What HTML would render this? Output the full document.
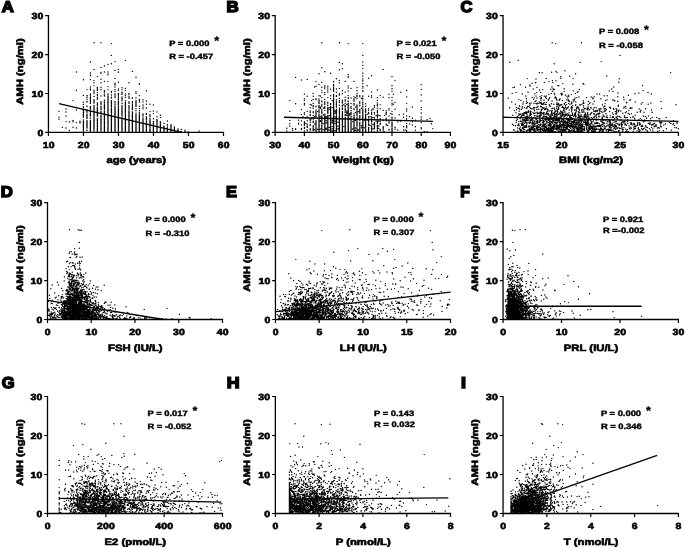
<!DOCTYPE html>
<html><head><meta charset="utf-8"><title>AMH correlations</title>
<style>
html,body{margin:0;padding:0;background:#fff;}
body{width:685px;height:547px;overflow:hidden;font-family:"Liberation Sans",sans-serif;}
svg{display:block;will-change:transform;}
text{font-family:"Liberation Sans",sans-serif;font-weight:bold;fill:#000;text-rendering:geometricPrecision;}
.ax{fill:none;stroke:#000;stroke-width:1.3;}
.tk{fill:none;stroke:#000;stroke-width:1.2;}
.pt{fill:none;stroke:#000;stroke-width:1.4;stroke-linecap:round;}
.rl{fill:none;stroke:#000;stroke-width:1.3;}
.tl{font-size:8.8px;stroke:#000;stroke-width:0.6px;letter-spacing:0.15px;}
.ti{font-size:9.2px;stroke:#000;stroke-width:0.6px;}
.an{font-size:7.8px;stroke:#000;stroke-width:0.4px;}
.st{font-size:12.5px;stroke:#000;stroke-width:0.3px;}
.lt{font-size:15.6px;stroke:#000;stroke-width:1.5px;stroke-linejoin:miter;}
</style></head>
<body>
<svg width="685" height="547" viewBox="0 0 685 547">
<rect width="685" height="547" fill="#fff"/>
<g><path class="pt" d="M94 42.8h.01m6.99 0h.01m10.39 .8h.01m-.01 11.8h.01m13.99 5.2h.01m-10.41 1h.01m-24.61 .4h.01m20.99 1.8h.01m-3.41 .6h.01m-3.61 1.6h.01m-3.41 1.4h.01m-7.01 2h.01m24.39 0h.01m-3.41 1h.01m17.39 1h.01m-56.01 .6h.01m27.99 0h.01m3.59 0h.01m10.39 0h.01m-.01 .2h.01m-17.41 .2h.01m-10.61 .6h.01m10.59 .2h.01m6.99 1h.01m-.01 .6h.01m-17.61 .4h.01m-.01 .4h.01m6.99 1h.01m38.59 .6h.01m-21.01 1.2h.01m-14.01 .8h.01m-10.61 .4h.01m-7.01 .2h.01m10.59 .8h.01m10.39 .8h.01m3.59 .2h.01m10.39 .6h.01m10.59 .4h.01m-35.01 .2h.01m6.99 0h.01m27.99 0h.01m-14.01 .4h.01m24.39 .4h.01m-24.41 .4h.01m24.39 .6h.01m-24.41 .4h.01m-21.01 .6h.01m13.99 1h.01m-17.61 .4h.01m24.59 0h.01m-14.01 .2h.01m-3.61 .2h.01m24.59 .4h.01m3.39 .6h.01m-28.01 .4h.01m-7.01 .2h.01m27.99 0h.01m-28.01 .4h.01m10.59 0h.01m-14.01 .2h.01m13.99 0h.01m6.99 0h.01m6.99 0h.01m6.99 0h.01m-24.61 .2h.01m-7.01 .2h.01m-14.01 .2h.01m17.59 0h.01m3.39 0h.01m-.01 .2h.01m20.99 0h.01m6.99 .2h.01m-21.01 .2h.01m41.99 0h.01m-31.41 .4h.01m-10.61 .2h.01m6.99 0h.01m-17.41 .4h.01m41.99 0h.01m-42.01 .2h.01m-.01 .2h.01m27.99 0h.01m-.01 .2h.01m-24.61 .2h.01m13.99 0h.01m10.59 0h.01m-17.61 .4h.01m17.59 0h.01m-3.61 .4h.01m10.59 0h.01m6.99 0h.01m-42.01 .2h.01m24.39 0h.01m-28.01 .4h.01m17.59 0h.01m6.99 0h.01m10.39 0h.01m-3.41 .2h.01m-31.61 .2h.01m6.99 0h.01m17.59 0h.01m3.39 0h.01m3.59 0h.01m-7.01 .2h.01m13.99 .2h.01m-24.61 .2h.01m3.59 0h.01m3.39 0h.01m-28.01 .4h.01m3.59 0h.01m17.39 0h.01m-14.01 .2h.01m13.99 0h.01m13.99 0h.01m20.99 0h.01m-49.01 .2h.01m6.99 0h.01m27.99 0h.01m-38.41 .2h.01m3.39 0h.01m10.59 0h.01m3.39 0h.01m10.59 0h.01m-21.01 .4h.01m13.99 0h.01m-.01 .2h.01m20.99 0h.01m-21.01 .2h.01m10.39 .2h.01m3.59 0h.01m-10.61 .2h.01m3.59 0h.01m13.99 0h.01m-38.61 .2h.01m6.99 0h.01m17.59 0h.01m-.01 .2h.01m10.39 0h.01m-38.41 .2h.01m20.99 0h.01m-17.61 .2h.01m20.99 0h.01m6.99 0h.01m13.99 0h.01m3.59 0h.01m-14.01 .2h.01m-14.01 .2h.01m24.39 0h.01m-42.01 .2h.01m6.99 0h.01m31.59 0h.01m-7.01 .2h.01m-24.61 .4h.01m10.59 0h.01m10.39 .2h.01m20.99 0h.01m-52.41 .2h.01m6.99 0h.01m24.39 0h.01m3.59 0h.01m-14.01 .2h.01m34.99 0h.01m-52.61 .2h.01m17.59 0h.01m-14.01 .2h.01m10.39 0h.01m-14.01 .2h.01m13.99 0h.01m3.59 0h.01m13.99 0h.01m-49.01 .2h.01m66.39 0h.01m-28.01 .2h.01m10.59 0h.01m3.39 0h.01m10.59 0h.01m-42.01 .2h.01m52.39 0h.01m-38.41 .2h.01m10.39 0h.01m-31.41 .2h.01m24.39 0h.01m3.59 0h.01m17.39 0h.01m3.59 0h.01m-45.61 .2h.01m10.59 0h.01m27.99 0h.01m-38.61 .2h.01m24.59 0h.01m3.39 0h.01m-31.41 .2h.01m6.99 0h.01m10.39 0h.01m3.59 0h.01m3.39 0h.01m24.59 0h.01m3.39 0h.01m3.59 0h.01m-59.61 .2h.01m20.99 0h.01m3.59 0h.01m3.39 0h.01m-10.41 .2h.01m3.39 0h.01m13.99 0h.01m6.99 0h.01m-31.41 .2h.01m13.99 0h.01m-17.61 .2h.01m3.59 0h.01m10.39 0h.01m3.59 0h.01m3.39 0h.01m17.59 0h.01m3.39 0h.01m3.59 0h.01m-42.01 .2h.01m3.39 0h.01m17.59 0h.01m3.39 0h.01m-28.01 .2h.01m6.99 0h.01m3.59 0h.01m6.99 0h.01m13.99 0h.01m3.39 0h.01m-14.01 .2h.01m10.59 0h.01m6.99 0h.01m-17.61 .2h.01m13.99 0h.01m-17.41 .2h.01m3.39 0h.01m6.99 0h.01m17.59 0h.01m-17.61 .2h.01m17.59 0h.01m-38.61 .2h.01m3.59 0h.01m3.39 0h.01m20.99 0h.01m6.99 0h.01m3.59 0h.01m10.39 0h.01m3.59 0h.01m-66.61 .2h.01m31.59 0h.01m3.39 0h.01m-10.41 .2h.01m3.39 0h.01m6.99 0h.01m-21.01 .2h.01m13.99 0h.01m13.99 0h.01m-17.41 .2h.01m6.99 0h.01m27.99 0h.01m10.39 0h.01m-42.01 .2h.01m24.59 0h.01m-42.01 .2h.01m10.39 0h.01m17.59 0h.01m-24.61 .2h.01m6.99 0h.01m3.59 0h.01m3.39 0h.01m13.99 0h.01m3.59 0h.01m3.39 0h.01m3.59 0h.01m-31.61 .2h.01m3.59 0h.01m13.99 0h.01m13.99 0h.01m-31.61 .2h.01m3.59 0h.01m10.39 0h.01m3.59 0h.01m3.39 0h.01m3.59 0h.01m-42.01 .2h.01m13.99 0h.01m10.39 0h.01m27.99 0h.01m-49.01 .2h.01m20.99 0h.01m-28.01 .2h.01m3.59 0h.01m13.99 0h.01m10.39 0h.01m24.59 0h.01m-42.01 .2h.01m10.39 0h.01m6.99 0h.01m3.59 0h.01m10.39 0h.01m6.99 0h.01m-31.41 .2h.01m17.39 0h.01m10.59 0h.01m13.99 0h.01m-59.61 .2h.01m6.99 0h.01m6.99 0h.01m6.99 0h.01m3.59 0h.01m6.99 0h.01m3.39 0h.01m3.59 0h.01m-45.61 .2h.01m6.99 0h.01m6.99 0h.01m6.99 0h.01m10.59 0h.01m6.99 0h.01m6.99 0h.01m-38.61 .2h.01m13.99 0h.01m3.59 0h.01m3.39 0h.01m3.59 0h.01m6.99 0h.01m6.99 0h.01m3.39 0h.01m3.59 0h.01m-38.61 .2h.01m3.59 0h.01m13.99 0h.01m13.99 0h.01m10.39 0h.01m-17.41 .2h.01m10.39 0h.01m20.99 0h.01m-49.01 .2h.01m3.59 0h.01m3.39 0h.01m3.59 0h.01m3.39 0h.01m3.59 0h.01m10.39 0h.01m-35.01 .2h.01m24.59 0h.01m17.39 0h.01m-38.41 .2h.01m6.99 0h.01m3.39 0h.01m6.99 0h.01m3.59 0h.01m6.99 0h.01m6.99 0h.01m10.39 0h.01m-45.41 .2h.01m13.99 0h.01m3.39 0h.01m6.99 0h.01m17.59 0h.01m6.99 0h.01m-77.01 .2h.01m24.39 0h.01m6.99 0h.01m3.59 0h.01m10.39 0h.01m3.59 0h.01m10.39 0h.01m-42.01 .2h.01m6.99 0h.01m13.99 0h.01m10.59 0h.01m10.39 0h.01m-31.41 .2h.01m3.39 0h.01m3.59 0h.01m6.99 0h.01m3.39 0h.01m6.99 0h.01m3.59 0h.01m10.39 0h.01m-38.41 .2h.01m3.39 0h.01m13.99 0h.01m17.59 0h.01m3.39 0h.01m-21.01 .2h.01m3.59 0h.01m6.99 0h.01m3.39 0h.01m-49.01 .2h.01m6.99 0h.01m3.59 0h.01m10.39 0h.01m27.99 0h.01m-28.01 .2h.01m10.59 0h.01m3.39 0h.01m6.99 0h.01m-7.01 .2h.01m3.59 0h.01m-31.61 .2h.01m3.59 0h.01m31.39 0h.01m3.59 0h.01m3.39 0h.01m-31.41 .2h.01m3.39 0h.01m10.59 0h.01m3.39 0h.01m6.99 0h.01m6.99 0h.01m10.59 0h.01m3.39 0h.01m-56.01 .2h.01m20.99 0h.01m6.99 0h.01m6.99 0h.01m3.59 0h.01m6.99 0h.01m24.39 0h.01m-94.41 .2h.01m24.39 0h.01m13.99 0h.01m3.59 0h.01m6.99 0h.01m3.39 0h.01m10.59 0h.01m3.39 0h.01m-38.41 .2h.01m3.39 0h.01m3.59 0h.01m13.99 0h.01m6.99 0h.01m3.39 0h.01m6.99 0h.01m-35.01 .2h.01m6.99 0h.01m6.99 0h.01m3.59 0h.01m13.99 0h.01m6.99 0h.01m20.99 0h.01m-56.01 .2h.01m6.99 0h.01m3.39 0h.01m6.99 0h.01m3.59 0h.01m10.39 0h.01m-59.41 .2h.01m34.99 0h.01m6.99 0h.01m3.39 0h.01m10.59 0h.01m6.99 0h.01m3.39 0h.01m24.59 0h.01m-52.61 .2h.01m6.99 0h.01m3.59 0h.01m13.99 0h.01m-45.61 .2h.01m27.99 0h.01m3.59 0h.01m3.39 0h.01m10.59 0h.01m-42.01 .2h.01m3.39 0h.01m6.99 0h.01m6.99 0h.01m3.59 0h.01m3.39 0h.01m6.99 0h.01m3.59 0h.01m6.99 0h.01m10.39 0h.01m-56.01 .2h.01m6.99 0h.01m3.59 0h.01m6.99 0h.01m3.39 0h.01m6.99 0h.01m6.99 0h.01m6.99 0h.01m3.59 0h.01m3.39 0h.01m-38.41 .2h.01m3.39 0h.01m13.99 0h.01m3.59 0h.01m13.99 0h.01m-24.61 .2h.01m3.59 0h.01m6.99 0h.01m3.39 0h.01m3.59 0h.01m10.39 0h.01m3.59 0h.01m-21.01 .2h.01m3.39 0h.01m3.59 0h.01m6.99 0h.01m17.39 0h.01m-45.41 .2h.01m17.39 0h.01m3.59 0h.01m17.39 0h.01m13.99 0h.01m-63.01 .2h.01m6.99 0h.01m17.59 0h.01m6.99 0h.01m3.39 0h.01m3.59 0h.01m17.39 0h.01m-52.41 .2h.01m20.99 0h.01m3.39 0h.01m6.99 0h.01m17.59 0h.01m-59.61 .2h.01m3.59 0h.01m10.39 0h.01m10.59 0h.01m6.99 0h.01m3.39 0h.01m24.59 0h.01m-59.61 .2h.01m6.99 0h.01m6.99 0h.01m10.59 0h.01m3.39 0h.01m3.59 0h.01m3.39 0h.01m3.59 0h.01m10.39 0h.01m6.99 0h.01m6.99 0h.01m-56.01 .2h.01m13.99 0h.01m3.59 0h.01m13.99 0h.01m3.39 0h.01m3.59 0h.01m6.99 0h.01m3.39 0h.01m3.59 0h.01m-56.01 .2h.01m3.39 0h.01m6.99 0h.01m6.99 0h.01m3.59 0h.01m10.39 0h.01m10.59 0h.01m20.99 0h.01m-66.61 .2h.01m6.99 0h.01m3.59 0h.01m3.39 0h.01m13.99 0h.01m3.59 0h.01m3.39 0h.01m3.59 0h.01m6.99 0h.01m6.99 0h.01m3.39 0h.01m-52.41 .2h.01m3.39 0h.01m10.59 0h.01m6.99 0h.01m6.99 0h.01m3.39 0h.01m3.59 0h.01m6.99 0h.01m3.39 0h.01m3.59 0h.01m3.39 0h.01m10.59 0h.01m10.39 0h.01m-73.41 .2h.01m3.39 0h.01m3.59 0h.01m10.39 0h.01m3.59 0h.01m3.39 0h.01m6.99 0h.01m6.99 0h.01m6.99 0h.01m-49.01 .2h.01m13.99 0h.01m24.59 0h.01m6.99 0h.01m13.99 0h.01m-59.61 .2h.01m13.99 0h.01m13.99 0h.01m17.59 0h.01m-63.01 .2h.01m20.99 0h.01m3.39 0h.01m27.99 0h.01m13.99 0h.01m3.59 0h.01m-49.01 .2h.01m10.39 0h.01m3.59 0h.01m10.39 0h.01m3.59 0h.01m3.39 0h.01m10.59 0h.01m6.99 0h.01m3.39 0h.01m10.59 0h.01m-56.01 .2h.01m10.39 0h.01m3.59 0h.01m3.39 0h.01m3.59 0h.01m3.39 0h.01m6.99 0h.01m3.59 0h.01m3.39 0h.01m-49.01 .2h.01m31.59 0h.01m3.39 0h.01m17.59 0h.01m3.39 0h.01m6.99 0h.01m-45.41 .2h.01m3.39 0h.01m3.59 0h.01m6.99 0h.01m3.39 0h.01m6.99 0h.01m3.59 0h.01m3.39 0h.01m24.59 0h.01m-70.01 .2h.01m17.39 0h.01m6.99 0h.01m6.99 0h.01m20.99 0h.01m3.59 0h.01m-84.01 .2h.01m24.39 0h.01m17.59 0h.01m3.39 0h.01m3.59 0h.01m3.39 0h.01m10.59 0h.01m6.99 0h.01m6.99 0h.01m3.39 0h.01m6.99 0h.01m-59.41 .2h.01m6.99 0h.01m6.99 0h.01m6.99 0h.01m6.99 0h.01m6.99 0h.01m3.39 0h.01m3.59 0h.01m3.39 0h.01m3.59 0h.01m3.39 0h.01m-45.41 .2h.01m13.99 0h.01m6.99 0h.01m6.99 0h.01m3.39 0h.01m3.59 0h.01m3.39 0h.01m27.99 0h.01m-66.41 .2h.01m6.99 0h.01m3.39 0h.01m3.59 0h.01m3.39 0h.01m3.59 0h.01m3.39 0h.01m3.59 0h.01m3.39 0h.01m6.99 0h.01m13.99 0h.01m-59.41 .2h.01m17.39 0h.01m6.99 0h.01m3.59 0h.01m3.39 0h.01m3.59 0h.01m3.39 0h.01m3.59 0h.01m6.99 0h.01m-45.61 .2h.01m20.99 0h.01m3.59 0h.01m3.39 0h.01m10.59 0h.01m10.39 0h.01m6.99 0h.01m3.59 0h.01m-52.61 .2h.01m13.99 0h.01m6.99 0h.01m3.59 0h.01m6.99 0h.01m6.99 0h.01m-49.01 .2h.01m3.39 0h.01m3.59 0h.01m13.99 0h.01m13.99 0h.01m3.39 0h.01m10.59 0h.01m-42.01 .2h.01m10.39 0h.01m3.59 0h.01m3.39 0h.01m3.59 0h.01m3.39 0h.01m3.59 0h.01m3.39 0h.01m6.99 0h.01m10.59 0h.01m10.39 0h.01m-59.41 .2h.01m6.99 0h.01m3.39 0h.01m3.59 0h.01m3.39 0h.01m3.59 0h.01m3.39 0h.01m6.99 0h.01m10.59 0h.01m3.39 0h.01m-80.41 .2h.01m34.99 0h.01m3.39 0h.01m3.59 0h.01m3.39 0h.01m3.59 0h.01m3.39 0h.01m3.59 0h.01m3.39 0h.01m6.99 0h.01m3.59 0h.01m3.39 0h.01m13.99 0h.01m-49.01 .2h.01m3.59 0h.01m3.39 0h.01m6.99 0h.01m3.59 0h.01m3.39 0h.01m3.59 0h.01m3.39 0h.01m13.99 0h.01m3.59 0h.01m13.99 0h.01m-63.01 .2h.01m3.39 0h.01m6.99 0h.01m6.99 0h.01m6.99 0h.01m3.59 0h.01m3.39 0h.01m3.59 0h.01m3.39 0h.01m13.99 0h.01m-35.01 .2h.01m3.59 0h.01m3.39 0h.01m3.59 0h.01m3.39 0h.01m3.59 0h.01m6.99 0h.01m6.99 0h.01m6.99 0h.01m-66.61 .2h.01m17.59 0h.01m10.39 0h.01m3.59 0h.01m3.39 0h.01m6.99 0h.01m10.59 0h.01m3.39 0h.01m-45.41 .2h.01m3.39 0h.01m3.59 0h.01m6.99 0h.01m6.99 0h.01m3.39 0h.01m3.59 0h.01m3.39 0h.01m13.99 0h.01m3.59 0h.01m-70.01 .2h.01m24.39 0h.01m17.59 0h.01m3.39 0h.01m3.59 0h.01m13.99 0h.01m13.99 0h.01m6.99 0h.01m-70.01 .2h.01m6.99 0h.01m3.39 0h.01m3.59 0h.01m3.39 0h.01m6.99 0h.01m3.59 0h.01m3.39 0h.01m3.59 0h.01m3.39 0h.01m3.59 0h.01m3.39 0h.01m3.59 0h.01m3.39 0h.01m-52.41 .2h.01m3.39 0h.01m3.59 0h.01m3.39 0h.01m3.59 0h.01m3.39 0h.01m6.99 0h.01m3.59 0h.01m3.39 0h.01m3.59 0h.01m3.39 0h.01m13.99 0h.01m10.59 0h.01m6.99 0h.01m-70.01 .2h.01m3.39 0h.01m3.59 0h.01m10.39 0h.01m3.59 0h.01m6.99 0h.01m6.99 0h.01m3.39 0h.01m3.59 0h.01m3.39 0h.01m6.99 0h.01m6.99 0h.01m10.59 0h.01m10.39 0h.01m-87.41 .2h.01m13.99 0h.01m13.99 0h.01m6.99 0h.01m3.39 0h.01m3.59 0h.01m3.39 0h.01m3.59 0h.01m3.39 0h.01m10.59 0h.01m6.99 0h.01m-66.61 .2h.01m3.59 0h.01m13.99 0h.01m17.39 0h.01m3.59 0h.01m3.39 0h.01m6.99 0h.01m20.99 0h.01m-87.41 .2h.01m24.39 0h.01m3.59 0h.01m13.99 0h.01m3.39 0h.01m3.59 0h.01m6.99 0h.01m6.99 0h.01m3.39 0h.01m3.59 0h.01m6.99 0h.01m6.99 0h.01m10.39 0h.01m-87.41 .2h.01m13.99 0h.01m6.99 0h.01m10.39 0h.01m3.59 0h.01m3.39 0h.01m3.59 0h.01m3.39 0h.01m6.99 0h.01m3.59 0h.01m3.39 0h.01m3.59 0h.01m10.39 0h.01m10.59 0h.01m-87.61 .2h.01m10.59 0h.01m6.99 0h.01m10.39 0h.01m6.99 0h.01m6.99 0h.01m3.59 0h.01m6.99 0h.01m3.39 0h.01m3.59 0h.01m3.39 0h.01m3.59 0h.01m3.39 0h.01m6.99 0h.01m13.99 0h.01m-77.01 .2h.01m6.99 0h.01m3.59 0h.01m3.39 0h.01m3.59 0h.01m3.39 0h.01m3.59 0h.01m3.39 0h.01m3.59 0h.01m6.99 0h.01m3.39 0h.01m3.59 0h.01m3.39 0h.01m3.59 0h.01m6.99 0h.01m3.39 0h.01m3.59 0h.01m-66.61 .2h.01m3.59 0h.01m10.39 0h.01m6.99 0h.01m3.59 0h.01m6.99 0h.01m10.39 0h.01m3.59 0h.01m3.39 0h.01m3.59 0h.01m3.39 0h.01m3.59 0h.01m3.39 0h.01m3.59 0h.01m-73.61 .2h.01m6.99 0h.01m3.59 0h.01m3.39 0h.01m6.99 0h.01m10.59 0h.01m6.99 0h.01m6.99 0h.01m3.39 0h.01m3.59 0h.01m6.99 0h.01m3.39 0h.01m3.59 0h.01m6.99 0h.01m-66.61 .2h.01m10.59 0h.01m6.99 0h.01m3.39 0h.01m13.99 0h.01m6.99 0h.01m3.59 0h.01m10.39 0h.01m10.59 0h.01m10.39 0h.01m-80.41 .2h.01m6.99 0h.01m13.99 0h.01m3.39 0h.01m3.59 0h.01m3.39 0h.01m3.59 0h.01m3.39 0h.01m6.99 0h.01m6.99 0h.01m10.59 0h.01m6.99 0h.01m3.39 0h.01m3.59 0h.01m-66.61 .2h.01m3.59 0h.01m3.39 0h.01m17.59 0h.01m10.39 0h.01m3.59 0h.01m3.39 0h.01m10.59 0h.01m10.39 0h.01m-70.01 .2h.01m31.59 0h.01m3.39 0h.01m3.59 0h.01m3.39 0h.01m3.59 0h.01m6.99 0h.01m3.39 0h.01m3.59 0h.01m3.39 0h.01m3.59 0h.01m3.39 0h.01m3.59 0h.01m6.99 0h.01m-80.61 .2h.01m6.99 0h.01m10.59 0h.01m3.39 0h.01m3.59 0h.01m3.39 0h.01m3.59 0h.01m6.99 0h.01m17.39 0h.01m6.99 0h.01m10.59 0h.01m3.39 0h.01m-73.41 .2h.01m6.99 0h.01m6.99 0h.01m3.39 0h.01m3.59 0h.01m3.39 0h.01m3.59 0h.01m3.39 0h.01m3.59 0h.01m3.39 0h.01m3.59 0h.01m3.39 0h.01m3.59 0h.01m3.39 0h.01m3.59 0h.01m6.99 0h.01m-63.01 .2h.01m3.39 0h.01m3.59 0h.01m3.39 0h.01m6.99 0h.01m6.99 0h.01m3.59 0h.01m13.99 0h.01m3.39 0h.01m3.59 0h.01m3.39 0h.01m3.59 0h.01m10.39 0h.01m-66.41 .2h.01m3.39 0h.01m3.59 0h.01m10.39 0h.01m6.99 0h.01m3.59 0h.01m3.39 0h.01m3.59 0h.01m13.99 0h.01m3.39 0h.01m-56.01 .2h.01m10.59 0h.01m6.99 0h.01m3.39 0h.01m6.99 0h.01m3.59 0h.01m17.39 0h.01m10.59 0h.01m3.39 0h.01m6.99 0h.01m-63.01 .2h.01m3.59 0h.01m10.39 0h.01m3.59 0h.01m6.99 0h.01m3.39 0h.01m6.99 0h.01m3.59 0h.01m3.39 0h.01m3.59 0h.01m3.39 0h.01m3.59 0h.01m3.39 0h.01m3.59 0h.01m6.99 0h.01m10.39 0h.01m-80.41 .2h.01m6.99 0h.01m6.99 0h.01m6.99 0h.01m13.99 0h.01m3.39 0h.01m3.59 0h.01m3.39 0h.01m13.99 0h.01m10.59 0h.01m3.39 0h.01m10.59 0h.01m-80.61 .2h.01m3.59 0h.01m6.99 0h.01m3.39 0h.01m6.99 0h.01m3.59 0h.01m3.39 0h.01m6.99 0h.01m3.59 0h.01m6.99 0h.01m6.99 0h.01m3.39 0h.01m10.59 0h.01m-73.61 .2h.01m3.59 0h.01m6.99 0h.01m3.39 0h.01m3.59 0h.01m10.39 0h.01m3.59 0h.01m3.39 0h.01m3.59 0h.01m3.39 0h.01m3.59 0h.01m3.39 0h.01m3.59 0h.01m3.39 0h.01m-52.41 .2h.01m3.39 0h.01m20.99 0h.01m3.59 0h.01m3.39 0h.01m6.99 0h.01m3.59 0h.01m6.99 0h.01m3.39 0h.01m6.99 0h.01m6.99 0h.01m3.59 0h.01m3.39 0h.01m10.59 0h.01m-77.01 .2h.01m6.99 0h.01m10.39 0h.01m3.59 0h.01m3.39 0h.01m3.59 0h.01m3.39 0h.01m3.59 0h.01m3.39 0h.01m10.59 0h.01m6.99 0h.01m-66.61 .2h.01m13.99 0h.01m6.99 0h.01m3.59 0h.01m10.39 0h.01m3.59 0h.01m3.39 0h.01m3.59 0h.01m3.39 0h.01m3.59 0h.01m3.39 0h.01m10.59 0h.01m10.39 0h.01m-70.01 .2h.01m6.99 0h.01m6.99 0h.01m3.59 0h.01m3.39 0h.01m10.59 0h.01m3.39 0h.01m6.99 0h.01m3.59 0h.01m6.99 0h.01m10.39 0h.01m6.99 0h.01m6.99 0h.01m-84.01 .2h.01m3.59 0h.01m3.39 0h.01m3.59 0h.01m20.99 0h.01m3.39 0h.01m3.59 0h.01m3.39 0h.01m3.59 0h.01m3.39 0h.01m3.59 0h.01m10.39 0h.01m3.59 0h.01m3.39 0h.01m3.59 0h.01m6.99 0h.01m-73.61 .2h.01m3.59 0h.01m17.39 0h.01m3.59 0h.01m3.39 0h.01m3.59 0h.01m6.99 0h.01m3.39 0h.01m3.59 0h.01m3.39 0h.01m6.99 0h.01m3.59 0h.01m3.39 0h.01m10.59 0h.01m6.99 0h.01m-66.61 .2h.01m13.99 0h.01m6.99 0h.01m3.59 0h.01m3.39 0h.01m3.59 0h.01m3.39 0h.01m3.59 0h.01m6.99 0h.01m10.39 0h.01m-77.01 .2h.01m3.59 0h.01m6.99 0h.01m3.39 0h.01m3.59 0h.01m3.39 0h.01m6.99 0h.01m3.59 0h.01m6.99 0h.01m3.39 0h.01m3.59 0h.01m3.39 0h.01m3.59 0h.01m3.39 0h.01m3.59 0h.01m3.39 0h.01m-45.41 .2h.01m3.39 0h.01m6.99 0h.01m3.59 0h.01m6.99 0h.01m3.39 0h.01m3.59 0h.01m6.99 0h.01m10.39 0h.01m3.59 0h.01m3.39 0h.01m10.59 0h.01m6.99 0h.01m3.39 0h.01m-101.41 .2h.01m10.39 0h.01m10.59 0h.01m6.99 0h.01m3.39 0h.01m3.59 0h.01m6.99 0h.01m3.39 0h.01m10.59 0h.01m3.39 0h.01m3.59 0h.01m3.39 0h.01m3.59 0h.01m3.39 0h.01m10.59 0h.01m6.99 0h.01m-101.61 .2h.01m24.59 0h.01m3.39 0h.01m3.59 0h.01m10.39 0h.01m3.59 0h.01m3.39 0h.01m3.59 0h.01m3.39 0h.01m3.59 0h.01m3.39 0h.01m3.59 0h.01m6.99 0h.01m6.99 0h.01m6.99 0h.01m-63.01 .2h.01m3.39 0h.01m3.59 0h.01m6.99 0h.01m3.39 0h.01m10.59 0h.01m6.99 0h.01m3.39 0h.01m3.59 0h.01m3.39 0h.01m13.99 0h.01m13.99 0h.01m3.59 0h.01m6.99 0h.01m-87.61 .2h.01m10.59 0h.01m17.39 0h.01m3.59 0h.01m3.39 0h.01m3.59 0h.01m3.39 0h.01m6.99 0h.01m6.99 0h.01m24.59 0h.01m3.39 0h.01m-101.41 .2h.01m10.39 0h.01m10.59 0h.01m10.39 0h.01m6.99 0h.01m6.99 0h.01m17.59 0h.01m3.39 0h.01m6.99 0h.01m13.99 0h.01m3.59 0h.01m3.39 0h.01m13.99 0h.01m-84.01 .2h.01m3.59 0h.01m6.99 0h.01m3.39 0h.01m6.99 0h.01m17.59 0h.01m3.39 0h.01m3.59 0h.01m6.99 0h.01m10.39 0h.01m3.59 0h.01m6.99 0h.01m6.99 0h.01m-80.61 .2h.01m3.59 0h.01m13.99 0h.01m3.39 0h.01m3.59 0h.01m3.39 0h.01m3.59 0h.01m3.39 0h.01m3.59 0h.01m3.39 0h.01m3.59 0h.01m3.39 0h.01m31.59 0h.01m3.39 0h.01m-84.01 .2h.01m6.99 0h.01m3.59 0h.01m3.39 0h.01m3.59 0h.01m6.99 0h.01m3.39 0h.01m10.59 0h.01m3.39 0h.01m10.59 0h.01m3.39 0h.01m3.59 0h.01m3.39 0h.01m3.59 0h.01m3.39 0h.01m-77.01 .2h.01m6.99 0h.01m3.59 0h.01m3.39 0h.01m6.99 0h.01m3.59 0h.01m6.99 0h.01m6.99 0h.01m3.39 0h.01m3.59 0h.01m6.99 0h.01m3.39 0h.01m3.59 0h.01m3.39 0h.01m3.59 0h.01m3.39 0h.01m17.59 0h.01m-70.01 .2h.01m17.39 0h.01m3.59 0h.01m6.99 0h.01m13.99 0h.01m3.39 0h.01m3.59 0h.01m3.39 0h.01m13.99 0h.01m10.59 0h.01m-87.61 .2h.01m6.99 0h.01m3.59 0h.01m6.99 0h.01m3.39 0h.01m3.59 0h.01m6.99 0h.01m6.99 0h.01m3.39 0h.01m6.99 0h.01m6.99 0h.01m6.99 0h.01m6.99 0h.01m3.59 0h.01m10.39 0h.01m-91.01 .2h.01m13.99 0h.01m3.59 0h.01m3.39 0h.01m3.59 0h.01m3.39 0h.01m3.59 0h.01m3.39 0h.01m3.59 0h.01m3.39 0h.01m3.59 0h.01m3.39 0h.01m3.59 0h.01m6.99 0h.01m6.99 0h.01m27.99 0h.01m3.39 0h.01m-73.41 .2h.01m10.39 0h.01m3.59 0h.01m13.99 0h.01m3.39 0h.01m17.59 0h.01m3.39 0h.01m6.99 0h.01m6.99 0h.01m-66.41 .2h.01m3.39 0h.01m3.59 0h.01m6.99 0h.01m3.39 0h.01m3.59 0h.01m6.99 0h.01m3.39 0h.01m3.59 0h.01m3.39 0h.01m3.59 0h.01m3.39 0h.01m3.59 0h.01m6.99 0h.01m-73.61 .2h.01m3.59 0h.01m6.99 0h.01m3.39 0h.01m6.99 0h.01m3.59 0h.01m6.99 0h.01m6.99 0h.01m3.39 0h.01m3.59 0h.01m3.39 0h.01m3.59 0h.01m3.39 0h.01m3.59 0h.01m3.39 0h.01m13.99 0h.01m6.99 0h.01m-87.41 .2h.01m6.99 0h.01m20.99 0h.01m3.39 0h.01m10.59 0h.01m6.99 0h.01m3.39 0h.01m3.59 0h.01m10.39 0h.01m17.59 0h.01m3.39 0h.01m3.59 0h.01m6.99 0h.01m-115.61 .2h.01m17.59 0h.01m6.99 0h.01m3.39 0h.01m6.99 0h.01m10.59 0h.01m3.39 0h.01m3.59 0h.01m3.39 0h.01m3.59 0h.01m3.39 0h.01m3.59 0h.01m3.39 0h.01m3.59 0h.01m3.39 0h.01m3.59 0h.01m10.39 0h.01m-77.01 .2h.01m6.99 0h.01m13.99 0h.01m13.99 0h.01m6.99 0h.01m6.99 0h.01m3.59 0h.01m3.39 0h.01m3.59 0h.01m6.99 0h.01m13.99 0h.01m3.39 0h.01m3.59 0h.01m3.39 0h.01m3.59 0h.01m-87.61 .2h.01m6.99 0h.01m6.99 0h.01m3.59 0h.01m3.39 0h.01m13.99 0h.01m6.99 0h.01m3.59 0h.01m3.39 0h.01m3.59 0h.01m6.99 0h.01m3.39 0h.01m6.99 0h.01m6.99 0h.01m3.59 0h.01m-80.61 .2h.01m10.59 0h.01m17.39 0h.01m3.59 0h.01m3.39 0h.01m3.59 0h.01m3.39 0h.01m3.59 0h.01m3.39 0h.01m3.59 0h.01m6.99 0h.01m6.99 0h.01m3.39 0h.01m13.99 0h.01m24.59 0h.01m-94.61 .2h.01m3.59 0h.01m3.39 0h.01m20.99 0h.01m3.59 0h.01m3.39 0h.01m3.59 0h.01m3.39 0h.01m3.59 0h.01m3.39 0h.01m10.59 0h.01m3.39 0h.01m10.59 0h.01m-63.01 .2h.01m6.99 0h.01m3.39 0h.01m3.59 0h.01m6.99 0h.01m6.99 0h.01m6.99 0h.01m3.39 0h.01m3.59 0h.01m3.39 0h.01m3.59 0h.01m3.39 0h.01m17.59 0h.01m-94.61 .2h.01m27.99 0h.01m6.99 0h.01m3.59 0h.01m3.39 0h.01m3.59 0h.01m3.39 0h.01m3.59 0h.01m6.99 0h.01m3.39 0h.01m3.59 0h.01m3.39 0h.01m6.99 0h.01m3.59 0h.01m3.39 0h.01m10.59 0h.01m-101.61 .2h.01m13.99 0h.01m24.59 0h.01m3.39 0h.01m3.59 0h.01m3.39 0h.01m17.59 0h.01m13.99 0h.01m10.39 0h.01m6.99 0h.01m-87.41 .2h.01m10.39 0h.01m45.59 0h.01m6.99 0h.01m13.99 0h.01m10.39 0h.01m6.99 0h.01m-66.41 .2h.01m17.39 0h.01m10.59 0h.01m20.99 0h.01m-66.61 .2h.01m41.99 0h.01m24.59 0h.01"/><path class="rl" d="M58.95 103.63L181.49 132.45"/><path class="ax" d="M48.45 15V133.05M47.85 132.45H224.1"/><path class="tk" d="M45.15 132.45H48.45M45.15 93.5H48.45M45.15 54.55H48.45M45.15 15.6H48.45M48.45 132.45V135.95M83.46 132.45V135.95M118.47 132.45V135.95M153.48 132.45V135.95M188.49 132.45V135.95M223.5 132.45V135.95"/><text class="tl" text-anchor="end" transform="translate(43.45 135.6) scale(1.19 1)">0</text><text class="tl" text-anchor="end" transform="translate(43.45 96.65) scale(1.19 1)">10</text><text class="tl" text-anchor="end" transform="translate(43.45 57.7) scale(1.19 1)">20</text><text class="tl" text-anchor="end" transform="translate(43.45 18.75) scale(1.19 1)">30</text><text class="tl" text-anchor="middle" transform="translate(48.65 147.9) scale(1.19 1)">10</text><text class="tl" text-anchor="middle" transform="translate(83.66 147.9) scale(1.19 1)">20</text><text class="tl" text-anchor="middle" transform="translate(118.67 147.9) scale(1.19 1)">30</text><text class="tl" text-anchor="middle" transform="translate(153.68 147.9) scale(1.19 1)">40</text><text class="tl" text-anchor="middle" transform="translate(188.69 147.9) scale(1.19 1)">50</text><text class="tl" text-anchor="middle" transform="translate(223.7 147.9) scale(1.19 1)">60</text><text class="ti" text-anchor="middle" transform="translate(136.28 163.45) scale(1.23 1)">age (years)</text><text class="ti" text-anchor="middle" transform="translate(23.45 71.52) rotate(-90) scale(1.23 1)">AMH (ng/ml)</text><text class="an" transform="translate(169.2 46) scale(1.2 1)">P = 0.000</text><text class="an" transform="translate(169.2 58.8) scale(1.2 1)">R = -0.457</text><text class="st" transform="translate(214.3 45.3)">*</text></g>
<g><path class="pt" d="M321.8 42.8h.01m17.59 0h.01m8.79 .8h.01m14.59 0h.01m-.01 11.8h.01m-.01 6.6h.01m-23.41 .4h.01m2.99 1.4h.01m20.39 1.6h.01m-41.01 2.4h.01m20.59 .8h.01m20.39 0h.01m20.39 .8h.01m-43.81 .4h.01m-14.61 2h.01m5.79 1.4h.01m32.19 0h.01m-43.81 .6h.01m29.19 .6h.01m23.39 1.4h.01m-8.81 .2h.01m-14.61 .8h.01m43.79 0h.01m-96.41 .6h.01m52.59 .2h.01m20.39 .6h.01m-32.21 .6h.01m26.39 .2h.01m-55.61 .4h.01m-5.81 .6h.01m37.99 .4h.01m23.39 .2h.01m32.19 0h.01m-32.21 .4h.01m-29.21 .4h.01m11.59 0h.01m8.79 0h.01m-38.01 .2h.01m17.59 .2h.01m-11.81 .6h.01m17.59 .4h.01m23.39 1h.01m-43.81 .6h.01m14.59 0h.01m87.59 .2h.01m-87.61 .6h.01m-8.81 .6h.01m42.39 0h.01m24.79 0h.01m-58.41 .2h.01m14.59 0h.01m-32.21 .2h.01m11.79 0h.01m34.99 .2h.01m-48.21 .6h.01m7.19 .2h.01m2.99 0h.01m8.79 .4h.01m23.39 0h.01m-29.21 .4h.01m20.39 0h.01m14.59 0h.01m-29.21 .4h.01m5.79 0h.01m11.59 0h.01m-26.21 .2h.01m67.19 .2h.01m-58.41 .2h.01m2.79 0h.01m-5.81 .2h.01m2.99 .2h.01m87.59 .2h.01m-93.41 .4h.01m49.59 0h.01m29.19 .4h.01m-84.81 .2h.01m11.79 .2h.01m8.79 0h.01m14.59 0h.01m5.79 0h.01m-14.61 .2h.01m43.79 .2h.01m-58.41 .2h.01m29.19 .2h.01m-35.01 .4h.01m43.79 0h.01m-35.21 .2h.01m8.79 0h.01m55.59 0h.01m-76.01 .2h.01m-3.01 .2h.01m-8.61 .8h.01m29.19 .4h.01m14.59 0h.01m-52.61 .2h.01m34.99 0h.01m49.59 .2h.01m4.39 0h.01m-68.61 .2h.01m8.79 0h.01m5.79 0h.01m-5.81 .2h.01m5.79 .2h.01m-.01 .2h.01m81.79 0h.01m-64.21 .4h.01m-20.61 .2h.01m11.79 0h.01m11.59 0h.01m20.39 0h.01m-61.21 .2h.01m11.59 0h.01m2.99 0h.01m37.99 0h.01m-51.21 .2h.01m13.19 0h.01m2.79 0h.01m26.39 0h.01m-55.61 .2h.01m5.99 0h.01m49.59 0h.01m5.79 0h.01m-32.21 .2h.01m20.59 0h.01m-23.41 .2h.01m20.39 .2h.01m5.79 0h.01m46.79 .2h.01m-61.41 .2h.01m37.99 0h.01m-11.61 .2h.01m20.39 0h.01m-70.21 .2h.01m5.99 0h.01m20.39 0h.01m7.19 0h.01m36.59 0h.01m-14.61 .2h.01m11.59 0h.01m-55.41 .2h.01m14.59 0h.01m2.79 0h.01m5.99 .2h.01m4.39 0h.01m1.39 0h.01m-29.21 .2h.01m5.79 0h.01m8.79 0h.01m-32.21 .2h.01m14.59 0h.01m23.39 0h.01m2.99 0h.01m5.79 0h.01m-58.41 .2h.01m11.59 .2h.01m2.99 0h.01m14.59 .2h.01m-20.41 .2h.01m11.59 0h.01m-11.61 .2h.01m2.79 0h.01m20.39 0h.01m8.79 .2h.01m8.79 0h.01m8.79 .2h.01m-29.21 .2h.01m8.79 0h.01m11.59 0h.01m-49.61 .2h.01m14.59 0h.01m34.99 0h.01m23.39 0h.01m-87.61 .2h.01m21.79 0h.01m21.99 0h.01m58.39 0h.01m-59.81 .2h.01m7.19 0h.01m-20.41 .2h.01m2.79 0h.01m23.39 0h.01m2.99 0h.01m5.79 0h.01m67.19 0h.01m-102.21 .2h.01m17.39 0h.01m2.99 0h.01m-5.81 .2h.01m14.59 0h.01m-23.41 .2h.01m34.99 0h.01m-38.01 .2h.01m20.59 0h.01m-8.81 .2h.01m-5.81 .2h.01m34.99 0h.01m-43.81 .2h.01m14.59 0h.01m26.19 0h.01m35.19 0h.01m-55.61 .2h.01m-14.61 .2h.01m8.79 0h.01m2.79 0h.01m5.99 0h.01m-.01 .2h.01m20.39 0h.01m14.59 0h.01m-58.41 .2h.01m14.59 0h.01m11.59 0h.01m2.99 0h.01m11.59 0h.01m32.19 0h.01m-87.61 .2h.01m8.79 0h.01m20.39 0h.01m17.39 0h.01m2.99 0h.01m-35.01 .2h.01m8.79 0h.01m23.19 0h.01m55.59 0h.01m-111.01 .2h.01m8.79 0h.01m20.39 0h.01m5.79 0h.01m23.39 0h.01m11.59 0h.01m-29.21 .2h.01m17.59 0h.01m-32.21 .2h.01m14.59 0h.01m11.79 0h.01m45.19 0h.01m-83.21 .2h.01m23.39 0h.01m13.19 0h.01m15.99 0h.01m-52.61 .2h.01m14.59 0h.01m5.79 0h.01m2.99 0h.01m2.79 0h.01m43.79 0h.01m-49.61 .2h.01m13.19 0h.01m18.99 0h.01m14.59 0h.01m-73.01 .2h.01m7.19 0h.01m42.39 0h.01m2.99 0h.01m20.39 0h.01m14.59 0h.01m-64.21 .2h.01m11.59 0h.01m2.99 0h.01m14.59 0h.01m2.79 0h.01m-40.81 .2h.01m2.79 0h.01m5.99 0h.01m11.59 0h.01m2.99 0h.01m2.79 0h.01m2.99 0h.01m-20.41 .2h.01m5.79 0h.01m14.59 0h.01m-35.01 .2h.01m5.79 0h.01m17.39 0h.01m23.39 0h.01m14.59 0h.01m2.99 0h.01m-41.01 .2h.01m8.79 0h.01m11.79 0h.01m-41.01 .2h.01m2.99 0h.01m14.59 0h.01m11.59 0h.01m20.39 0h.01m-49.61 .2h.01m34.99 0h.01m5.99 0h.01m5.79 0h.01m-49.61 .2h.01m8.59 0h.01m23.39 0h.01m2.99 0h.01m2.79 0h.01m5.99 0h.01m-41.01 .2h.01m8.79 0h.01m5.79 0h.01m2.99 0h.01m8.79 0h.01m5.79 0h.01m-29.21 .2h.01m11.59 0h.01m2.99 0h.01m2.79 0h.01m8.79 0h.01m2.99 0h.01m7.19 0h.01m56.99 0h.01m-92.01 .2h.01m10.19 0h.01m2.99 0h.01m40.79 0h.01m-55.41 .2h.01m5.79 0h.01m2.99 0h.01m5.79 0h.01m14.59 0h.01m-16.01 .2h.01m18.79 0h.01m70.19 0h.01m-111.01 .2h.01m18.99 0h.01m27.79 0h.01m-38.01 .2h.01m4.39 0h.01m1.39 0h.01m5.79 0h.01m8.79 0h.01m8.79 0h.01m14.59 0h.01m-49.61 .2h.01m7.19 0h.01m40.99 0h.01m15.99 0h.01m-52.61 .2h.01m2.99 0h.01m5.79 0h.01m8.79 0h.01m8.59 0h.01m2.99 .2h.01m2.99 0h.01m11.59 0h.01m4.39 0h.01m15.99 0h.01m-61.21 .2h.01m2.79 0h.01m2.99 0h.01m11.59 0h.01m2.99 0h.01m5.79 0h.01m26.19 0h.01m-46.61 .2h.01m8.79 0h.01m23.19 0h.01m40.99 0h.01m-84.81 .2h.01m5.99 0h.01m2.79 0h.01m2.99 0h.01m2.79 0h.01m58.59 0h.01m-61.41 .2h.01m5.79 0h.01m2.99 0h.01m2.79 0h.01m14.59 0h.01m-58.41 .2h.01m27.79 0h.01m4.39 0h.01m11.59 0h.01m8.79 0h.01m18.99 0h.01m48.19 0h.01m-93.41 .2h.01m5.79 0h.01m2.79 0h.01m11.79 0h.01m8.79 0h.01m5.79 0h.01m2.79 0h.01m-49.61 .2h.01m2.99 0h.01m8.79 0h.01m2.79 0h.01m40.99 0h.01m17.39 0h.01m-70.01 .2h.01m43.79 0h.01m5.79 0h.01m-49.61 .2h.01m5.79 0h.01m11.59 0h.01m11.79 0h.01m2.79 0h.01m11.79 0h.01m14.59 0h.01m5.79 0h.01m-64.21 .2h.01m2.79 0h.01m11.79 0h.01m1.39 0h.01m1.39 0h.01m8.79 0h.01m14.59 0h.01m26.39 0h.01m-64.41 .2h.01m8.79 0h.01m2.99 0h.01m5.79 0h.01m20.39 0h.01m-49.61 .2h.01m17.59 0h.01m18.99 0h.01m1.39 0h.01m8.79 0h.01m2.79 0h.01m2.99 0h.01m2.79 0h.01m40.99 0h.01m-76.01 .2h.01m5.79 0h.01m11.79 0h.01m-58.41 .2h.01m17.39 0h.01m8.79 0h.01m1.59 0h.01m10.19 0h.01m5.79 0h.01m2.79 0h.01m2.99 0h.01m2.99 0h.01m5.79 0h.01m8.79 0h.01m2.79 0h.01m5.79 0h.01m-46.61 .2h.01m14.59 0h.01m2.79 0h.01m5.99 0h.01m2.79 0h.01m2.99 0h.01m10.19 0h.01m4.39 0h.01m14.59 0h.01m14.59 0h.01m-78.81 .2h.01m14.59 0h.01m5.79 0h.01m1.39 0h.01m1.39 0h.01m2.99 0h.01m23.39 0h.01m-43.81 .2h.01m2.79 0h.01m5.99 0h.01m20.39 0h.01m11.59 0h.01m2.99 0h.01m14.59 0h.01m-67.21 .2h.01m5.79 0h.01m2.99 0h.01m8.79 0h.01m2.79 0h.01m5.79 0h.01m14.59 0h.01m5.99 0h.01m8.59 0h.01m5.99 0h.01m14.59 0h.01m-76.01 .2h.01m11.59 0h.01m8.79 0h.01m8.79 0h.01m2.99 0h.01m2.79 0h.01m1.59 0h.01m8.59 0h.01m7.39 0h.01m5.79 0h.01m5.79 0h.01m2.99 0h.01m-46.81 .2h.01m2.99 0h.01m11.59 0h.01m5.79 0h.01m8.79 0h.01m17.59 0h.01m-73.01 .2h.01m8.79 0h.01m2.79 0h.01m5.79 0h.01m8.79 0h.01m2.99 0h.01m2.79 0h.01m11.79 0h.01m8.79 0h.01m5.79 0h.01m-58.41 .2h.01m14.59 0h.01m8.79 0h.01m2.79 0h.01m2.99 0h.01m5.79 0h.01m8.79 0h.01m2.79 0h.01m35.19 0h.01m34.99 0h.01m-90.61 .2h.01m4.39 0h.01m1.39 0h.01m2.99 0h.01m7.39 0h.01m1.39 0h.01m11.59 0h.01m2.99 0h.01m-46.81 .2h.01m11.79 0h.01m2.79 0h.01m2.99 0h.01m8.79 0h.01m20.39 0h.01m27.79 0h.01m-74.61 .2h.01m5.79 0h.01m27.79 0h.01m1.39 0h.01m5.99 0h.01m11.59 0h.01m17.59 0h.01m-55.61 .2h.01m2.99 0h.01m2.79 0h.01m17.59 0h.01m2.99 0h.01m5.79 0h.01m5.79 0h.01m2.99 0h.01m-38.01 .2h.01m14.59 0h.01m2.79 0h.01m23.39 0h.01m29.19 0h.01m-78.81 .2h.01m5.79 0h.01m11.79 0h.01m5.79 0h.01m2.79 0h.01m16.19 0h.01m10.19 0h.01m8.79 0h.01m5.79 0h.01m-81.81 .2h.01m5.79 0h.01m17.59 0h.01m11.59 0h.01m5.79 0h.01m5.99 0h.01m8.59 0h.01m5.99 0h.01m20.39 0h.01m-90.61 .2h.01m2.99 0h.01m14.59 0h.01m20.39 0h.01m23.39 0h.01m-39.41 .2h.01m1.39 0h.01m8.79 0h.01m11.59 0h.01m17.59 0h.01m36.39 0h.01m-80.21 .2h.01m11.59 0h.01m11.79 0h.01m4.39 0h.01m2.79 0h.01m-33.61 .2h.01m2.99 0h.01m14.59 0h.01m2.79 0h.01m8.79 0h.01m1.59 0h.01m2.79 0h.01m-39.41 .2h.01m2.99 0h.01m5.79 0h.01m5.79 0h.01m2.99 0h.01m20.39 0h.01m5.79 0h.01m24.79 0h.01m5.79 0h.01m-65.61 .2h.01m2.79 0h.01m5.99 0h.01m2.79 0h.01m8.79 0h.01m5.79 0h.01m11.79 0h.01m18.99 0h.01m-57.01 .2h.01m10.19 0h.01m1.39 0h.01m2.99 0h.01m8.79 0h.01m5.79 0h.01m8.79 0h.01m2.79 0h.01m2.99 0h.01m2.79 0h.01m10.39 0h.01m1.39 0h.01m2.79 0h.01m-61.21 .2h.01m2.79 0h.01m2.99 0h.01m2.99 0h.01m5.79 0h.01m8.79 0h.01m11.59 0h.01m11.59 0h.01m23.39 0h.01m17.59 0h.01m-78.81 .2h.01m5.79 0h.01m2.79 0h.01m2.99 0h.01m2.99 0h.01m5.79 0h.01m2.79 0h.01m2.99 0h.01m-38.01 .2h.01m8.79 0h.01m2.99 0h.01m23.19 0h.01m-43.81 .2h.01m7.39 0h.01m1.39 0h.01m4.39 0h.01m7.39 0h.01m11.59 0h.01m8.79 0h.01m11.59 0h.01m5.79 0h.01m2.99 0h.01m40.99 0h.01m-106.81 .2h.01m13.19 0h.01m5.79 0h.01m4.39 0h.01m4.39 0h.01m2.99 0h.01m2.79 0h.01m11.79 0h.01m11.59 0h.01m2.99 0h.01m7.19 0h.01m7.39 0h.01m-61.41 .2h.01m2.99 0h.01m8.79 0h.01m5.79 0h.01m1.39 0h.01m4.39 0h.01m2.99 0h.01m5.79 0h.01m23.39 0h.01m49.59 0h.01m-96.41 .2h.01m2.99 0h.01m5.79 0h.01m5.79 0h.01m2.99 0h.01m14.59 0h.01m34.99 0h.01m11.59 0h.01m-113.81 .2h.01m23.39 0h.01m5.79 0h.01m5.79 0h.01m5.79 0h.01m2.99 0h.01m11.59 0h.01m2.99 0h.01m5.79 0h.01m5.79 0h.01m5.79 0h.01m7.39 0h.01m-54.01 .2h.01m7.19 0h.01m4.39 0h.01m5.79 0h.01m2.99 0h.01m8.79 0h.01m14.59 0h.01m11.59 0h.01m2.99 0h.01m-71.61 .2h.01m7.39 0h.01m5.79 0h.01m2.79 0h.01m2.99 0h.01m8.79 0h.01m11.59 0h.01m2.99 0h.01m14.59 0h.01m29.19 0h.01m-64.21 .2h.01m2.79 0h.01m2.99 0h.01m14.59 0h.01m2.79 0h.01m14.59 0h.01m2.99 0h.01m26.39 0h.01m-76.01 .2h.01m2.79 0h.01m5.99 0h.01m2.79 0h.01m5.79 0h.01m5.99 0h.01m2.79 0h.01m2.99 0h.01m14.59 0h.01m2.79 0h.01m20.59 0h.01m26.19 0h.01m-99.21 .2h.01m5.79 0h.01m13.19 0h.01m1.39 0h.01m11.59 0h.01m2.99 0h.01m1.39 0h.01m4.39 0h.01m2.99 0h.01m8.59 0h.01m5.99 0h.01m58.39 0h.01m-111.01 .2h.01m2.79 0h.01m2.99 0h.01m11.59 0h.01m2.99 0h.01m5.79 0h.01m17.59 0h.01m17.39 0h.01m-68.61 .2h.01m1.59 0h.01m5.79 0h.01m2.79 0h.01m2.99 0h.01m2.99 0h.01m2.79 0h.01m2.99 0h.01m2.79 0h.01m11.79 0h.01m2.79 0h.01m11.79 0h.01m8.79 0h.01m34.99 0h.01m-96.41 .2h.01m2.99 0h.01m5.79 0h.01m2.79 0h.01m2.99 0h.01m5.79 0h.01m2.99 0h.01m5.79 0h.01m2.99 0h.01m17.39 0h.01m2.99 0h.01m11.59 0h.01m17.59 0h.01m-81.81 .2h.01m14.59 0h.01m5.79 0h.01m2.99 0h.01m2.79 0h.01m8.79 0h.01m2.99 0h.01m14.59 0h.01m8.79 0h.01m5.79 0h.01m2.79 0h.01m5.99 0h.01m34.99 0h.01m-96.41 .2h.01m8.79 0h.01m2.79 0h.01m8.79 0h.01m2.99 0h.01m5.79 0h.01m7.39 0h.01m-42.41 .2h.01m8.79 0h.01m8.59 0h.01m2.99 0h.01m8.79 0h.01m8.79 0h.01m5.79 0h.01m2.79 0h.01m-46.61 .2h.01m2.79 0h.01m11.79 0h.01m2.79 0h.01m2.99 0h.01m5.79 0h.01m2.99 0h.01m2.79 0h.01m29.19 0h.01m46.79 0h.01m-116.81 .2h.01m8.79 0h.01m2.79 0h.01m8.79 0h.01m2.99 0h.01m2.79 0h.01m5.99 0h.01m2.79 0h.01m2.99 0h.01m5.79 0h.01m13.19 0h.01m1.39 0h.01m2.99 0h.01m-73.01 .2h.01m11.59 0h.01m8.79 0h.01m2.79 0h.01m10.39 0h.01m10.19 0h.01m5.79 0h.01m5.79 0h.01m10.19 0h.01m4.39 0h.01m14.59 0h.01m2.99 0h.01m20.39 0h.01m8.79 0h.01m-125.61 .2h.01m20.39 0h.01m8.79 0h.01m5.79 0h.01m2.99 0h.01m8.59 0h.01m5.99 0h.01m5.79 0h.01m7.19 0h.01m1.59 0h.01m2.79 0h.01m2.99 0h.01m20.39 0h.01m-67.21 .2h.01m4.39 0h.01m4.39 0h.01m5.79 0h.01m1.59 0h.01m1.39 0h.01m11.59 0h.01m5.79 0h.01m11.79 0h.01m2.79 0h.01m2.99 0h.01m26.39 0h.01m-87.81 .2h.01m8.79 0h.01m2.99 0h.01m5.79 0h.01m1.39 0h.01m1.59 0h.01m4.39 0h.01m1.39 0h.01m5.79 0h.01m8.79 0h.01m8.79 0h.01m8.59 0h.01m20.59 0h.01m-84.81 .2h.01m20.39 0h.01m5.99 0h.01m5.79 0h.01m8.79 0h.01m2.79 0h.01m8.79 0h.01m8.79 0h.01m2.79 0h.01m2.99 0h.01m2.99 0h.01m4.39 0h.01m-62.81 .2h.01m11.59 0h.01m8.79 0h.01m1.39 0h.01m4.39 0h.01m5.79 0h.01m11.79 0h.01m5.79 0h.01m2.79 0h.01m2.99 0h.01m8.79 0h.01m1.39 0h.01m10.19 0h.01m11.79 0h.01m-81.81 .2h.01m1.39 0h.01m13.19 0h.01m2.79 0h.01m8.79 0h.01m2.99 0h.01m8.79 0h.01m5.79 0h.01m-43.81 .2h.01m2.79 0h.01m5.99 0h.01m5.79 0h.01m2.79 0h.01m2.99 0h.01m2.99 0h.01m5.79 0h.01m2.79 0h.01m1.59 0h.01m1.39 0h.01m8.79 0h.01m8.79 0h.01m5.79 0h.01m2.79 0h.01m-75.81 .2h.01m8.79 0h.01m11.59 0h.01m2.99 0h.01m2.79 0h.01m14.59 0h.01m2.99 0h.01m2.79 0h.01m5.99 0h.01m5.79 0h.01m34.99 0h.01m14.59 0h.01m-99.21 .2h.01m2.79 0h.01m8.79 0h.01m2.99 0h.01m5.79 0h.01m5.79 0h.01m5.79 0h.01m2.99 0h.01m43.79 0h.01m-81.81 .2h.01m5.79 0h.01m2.99 0h.01m5.79 0h.01m2.99 0h.01m2.79 0h.01m1.59 0h.01m1.39 0h.01m2.79 0h.01m1.59 0h.01m7.19 0h.01m2.99 0h.01m14.59 0h.01m14.59 0h.01m-73.01 .2h.01m11.59 0h.01m5.79 0h.01m5.99 0h.01m2.79 0h.01m2.99 0h.01m2.79 0h.01m5.99 0h.01m2.79 0h.01m2.99 0h.01m11.59 0h.01m5.79 0h.01m26.39 0h.01m29.19 0h.01m-116.81 .2h.01m8.79 0h.01m5.79 0h.01m2.79 0h.01m4.39 0h.01m4.39 0h.01m2.99 0h.01m11.59 0h.01m2.99 0h.01m2.79 0h.01m5.99 0h.01m5.79 0h.01m2.79 0h.01m11.79 0h.01m14.59 0h.01m-73.01 .2h.01m8.79 0h.01m2.79 0h.01m2.99 0h.01m5.79 0h.01m14.59 0h.01m2.99 0h.01m5.79 0h.01m2.79 0h.01m8.79 0h.01m14.59 0h.01m-73.01 .2h.01m2.99 0h.01m7.19 0h.01m5.99 0h.01m4.19 0h.01m2.99 0h.01m2.99 0h.01m5.79 0h.01m2.79 0h.01m8.79 0h.01m8.79 0h.01m2.99 0h.01m5.79 0h.01m11.59 0h.01m2.99 0h.01m-93.41 .2h.01m20.39 0h.01m5.79 0h.01m2.99 0h.01m5.79 0h.01m8.79 0h.01m2.79 0h.01m11.79 0h.01m5.79 0h.01m2.79 0h.01m11.79 0h.01m-71.61 .2h.01m15.99 0h.01m2.99 0h.01m5.79 0h.01m2.99 0h.01m2.79 0h.01m11.79 0h.01m2.79 0h.01m2.99 0h.01m2.99 0h.01m2.79 0h.01m2.99 0h.01m17.39 0h.01m11.79 0h.01m14.59 0h.01m-83.21 .2h.01m1.39 0h.01m2.99 0h.01m2.79 0h.01m2.99 0h.01m1.39 0h.01m4.39 0h.01m2.99 0h.01m2.79 0h.01m2.99 0h.01m11.59 0h.01m2.99 0h.01m2.79 0h.01m11.79 0h.01m-87.61 .2h.01m14.59 0h.01m11.59 0h.01m5.79 0h.01m5.99 0h.01m8.59 0h.01m2.99 0h.01m5.79 0h.01m2.99 0h.01m5.79 0h.01m2.99 0h.01m5.79 0h.01m11.59 0h.01m5.79 0h.01m51.19 0h.01m-132.81 .2h.01m5.79 0h.01m10.19 0h.01m7.19 0h.01m11.79 0h.01m2.79 0h.01m2.99 0h.01m2.99 0h.01m2.79 0h.01m2.99 0h.01m2.79 0h.01m5.99 0h.01m5.79 0h.01m2.79 0h.01m14.59 0h.01m29.39 0h.01m-102.41 .2h.01m11.79 0h.01m5.79 0h.01m5.79 0h.01m2.99 0h.01m2.79 0h.01m2.99 0h.01m2.99 0h.01m5.79 0h.01m5.79 0h.01m2.99 0h.01m11.59 0h.01m17.59 0h.01m5.79 0h.01m-81.81 .2h.01m8.79 0h.01m5.79 0h.01m2.99 0h.01m2.79 0h.01m2.99 0h.01m8.79 0h.01m5.79 0h.01m2.79 0h.01m5.99 0h.01m5.79 0h.01m2.79 0h.01m7.39 0h.01m1.39 0h.01m5.79 0h.01m11.79 0h.01m-76.01 .2h.01m8.79 0h.01m5.79 0h.01m2.99 0h.01m2.79 0h.01m8.79 0h.01m2.99 0h.01m2.79 0h.01m5.99 0h.01m5.79 0h.01m5.79 0h.01m-64.21 .2h.01m14.59 0h.01m5.79 0h.01m2.99 0h.01m5.79 0h.01m14.59 0h.01m2.79 0h.01m8.79 0h.01m2.99 0h.01m2.79 0h.01m2.99 0h.01m-67.21 .2h.01m17.59 0h.01m14.59 0h.01m8.79 0h.01m2.79 0h.01m8.79 0h.01m2.99 0h.01m2.79 0h.01m2.99 0h.01m5.79 0h.01m17.59 0h.01m26.19 0h.01m-108.01 .2h.01m14.59 0h.01m2.79 0h.01m11.79 0h.01m2.79 0h.01m5.99 0h.01m2.79 0h.01m2.99 0h.01m5.79 0h.01m8.79 0h.01m2.79 0h.01m2.99 0h.01m1.39 0h.01m1.59 0h.01m2.79 0h.01m-58.41 .2h.01m2.99 0h.01m14.59 0h.01m2.79 0h.01m2.99 0h.01m2.99 0h.01m2.79 0h.01m5.79 0h.01m2.99 0h.01m2.99 0h.01m2.79 0h.01m2.99 0h.01m14.59 0h.01m10.19 0h.01m4.39 0h.01m-81.81 .2h.01m8.79 0h.01m8.79 0h.01m2.79 0h.01m2.99 0h.01m5.79 0h.01m5.79 0h.01m2.99 0h.01m2.79 0h.01m2.99 0h.01m5.79 0h.01m2.99 0h.01m14.59 0h.01m-64.21 .2h.01m2.79 0h.01m2.99 0h.01m2.79 0h.01m2.99 0h.01m11.59 0h.01m2.99 0h.01m17.59 0h.01m4.39 0h.01m1.39 0h.01m2.79 0h.01m40.99 0h.01m-116.81 .2h.01m17.39 0h.01m14.59 0h.01m8.79 0h.01m2.99 0h.01m2.79 0h.01m8.79 0h.01m2.99 0h.01m2.79 0h.01m2.99 0h.01m2.99 0h.01m5.79 0h.01m2.79 0h.01m11.79 0h.01m1.39 0h.01m-59.81 .2h.01m2.79 0h.01m5.99 0h.01m2.79 0h.01m2.99 0h.01m2.79 0h.01m1.59 0h.01m10.19 0h.01m5.79 0h.01m5.79 0h.01m2.99 0h.01m2.79 0h.01m11.79 0h.01m14.59 0h.01m-84.81 .2h.01m5.99 0h.01m5.79 0h.01m5.79 0h.01m2.99 0h.01m2.79 0h.01m2.99 0h.01m2.79 0h.01m2.99 0h.01m2.99 0h.01m5.79 0h.01m2.79 0h.01m2.99 0h.01m8.79 0h.01m11.59 0h.01m2.99 0h.01m29.19 0h.01m-84.81 .2h.01m2.99 0h.01m5.79 0h.01m1.59 0h.01m1.39 0h.01m2.79 0h.01m2.99 0h.01m4.39 0h.01m4.39 0h.01m5.79 0h.01m8.79 0h.01m2.79 0h.01m5.99 0h.01m2.79 0h.01m17.59 0h.01m-84.81 .2h.01m11.79 0h.01m8.79 0h.01m2.79 0h.01m2.99 0h.01m2.79 0h.01m2.99 0h.01m2.99 0h.01m2.79 0h.01m2.99 0h.01m2.79 0h.01m2.99 0h.01m8.79 0h.01m20.39 0h.01m20.39 0h.01m11.79 0h.01m-99.41 .2h.01m11.79 0h.01m2.79 0h.01m2.99 0h.01m5.79 0h.01m8.79 0h.01m14.59 0h.01m20.39 0h.01m-64.21 .2h.01m5.79 0h.01m5.79 0h.01m2.99 0h.01m8.79 0h.01m8.59 0h.01m11.79 0h.01m2.79 0h.01m29.39 0h.01m-90.61 .2h.01m2.79 0h.01m11.79 0h.01m5.79 0h.01m2.99 0h.01m1.39 0h.01m4.39 0h.01m5.79 0h.01m2.99 0h.01m2.79 0h.01m5.79 0h.01m11.79 0h.01m5.79 0h.01m5.79 0h.01m-61.21 .2h.01m5.79 0h.01m2.79 0h.01m2.99 0h.01m2.99 0h.01m2.79 0h.01m2.99 0h.01m5.79 0h.01m5.79 0h.01m2.99 0h.01m2.79 0h.01m2.99 0h.01m2.99 0h.01m2.79 0h.01m11.79 0h.01m23.39 0h.01m-90.61 .2h.01m14.59 0h.01m2.79 0h.01m2.99 0h.01m5.79 0h.01m2.99 0h.01m2.79 0h.01m2.99 0h.01m5.79 0h.01m2.99 0h.01m5.79 0h.01m7.39 0h.01m1.39 0h.01m1.39 0h.01m4.39 0h.01m8.79 0h.01m5.79 0h.01m23.39 0h.01m14.59 0h.01m-116.81 .2h.01m8.79 0h.01m2.79 0h.01m5.79 0h.01m2.99 0h.01m2.99 0h.01m5.79 0h.01m2.79 0h.01m2.99 0h.01m2.99 0h.01m2.79 0h.01m2.99 0h.01m5.79 0h.01m1.39 0h.01m7.39 0h.01m29.19 0h.01m-105.21 .2h.01m34.99 0h.01m4.39 0h.01m4.39 0h.01m2.99 0h.01m2.79 0h.01m8.79 0h.01m2.99 0h.01m2.79 0h.01m2.99 0h.01m2.99 0h.01m11.59 0h.01m2.99 0h.01m-79.01 .2h.01m8.79 0h.01m2.99 0h.01m20.39 0h.01m2.99 0h.01m2.79 0h.01m2.99 0h.01m2.79 0h.01m1.59 0h.01m4.39 0h.01m2.79 0h.01m2.99 0h.01m8.79 0h.01m2.79 0h.01m2.99 0h.01m11.59 0h.01m2.99 0h.01m1.39 0h.01m-65.61 .2h.01m2.79 0h.01m2.99 0h.01m2.79 0h.01m2.99 0h.01m2.99 0h.01m2.79 0h.01m2.99 0h.01m2.79 0h.01m2.99 0h.01m5.79 0h.01m2.99 0h.01m2.79 0h.01m5.99 0h.01m5.79 0h.01m2.79 0h.01m2.99 0h.01m5.79 0h.01m2.99 0h.01m55.39 0h.01m-137.21 .2h.01m14.59 0h.01m2.99 0h.01m2.79 0h.01m5.79 0h.01m4.39 0h.01m1.59 0h.01m4.39 0h.01m1.39 0h.01m2.79 0h.01m2.99 0h.01m8.79 0h.01m8.79 0h.01m14.59 0h.01m2.79 0h.01m8.79 0h.01m8.79 0h.01m29.19 0h.01m-108.01 .2h.01m5.79 0h.01m1.39 0h.01m1.39 0h.01m5.99 0h.01m5.79 0h.01m4.39 0h.01m4.39 0h.01m2.79 0h.01m2.99 0h.01m4.39 0h.01m1.39 0h.01m11.59 0h.01m5.99 0h.01m1.39 0h.01m-59.81 .2h.01m4.39 0h.01m1.39 0h.01m5.79 0h.01m8.79 0h.01m2.79 0h.01m2.99 0h.01m2.99 0h.01m2.79 0h.01m14.59 0h.01m2.99 0h.01m8.79 0h.01m23.39 0h.01m-93.61 .2h.01m8.79 0h.01m2.99 0h.01m5.79 0h.01m5.79 0h.01m1.39 0h.01m1.59 0h.01m2.79 0h.01m5.79 0h.01m2.99 0h.01m2.99 0h.01m5.79 0h.01m2.79 0h.01m17.59 0h.01m11.59 0h.01m8.79 0h.01m2.99 0h.01m-96.41 .2h.01m20.39 0h.01m1.59 0h.01m1.39 0h.01m4.39 0h.01m4.39 0h.01m5.79 0h.01m8.79 0h.01m5.79 0h.01m11.59 0h.01m2.99 0h.01m5.79 0h.01m23.39 0h.01m-77.41 .2h.01m4.39 0h.01m5.79 0h.01m2.99 0h.01m2.79 0h.01m2.99 0h.01m8.79 0h.01m2.79 0h.01m2.99 0h.01m2.79 0h.01m2.99 0h.01m2.99 0h.01m5.79 0h.01m5.79 0h.01m-61.41 .2h.01m8.79 0h.01m2.99 0h.01m2.79 0h.01m2.99 0h.01m2.99 0h.01m1.39 0h.01m1.39 0h.01m5.79 0h.01m2.99 0h.01m2.99 0h.01m2.79 0h.01m2.99 0h.01m5.79 0h.01m2.99 0h.01m1.39 0h.01m7.19 0h.01m11.79 0h.01m5.79 0h.01m5.79 0h.01m8.79 0h.01m5.79 0h.01m1.59 0h.01m-112.61 .2h.01m20.59 0h.01m11.59 0h.01m2.99 0h.01m2.79 0h.01m2.99 0h.01m2.79 0h.01m8.79 0h.01m2.99 0h.01m5.79 0h.01m1.39 0h.01m1.59 0h.01m2.79 0h.01m5.79 0h.01m14.59 0h.01m11.79 0h.01m23.39 0h.01m-96.41 .2h.01m2.79 0h.01m2.99 0h.01m2.99 0h.01m5.79 0h.01m2.79 0h.01m5.99 0h.01m2.79 0h.01m2.99 0h.01m2.79 0h.01m2.99 0h.01m1.39 0h.01m1.59 0h.01m5.79 0h.01m14.59 0h.01m-64.21 .2h.01m5.79 0h.01m2.79 0h.01m2.99 0h.01m7.39 0h.01m1.39 0h.01m5.79 0h.01m5.79 0h.01m5.79 0h.01m2.99 0h.01m2.99 0h.01m5.79 0h.01m2.79 0h.01m5.99 0h.01m5.79 0h.01m-70.21 .2h.01m5.99 0h.01m2.79 0h.01m2.99 0h.01m2.79 0h.01m5.99 0h.01m2.79 0h.01m2.99 0h.01m1.39 0h.01m1.39 0h.01m2.99 0h.01m2.99 0h.01m5.79 0h.01m8.79 0h.01m5.79 0h.01m14.59 0h.01m2.79 0h.01m26.39 0h.01m-119.81 .2h.01m17.59 0h.01m5.79 0h.01m11.59 0h.01m2.99 0h.01m2.99 0h.01m2.79 0h.01m2.99 0h.01m14.59 0h.01m5.79 0h.01m5.79 0h.01m2.99 0h.01m2.79 0h.01m2.99 0h.01m8.79 0h.01m14.59 0h.01m-70.21 .2h.01m2.99 0h.01m7.39 0h.01m1.39 0h.01m2.79 0h.01m2.99 0h.01m5.79 0h.01m2.99 0h.01m2.79 0h.01m2.99 0h.01m2.99 0h.01m5.79 0h.01m2.79 0h.01m5.99 0h.01m5.79 0h.01m29.19 0h.01m-87.61 .2h.01m2.79 0h.01m2.99 0h.01m2.99 0h.01m2.79 0h.01m2.99 0h.01m8.79 0h.01m2.79 0h.01m2.99 0h.01m2.79 0h.01m11.79 0h.01m2.79 0h.01m2.99 0h.01m2.99 0h.01m52.59 0h.01m-105.21 .2h.01m2.79 0h.01m2.99 0h.01m5.79 0h.01m2.99 0h.01m5.79 0h.01m2.99 0h.01m5.79 0h.01m14.59 0h.01m2.79 0h.01m17.59 0h.01m-67.21 .2h.01m2.99 0h.01m2.79 0h.01m2.99 0h.01m5.79 0h.01m2.99 0h.01m8.79 0h.01m2.79 0h.01m2.99 0h.01m5.79 0h.01m5.79 0h.01m2.99 0h.01m2.79 0h.01m8.79 0h.01m17.59 0h.01m34.99 0h.01m-96.41 .2h.01m2.99 0h.01m5.79 0h.01m2.99 0h.01m2.79 0h.01m11.79 0h.01m2.79 0h.01m2.99 0h.01m5.79 0h.01m2.99 0h.01m12.99 0h.01m21.99 0h.01m-81.81 .2h.01m2.99 0h.01m5.79 0h.01m2.79 0h.01m5.99 0h.01m5.79 0h.01m5.79 0h.01m-38.01 .2h.01"/><path class="rl" d="M283.91 117.26L432.88 121.35"/><path class="ax" d="M275.15 15V133.05M274.55 132.45H451"/><path class="tk" d="M271.85 132.45H275.15M271.85 93.5H275.15M271.85 54.55H275.15M271.85 15.6H275.15M275.15 132.45V135.95M304.36 132.45V135.95M333.57 132.45V135.95M362.77 132.45V135.95M391.98 132.45V135.95M421.19 132.45V135.95M450.4 132.45V135.95"/><text class="tl" text-anchor="end" transform="translate(270.15 135.6) scale(1.19 1)">0</text><text class="tl" text-anchor="end" transform="translate(270.15 96.65) scale(1.19 1)">10</text><text class="tl" text-anchor="end" transform="translate(270.15 57.7) scale(1.19 1)">20</text><text class="tl" text-anchor="end" transform="translate(270.15 18.75) scale(1.19 1)">30</text><text class="tl" text-anchor="middle" transform="translate(275.35 147.9) scale(1.19 1)">30</text><text class="tl" text-anchor="middle" transform="translate(304.56 147.9) scale(1.19 1)">40</text><text class="tl" text-anchor="middle" transform="translate(333.77 147.9) scale(1.19 1)">50</text><text class="tl" text-anchor="middle" transform="translate(362.97 147.9) scale(1.19 1)">60</text><text class="tl" text-anchor="middle" transform="translate(392.18 147.9) scale(1.19 1)">70</text><text class="tl" text-anchor="middle" transform="translate(421.39 147.9) scale(1.19 1)">80</text><text class="tl" text-anchor="middle" transform="translate(450.6 147.9) scale(1.19 1)">90</text><text class="ti" text-anchor="middle" transform="translate(363.07 163.45) scale(1.23 1)">Weight (kg)</text><text class="ti" text-anchor="middle" transform="translate(250.15 71.52) rotate(-90) scale(1.23 1)">AMH (ng/ml)</text><text class="an" transform="translate(396.5 46) scale(1.2 1)">P = 0.021</text><text class="an" transform="translate(396.5 58.8) scale(1.2 1)">R = -0.050</text><text class="st" transform="translate(441.6 45.3)">*</text></g>
<g><path class="pt" d="M552.2 42.8h.01m29.19 0h.01m-25.81 .8h.01m64.39 11.8h.01m-101.81 5h.01m82.99 1.2h.01m-91.41 .6h.01m70.39 .2h.01m-26.01 1.4h.01m10.79 7h.01m-9.01 .6h.01m-4.41 .8h.01m5.39 .4h.01m113.59 0h.01m-131.21 .2h.01m2.79 0h.01m33.39 1h.01m31.19 2.2h.01m-37.01 .2h.01m-9.01 .4h.01m-.01 1.6h.01m-14.61 .2h.01m-19.01 .2h.01m45.79 0h.01m46.19 .2h.01m-83.21 .2h.01m16.39 1.6h.01m3.59 .2h.01m-7.01 .8h.01m69.79 .6h.01m-83.01 .2h.01m8.59 0h.01m8.39 0h.01m-17.41 .2h.01m-3.41 .6h.01m50.99 .2h.01m-20.21 .2h.01m9.99 .6h.01m10.99 .2h.01m-63.41 .2h.01m9.39 .4h.01m27.99 .6h.01m84.79 0h.01m-83.81 .2h.01m-28.81 .2h.01m21.99 1h.01m61.79 0h.01m-99.41 .2h.01m11.19 0h.01m11.39 .2h.01m-24.01 .2h.01m39.99 1h.01m11.19 .2h.01m-31.01 .2h.01m78.59 0h.01m-61.01 .2h.01m3.59 .2h.01m24.99 0h.01m-36.61 .2h.01m10.79 .2h.01m-14.01 .2h.01m103.39 .6h.01m-69.81 .2h.01m35.99 .2h.01m-56.81 .2h.01m11.79 .2h.01m48.79 0h.01m-35.01 .4h.01m-50.01 .4h.01m49.39 0h.01m-61.41 .2h.01m24.59 0h.01m107.39 0h.01m-111.21 .2h.01m81.19 .4h.01m20.79 0h.01m-84.61 .2h.01m7.39 0h.01m-49.41 .2h.01m38.99 0h.01m10.79 0h.01m13.39 0h.01m-40.61 .4h.01m26.19 0h.01m73.99 0h.01m-112.81 .2h.01m74.79 0h.01m54.39 0h.01m-102.61 .2h.01m50.79 0h.01m-45.01 .4h.01m7.59 0h.01m9.19 0h.01m-9.81 .4h.01m3.79 0h.01m3.19 .2h.01m59.79 0h.01m-86.61 .4h.01m62.39 .2h.01m2.99 0h.01m-81.41 .2h.01m10.19 0h.01m10.19 0h.01m-1.81 .2h.01m22.59 0h.01m-27.01 .2h.01m28.79 0h.01m25.39 .4h.01m23.59 0h.01m-62.41 .2h.01m23.59 0h.01m12.19 0h.01m-45.61 .2h.01m77.99 0h.01m-91.41 .2h.01m9.19 0h.01m14.59 0h.01m20.79 .2h.01m9.79 0h.01m-37.01 .2h.01m5.19 0h.01m-20.61 .2h.01m2.79 0h.01m18.79 0h.01m11.99 0h.01m7.19 0h.01m17.59 0h.01m-84.41 .2h.01m38.19 .2h.01m-5.01 .2h.01m7.79 0h.01m-22.81 .2h.01m13.99 0h.01m52.79 0h.01m7.59 0h.01m-44.41 .2h.01m3.59 0h.01m-26.41 .4h.01m-14.81 .2h.01m29.59 0h.01m64.59 0h.01m17.39 0h.01m-63.61 .2h.01m6.39 0h.01m1.39 0h.01m32.39 0h.01m16.99 0h.01m-64.81 .2h.01m9.19 0h.01m-24.41 .2h.01m12.99 0h.01m2.39 0h.01m70.39 0h.01m-109.01 .2h.01m27.39 0h.01m-7.21 .2h.01m21.39 0h.01m20.79 0h.01m22.19 0h.01m7.59 0h.01m-77.01 .2h.01m78.59 0h.01m.19 0h.01m-62.81 .2h.01m16.39 0h.01m-42.01 .2h.01m43.19 0h.01m4.19 0h.01m43.99 0h.01m-29.41 .2h.01m5.79 0h.01m66.79 0h.01m-125.81 .2h.01m-23.41 .4h.01m11.39 0h.01m15.99 0h.01m32.59 0h.01m3.99 0h.01m59.39 0h.01m-51.81 .2h.01m43.39 0h.01m-80.41 .2h.01m19.19 0h.01m-38.21 .2h.01m114.99 0h.01m-102.01 .2h.01m1.19 0h.01m2.59 0h.01m12.79 0h.01m32.99 0h.01m36.39 0h.01m-95.41 .2h.01m40.59 0h.01m11.79 0h.01m67.39 0h.01m-116.81 .2h.01m3.39 0h.01m6.19 0h.01m40.19 0h.01m-57.41 .2h.01m3.19 0h.01m6.39 0h.01m2.99 0h.01m29.59 0h.01m14.59 0h.01m-42.01 .2h.01m1.79 0h.01m13.99 0h.01m1.59 0h.01m5.79 0h.01m25.19 0h.01m15.39 0h.01m-53.61 .2h.01m12.79 0h.01m7.59 0h.01m-48.81 .2h.01m13.79 0h.01m56.19 0h.01m48.19 0h.01m-125.81 .2h.01m26.19 0h.01m12.19 0h.01m10.79 0h.01m5.39 0h.01m78.19 0h.01m-106.01 .2h.01m1.79 0h.01m1.59 0h.01m.39 0h.01m10.59 0h.01m23.19 0h.01m1.99 0h.01m-32.41 .2h.01m17.19 0h.01m-9.01 .2h.01m.59 0h.01m3.59 0h.01m13.99 0h.01m12.39 0h.01m14.19 0h.01m73.59 0h.01m-146.01 .2h.01m29.19 0h.01m1.19 0h.01m.39 0h.01m-31.01 .2h.01m45.79 0h.01m4.59 0h.01m38.19 0h.01m-99.01 .4h.01m45.99 0h.01m18.19 0h.01m-34.21 .2h.01m9.99 0h.01m13.39 0h.01m31.99 .2h.01m-66.81 .2h.01m2.59 0h.01m9.79 0h.01m67.79 0h.01m-90.61 .2h.01m.99 0h.01m33.99 0h.01m41.99 0h.01m20.99 0h.01m-105.81 .2h.01m2.59 0h.01m19.19 0h.01m29.79 0h.01m-30.81 .2h.01m15.99 0h.01m1.39 0h.01m19.59 0h.01m-40.21 .2h.01m8.99 0h.01m21.99 0h.01m19.59 0h.01m15.39 0h.01m20.79 0h.01m-65.61 .2h.01m3.79 0h.01m2.79 0h.01m.19 0h.01m6.19 0h.01m5.19 0h.01m6.79 0h.01m25.99 0h.01m-93.21 .2h.01m13.39 0h.01m3.99 0h.01m2.39 0h.01m6.19 0h.01m19.59 0h.01m.59 0h.01m47.79 0h.01m-86.01 .2h.01m19.59 0h.01m46.79 0h.01m-81.21 .2h.01m17.59 0h.01m7.39 0h.01m28.99 0h.01m3.99 0h.01m4.79 0h.01m5.99 0h.01m15.79 0h.01m1.99 0h.01m34.39 0h.01m-108.41 .2h.01m32.19 0h.01m16.59 0h.01m.59 0h.01m52.19 0h.01m8.19 0h.01m-114.01 .2h.01m8.39 0h.01m6.79 0h.01m19.59 0h.01m13.79 0h.01m20.79 0h.01m.99 0h.01m2.79 0h.01m19.19 0h.01m15.59 0h.01m3.99 0h.01m-111.41 .2h.01m11.99 0h.01m12.99 0h.01m1.59 0h.01m13.59 0h.01m17.79 0h.01m10.99 0h.01m25.79 0h.01m17.19 0h.01m-78.81 .2h.01m4.79 0h.01m7.39 0h.01m.59 0h.01m13.59 0h.01m7.39 0h.01m19.79 0h.01m10.59 0h.01m45.39 0h.01m-118.61 .2h.01m2.59 0h.01m39.19 0h.01m15.59 0h.01m3.99 0h.01m41.39 0h.01m-126.01 .2h.01m12.39 0h.01m13.99 0h.01m1.19 0h.01m51.79 0h.01m1.99 0h.01m3.19 0h.01m34.99 0h.01m-100.41 .2h.01m2.59 0h.01m16.39 0h.01m8.39 0h.01m12.99 0h.01m13.99 0h.01m-71.81 .2h.01m15.39 0h.01m7.79 0h.01m9.99 0h.01m3.79 0h.01m13.39 0h.01m15.19 0h.01m19.39 0h.01m7.39 0h.01m2.99 0h.01m-82.81 .2h.01m2.99 0h.01m4.39 0h.01m5.99 0h.01m10.39 0h.01m5.99 0h.01m12.39 0h.01m5.59 0h.01m1.39 0h.01m15.79 0h.01m-82.41 .2h.01m28.39 0h.01m2.99 0h.01m41.59 0h.01m-48.21 .2h.01m27.79 0h.01m5.39 0h.01m13.39 0h.01m63.39 0h.01m-75.41 .2h.01m29.79 0h.01m13.19 0h.01m21.99 0h.01m-99.61 .2h.01m55.99 0h.01m2.19 0h.01m17.19 0h.01m-102.21 .2h.01m36.39 0h.01m1.39 0h.01m4.79 0h.01m6.19 0h.01m.39 0h.01m7.99 0h.01m9.99 0h.01m46.79 0h.01m-100.21 .2h.01m6.19 0h.01m28.59 0h.01m13.19 0h.01m2.99 0h.01m15.99 0h.01m.79 0h.01m-48.61 .2h.01m1.59 0h.01m5.99 0h.01m.99 0h.01m4.19 0h.01m23.39 0h.01m9.79 0h.01m10.99 0h.01m13.99 0h.01m2.19 0h.01m-101.61 .2h.01m10.99 0h.01m21.19 0h.01m13.39 0h.01m17.19 0h.01m12.79 0h.01m-64.01 .2h.01m26.79 0h.01m43.39 0h.01m3.79 0h.01m35.39 0h.01m-110.01 .2h.01m21.39 0h.01m3.39 0h.01m16.39 0h.01m6.79 0h.01m16.99 0h.01m1.99 0h.01m12.39 0h.01m5.59 0h.01m3.19 0h.01m7.99 0h.01m-85.61 .2h.01m10.59 0h.01m9.79 0h.01m42.79 0h.01m12.39 0h.01m-90.61 .2h.01m.99 0h.01m1.19 0h.01m18.79 0h.01m15.19 0h.01m13.99 0h.01m23.59 0h.01m40.79 0h.01m-111.61 .2h.01m8.39 0h.01m3.59 0h.01m43.19 0h.01m18.19 0h.01m34.99 0h.01m6.79 0h.01m8.19 0h.01m-119.21 .2h.01m8.19 0h.01m2.59 0h.01m18.79 0h.01m19.59 0h.01m5.39 0h.01m4.19 0h.01m-54.61 .2h.01m2.59 0h.01m17.79 0h.01m5.39 0h.01m15.79 0h.01m46.59 0h.01m.39 0h.01m-109.81 .2h.01m7.99 0h.01m.39 0h.01m.79 0h.01m5.39 0h.01m13.59 0h.01m2.59 0h.01m5.19 0h.01m2.19 0h.01m.39 0h.01m7.59 0h.01m2.79 0h.01m3.99 0h.01m10.79 0h.01m36.99 0h.01m-91.01 .2h.01m.99 0h.01m8.39 0h.01m1.79 0h.01m14.79 0h.01m3.19 0h.01m4.59 0h.01m2.19 0h.01m10.39 0h.01m2.99 0h.01m37.19 0h.01m-74.01 .2h.01m3.59 0h.01m.19 0h.01m9.19 0h.01m2.39 0h.01m.39 0h.01m6.19 0h.01m25.19 0h.01m37.19 0h.01m-97.81 .2h.01m1.59 0h.01m21.59 0h.01m8.59 0h.01m5.39 0h.01m.39 0h.01m12.19 0h.01m16.19 0h.01m.19 0h.01m7.59 0h.01m29.39 0h.01m-97.21 .2h.01m2.59 0h.01m.59 0h.01m6.39 0h.01m12.59 0h.01m3.39 0h.01m2.59 0h.01m3.79 0h.01m24.59 0h.01m10.79 0h.01m1.39 0h.01m31.59 0h.01m-109.21 .2h.01m1.19 0h.01m13.99 0h.01m2.39 0h.01m3.59 0h.01m3.19 0h.01m5.19 0h.01m15.39 0h.01m5.39 0h.01m2.99 0h.01m9.79 0h.01m8.19 0h.01m12.39 0h.01m9.59 0h.01m-96.81 .2h.01m1.39 0h.01m9.79 0h.01m15.59 0h.01m14.59 0h.01m34.39 0h.01m2.59 0h.01m19.19 0h.01m-94.41 .2h.01m4.99 0h.01m20.39 0h.01m1.19 0h.01m17.59 0h.01m11.99 0h.01m11.99 0h.01m39.19 0h.01m-98.21 .2h.01m12.79 0h.01m10.59 0h.01m.79 0h.01m3.19 0h.01m3.99 0h.01m2.79 0h.01m19.39 0h.01m11.59 0h.01m.19 0h.01m16.79 0h.01m-93.81 .2h.01m.59 0h.01m30.59 0h.01m1.59 0h.01m4.99 0h.01m4.59 0h.01m12.39 0h.01m11.39 0h.01m4.19 0h.01m-34.01 .2h.01m7.79 0h.01m2.59 0h.01m1.99 0h.01m3.99 0h.01m2.99 0h.01m3.39 0h.01m2.19 0h.01m6.39 0h.01m2.79 0h.01m8.59 0h.01m-74.81 .2h.01m5.99 0h.01m10.59 0h.01m.99 0h.01m7.19 0h.01m6.99 0h.01m6.19 0h.01m3.79 0h.01m18.39 0h.01m.99 0h.01m2.99 0h.01m14.79 0h.01m-90.21 .2h.01m17.19 0h.01m.39 0h.01m34.39 0h.01m.19 0h.01m4.19 0h.01m1.59 0h.01m7.99 0h.01m56.39 0h.01m-112.41 .2h.01m17.59 0h.01m11.99 0h.01m1.79 0h.01m6.59 0h.01m4.19 0h.01m3.39 0h.01m3.39 0h.01m.59 0h.01m6.59 0h.01m-60.21 .2h.01m16.39 0h.01m3.99 0h.01m.39 0h.01m9.59 0h.01m24.99 0h.01m.59 0h.01m21.19 0h.01m14.19 0h.01m-88.21 .2h.01m2.19 0h.01m10.19 0h.01m9.59 0h.01m6.79 0h.01m6.19 0h.01m5.79 0h.01m4.59 0h.01m13.79 0h.01m25.79 0h.01m17.39 0h.01m-97.21 .2h.01m9.59 0h.01m13.59 0h.01m.79 0h.01m13.59 0h.01m5.79 0h.01m7.79 0h.01m5.79 0h.01m2.19 0h.01m9.59 0h.01m.39 0h.01m51.99 0h.01m-127.01 .2h.01m7.79 0h.01m8.19 0h.01m8.99 0h.01m4.19 0h.01m6.19 0h.01m18.99 0h.01m.39 0h.01m2.79 0h.01m2.39 0h.01m6.59 0h.01m6.79 0h.01m8.99 0h.01m13.99 0h.01m25.59 0h.01m-126.01 .2h.01m19.59 0h.01m.59 0h.01m.39 0h.01m5.59 0h.01m6.39 0h.01m14.79 0h.01m4.79 0h.01m10.59 0h.01m3.99 0h.01m1.19 0h.01m18.79 0h.01m8.79 0h.01m6.19 0h.01m13.79 0h.01m12.39 0h.01m-105.61 .2h.01m20.39 0h.01m13.39 0h.01m14.19 0h.01m11.99 0h.01m4.59 0h.01m15.19 0h.01m-98.61 .2h.01m5.39 0h.01m13.79 0h.01m2.99 0h.01m1.99 0h.01m4.79 0h.01m3.99 0h.01m.79 0h.01m.59 0h.01m6.19 0h.01m25.99 0h.01m10.99 0h.01m-67.21 .2h.01m7.99 0h.01m5.59 0h.01m1.99 0h.01m6.99 0h.01m21.59 0h.01m7.19 0h.01m33.19 0h.01m-90.41 .2h.01m2.39 0h.01m28.39 0h.01m.39 0h.01m6.99 0h.01m15.59 0h.01m4.79 0h.01m9.39 0h.01m8.59 0h.01m.39 0h.01m3.79 0h.01m5.79 0h.01m4.39 0h.01m7.79 0h.01m-97.01 .2h.01m19.39 0h.01m4.19 0h.01m2.59 0h.01m3.19 0h.01m21.39 0h.01m8.39 0h.01m2.19 0h.01m2.59 0h.01m14.79 0h.01m7.19 0h.01m2.99 0h.01m4.39 0h.01m6.59 0h.01m24.79 0h.01m4.59 0h.01m9.39 0h.01m-134.61 .2h.01m2.19 0h.01m23.19 0h.01m2.19 0h.01m1.59 0h.01m5.79 0h.01m11.19 0h.01m.99 0h.01m6.59 0h.01m24.79 0h.01m16.59 0h.01m3.79 0h.01m2.39 0h.01m-116.81 .2h.01m15.59 0h.01m10.99 0h.01m11.39 0h.01m4.59 0h.01m10.79 0h.01m1.59 0h.01m.19 0h.01m17.39 0h.01m5.39 0h.01m2.39 0h.01m10.99 0h.01m17.99 0h.01m-90.21 .2h.01m12.79 0h.01m.39 0h.01m3.39 0h.01m7.59 0h.01m10.59 0h.01m.19 0h.01m10.59 0h.01m65.39 0h.01m-104.21 .2h.01m6.79 0h.01m.99 0h.01m22.19 0h.01m7.59 0h.01m37.19 0h.01m17.59 0h.01m-109.41 .2h.01m2.19 0h.01m1.99 0h.01m59.19 0h.01m3.79 0h.01m9.99 0h.01m12.19 0h.01m31.99 0h.01m-117.41 .2h.01m7.79 0h.01m4.99 0h.01m.39 0h.01m10.99 0h.01m2.79 0h.01m7.39 0h.01m1.99 0h.01m.19 0h.01m5.79 0h.01m.19 0h.01m68.59 0h.01m18.39 0h.01m-138.61 .2h.01m6.59 0h.01m8.99 0h.01m25.99 0h.01m8.99 0h.01m.59 0h.01m1.19 0h.01m8.59 0h.01m1.79 0h.01m67.59 0h.01m9.19 0h.01m-133.61 .2h.01m5.59 0h.01m.99 0h.01m7.19 0h.01m8.99 0h.01m.79 0h.01m1.19 0h.01m1.59 0h.01m9.59 0h.01m1.19 0h.01m4.99 0h.01m2.39 0h.01m18.39 0h.01m28.39 0h.01m-100.21 .2h.01m5.19 0h.01m17.59 0h.01m9.79 0h.01m2.19 0h.01m.79 0h.01m3.39 0h.01m1.59 0h.01m12.99 0h.01m15.59 0h.01m.39 0h.01m2.79 0h.01m5.99 0h.01m5.59 0h.01m-65.01 .2h.01m8.39 0h.01m1.39 0h.01m2.59 0h.01m2.99 0h.01m5.99 0h.01m12.59 0h.01m2.19 0h.01m8.19 0h.01m20.59 0h.01m-70.81 .2h.01m5.59 0h.01m.19 0h.01m.19 0h.01m8.39 0h.01m1.99 0h.01m.99 0h.01m6.39 0h.01m4.59 0h.01m.39 0h.01m3.59 0h.01m.59 0h.01m3.19 0h.01m1.99 0h.01m2.19 0h.01m16.19 0h.01m6.59 0h.01m1.59 0h.01m1.39 0h.01m11.99 0h.01m30.19 0h.01m-115.21 .2h.01m2.39 0h.01m1.99 0h.01m16.79 0h.01m3.19 0h.01m6.99 0h.01m7.79 0h.01m4.39 0h.01m1.19 0h.01m5.99 0h.01m.39 0h.01m3.39 0h.01m1.99 0h.01m3.99 0h.01m6.79 0h.01m6.99 0h.01m9.79 0h.01m19.59 0h.01m-103.21 .2h.01m.39 0h.01m14.59 0h.01m3.39 0h.01m11.99 0h.01m.39 0h.01m.99 0h.01m.99 0h.01m1.59 0h.01m2.59 0h.01m8.59 0h.01m4.39 0h.01m4.79 0h.01m5.19 0h.01m2.19 0h.01m16.99 0h.01m16.59 0h.01m14.79 0h.01m6.79 0h.01m2.79 0h.01m-121.81 .2h.01m1.59 0h.01m2.59 0h.01m4.59 0h.01m11.79 0h.01m2.59 0h.01m2.19 0h.01m4.39 0h.01m4.19 0h.01m12.59 0h.01m6.59 0h.01m3.59 0h.01m16.59 0h.01m7.59 0h.01m8.79 0h.01m8.59 0h.01m17.59 0h.01m-122.41 .2h.01m9.59 0h.01m1.99 0h.01m2.19 0h.01m18.39 0h.01m1.39 0h.01m6.39 0h.01m1.39 0h.01m1.39 0h.01m9.39 0h.01m6.79 0h.01m1.39 0h.01m5.59 0h.01m23.39 0h.01m3.79 0h.01m3.59 0h.01m21.99 0h.01m-102.01 .2h.01m4.39 0h.01m3.79 0h.01m1.79 0h.01m10.99 0h.01m5.39 0h.01m28.79 0h.01m1.99 0h.01m22.39 0h.01m60.59 0h.01m-150.41 .2h.01m6.99 0h.01m7.79 0h.01m2.79 0h.01m2.79 0h.01m10.19 0h.01m26.59 0h.01m1.39 0h.01m3.79 0h.01m1.99 0h.01m1.19 0h.01m13.59 0h.01m-77.41 .2h.01m7.99 0h.01m1.99 0h.01m2.79 0h.01m5.99 0h.01m12.39 0h.01m1.59 0h.01m5.39 0h.01m.59 0h.01m.79 0h.01m.79 0h.01m4.79 0h.01m3.59 0h.01m.99 0h.01m2.79 0h.01m3.99 0h.01m11.99 0h.01m7.19 0h.01m1.19 0h.01m8.59 0h.01m-90.01 .2h.01m.99 0h.01m8.79 0h.01m6.99 0h.01m2.79 0h.01m2.99 0h.01m.79 0h.01m9.79 0h.01m7.99 0h.01m2.59 0h.01m.59 0h.01m2.59 0h.01m1.99 0h.01m2.39 0h.01m6.79 0h.01m4.59 0h.01m25.79 0h.01m15.79 0h.01m19.99 0h.01m-104.41 .2h.01m3.79 0h.01m5.39 0h.01m12.19 0h.01m29.99 0h.01m15.59 0h.01m7.79 0h.01m1.19 0h.01m55.19 0h.01m-152.81 .2h.01m6.99 0h.01m14.19 0h.01m11.59 0h.01m.39 0h.01m8.59 0h.01m10.99 0h.01m8.39 0h.01m3.39 0h.01m3.59 0h.01m4.99 0h.01m30.79 0h.01m-97.41 .2h.01m.39 0h.01m6.79 0h.01m13.59 0h.01m.19 0h.01m.59 0h.01m3.79 0h.01m.59 0h.01m7.39 0h.01m2.39 0h.01m2.99 0h.01m1.59 0h.01m3.19 0h.01m3.59 0h.01m.79 0h.01m50.59 0h.01m3.39 0h.01m15.99 0h.01m-118.21 .2h.01m9.39 0h.01m1.59 0h.01m.19 0h.01m.79 0h.01m.19 0h.01m6.19 0h.01m2.99 0h.01m5.79 0h.01m7.99 0h.01m5.59 0h.01m2.79 0h.01m1.19 0h.01m14.59 0h.01m.99 0h.01m2.59 0h.01m3.79 0h.01m9.79 0h.01m7.39 0h.01m15.79 0h.01m35.19 0h.01m-144.01 .2h.01m6.79 0h.01m5.99 0h.01m8.19 0h.01m1.59 0h.01m.59 0h.01m13.19 0h.01m6.59 0h.01m.59 0h.01m12.99 0h.01m1.39 0h.01m.59 0h.01m1.19 0h.01m.59 0h.01m4.79 0h.01m9.79 0h.01m68.39 0h.01m1.79 0h.01m-131.01 .2h.01m2.39 0h.01m15.79 0h.01m2.79 0h.01m3.19 0h.01m1.19 0h.01m.39 0h.01m11.39 0h.01m4.99 0h.01m5.39 0h.01m8.39 0h.01m10.39 0h.01m6.19 0h.01m.79 0h.01m6.59 0h.01m3.59 0h.01m7.39 0h.01m16.39 0h.01m39.19 0h.01m-153.81 .2h.01m2.79 0h.01m22.19 0h.01m9.19 0h.01m2.39 0h.01m3.59 0h.01m3.19 0h.01m17.19 0h.01m1.39 0h.01m1.59 0h.01m52.79 0h.01m22.19 0h.01m7.79 0h.01m-142.41 .2h.01m1.79 0h.01m.59 0h.01m3.19 0h.01m9.59 0h.01m.19 0h.01m.79 0h.01m7.39 0h.01m1.99 0h.01m3.39 0h.01m6.19 0h.01m2.59 0h.01m.19 0h.01m.99 0h.01m8.39 0h.01m3.99 0h.01m.59 0h.01m18.39 0h.01m25.59 0h.01m7.39 0h.01m19.39 0h.01m-127.61 .2h.01m9.39 0h.01m17.59 0h.01m.99 0h.01m4.99 0h.01m.39 0h.01m.39 0h.01m.59 0h.01m14.79 0h.01m16.99 0h.01m5.79 0h.01m1.79 0h.01m.59 0h.01m6.79 0h.01m18.19 0h.01m9.79 0h.01m29.59 0h.01m-134.21 .2h.01m5.19 0h.01m1.59 0h.01m3.59 0h.01m9.39 0h.01m9.59 0h.01m14.99 0h.01m.39 0h.01m1.59 0h.01m4.99 0h.01m9.19 0h.01m.79 0h.01m6.79 0h.01m11.79 0h.01m3.39 0h.01m1.79 0h.01m3.79 0h.01m32.19 0h.01m6.39 0h.01m22.39 0h.01m-155.81 .2h.01m3.39 0h.01m38.79 0h.01m5.99 0h.01m11.19 0h.01m10.39 0h.01m.59 0h.01m6.19 0h.01m29.99 0h.01m9.99 0h.01m32.99 0h.01m2.79 0h.01m-154.81 .2h.01m11.19 0h.01m2.79 0h.01m.99 0h.01m.19 0h.01m2.79 0h.01m15.79 0h.01m12.79 0h.01m1.59 0h.01m.59 0h.01m2.79 0h.01m.79 0h.01m4.59 0h.01m.99 0h.01m1.39 0h.01m20.99 0h.01m5.39 0h.01m5.39 0h.01m11.19 0h.01m3.79 0h.01m12.59 0h.01m-102.41 .2h.01m15.59 0h.01m8.99 0h.01m.59 0h.01m7.39 0h.01m17.99 0h.01m.39 0h.01m9.79 0h.01m21.39 0h.01m16.19 0h.01m.79 0h.01m14.59 0h.01m.99 0h.01m3.79 0h.01m-135.01 .2h.01m14.79 0h.01m.79 0h.01m6.39 0h.01m4.59 0h.01m18.19 0h.01m.39 0h.01m4.99 0h.01m8.39 0h.01m3.19 0h.01m2.19 0h.01m2.59 0h.01m1.59 0h.01m31.79 0h.01m6.39 0h.01m6.39 0h.01m8.19 0h.01m.59 0h.01m20.19 0h.01m4.79 0h.01m-153.01 .2h.01m10.19 0h.01m17.59 0h.01m3.59 0h.01m.79 0h.01m.19 0h.01m4.79 0h.01m.59 0h.01m3.99 0h.01m2.79 0h.01m6.79 0h.01m2.99 0h.01m6.99 0h.01m2.19 0h.01m3.79 0h.01m10.19 0h.01m12.39 0h.01m.19 0h.01m7.19 0h.01m20.99 0h.01m18.99 0h.01m23.19 0h.01m-151.21 .2h.01m.19 0h.01m1.39 0h.01m15.19 0h.01m6.39 0h.01m17.79 0h.01m13.19 0h.01m1.19 0h.01m4.59 0h.01m.19 0h.01m2.99 0h.01m2.79 0h.01m21.19 0h.01m1.79 0h.01m8.99 0h.01m1.79 0h.01m12.99 0h.01m17.79 0h.01m-133.81 .2h.01m15.99 0h.01m3.59 0h.01m2.39 0h.01m.19 0h.01m2.99 0h.01m6.39 0h.01m.39 0h.01m.59 0h.01m3.59 0h.01m2.19 0h.01m4.59 0h.01m1.79 0h.01m.99 0h.01m6.59 0h.01m.79 0h.01m.59 0h.01m2.19 0h.01m5.99 0h.01m1.59 0h.01m2.99 0h.01m3.99 0h.01m2.99 0h.01m8.99 0h.01m.19 0h.01m1.59 0h.01m9.19 0h.01m.79 0h.01m1.99 0h.01m7.39 0h.01m3.59 0h.01m7.99 0h.01m3.39 0h.01m18.59 0h.01m-129.41 .2h.01m5.39 0h.01m16.19 0h.01m1.39 0h.01m1.39 0h.01m3.39 0h.01m.59 0h.01m1.99 0h.01m2.59 0h.01m.19 0h.01m.39 0h.01m14.79 0h.01m3.99 0h.01m22.39 0h.01m11.59 0h.01m1.79 0h.01m7.19 0h.01m2.79 0h.01m14.59 0h.01m-117.21 .2h.01m.59 0h.01m19.59 0h.01m11.19 0h.01m5.79 0h.01m1.19 0h.01m3.99 0h.01m3.19 0h.01m12.19 0h.01m1.79 0h.01m.99 0h.01m3.39 0h.01m3.59 0h.01m4.19 0h.01m24.99 0h.01m13.19 0h.01m7.39 0h.01m11.99 0h.01m1.39 0h.01m10.79 0h.01m-150.01 .2h.01m3.99 0h.01m3.79 0h.01m.99 0h.01m3.99 0h.01m12.99 0h.01m3.79 0h.01m5.19 0h.01m12.19 0h.01m1.79 0h.01m.59 0h.01m1.19 0h.01m.99 0h.01m2.99 0h.01m39.39 0h.01m11.59 0h.01m6.99 0h.01m10.99 0h.01m4.59 0h.01m-123.01 .2h.01m18.39 0h.01m3.19 0h.01m2.39 0h.01m.99 0h.01m.19 0h.01m1.99 0h.01m10.79 0h.01m1.19 0h.01m1.39 0h.01m3.99 0h.01m5.59 0h.01m.99 0h.01m1.39 0h.01m1.39 0h.01m5.59 0h.01m1.99 0h.01m5.59 0h.01m1.39 0h.01m2.99 0h.01m8.59 0h.01m.59 0h.01m8.19 0h.01m3.19 0h.01m10.19 0h.01m52.79 0h.01m-147.81 .2h.01m23.19 0h.01m.59 0h.01m11.19 0h.01m2.99 0h.01m2.59 0h.01m3.39 0h.01m1.19 0h.01m3.79 0h.01m2.59 0h.01m.99 0h.01m18.99 0h.01m.59 0h.01m.99 0h.01m4.59 0h.01m5.99 0h.01m1.19 0h.01m25.59 0h.01m.39 0h.01m-121.81 .2h.01m9.39 0h.01m4.99 0h.01m3.99 0h.01m3.39 0h.01m13.59 0h.01m4.99 0h.01m8.59 0h.01m6.19 0h.01m1.39 0h.01m9.19 0h.01m.99 0h.01m5.59 0h.01m9.59 0h.01m1.59 0h.01m1.79 0h.01m6.99 0h.01m4.59 0h.01m2.99 0h.01m13.39 0h.01m16.59 0h.01m9.59 0h.01m-131.61 .2h.01m2.79 0h.01m6.59 0h.01m.19 0h.01m.99 0h.01m1.39 0h.01m.59 0h.01m9.99 0h.01m1.79 0h.01m2.59 0h.01m2.59 0h.01m.79 0h.01m.59 0h.01m5.59 0h.01m.19 0h.01m1.39 0h.01m.19 0h.01m4.39 0h.01m1.99 0h.01m6.39 0h.01m1.59 0h.01m5.79 0h.01m14.59 0h.01m.99 0h.01m.59 0h.01m1.59 0h.01m6.39 0h.01m28.99 0h.01m20.99 0h.01m4.39 0h.01m-135.81 .2h.01m3.59 0h.01m7.59 0h.01m8.59 0h.01m.79 0h.01m7.19 0h.01m13.39 0h.01m.79 0h.01m1.99 0h.01m.39 0h.01m2.59 0h.01m1.39 0h.01m5.39 0h.01m2.19 0h.01m5.59 0h.01m2.39 0h.01m4.39 0h.01m2.19 0h.01m4.19 0h.01m9.59 0h.01m4.79 0h.01m1.39 0h.01m.79 0h.01m17.79 0h.01m6.79 0h.01m1.79 0h.01m12.99 0h.01m-121.41 .2h.01m11.59 0h.01m6.79 0h.01m3.79 0h.01m14.59 0h.01m11.79 0h.01m7.39 0h.01m.99 0h.01m.99 0h.01m6.39 0h.01m1.79 0h.01m1.99 0h.01m18.99 0h.01m14.19 0h.01m6.39 0h.01m.39 0h.01m-110.81 .2h.01m1.39 0h.01m9.79 0h.01m9.19 0h.01m.79 0h.01m3.79 0h.01m6.79 0h.01m4.19 0h.01m4.99 0h.01m1.39 0h.01m1.39 0h.01m1.19 0h.01m1.99 0h.01m1.99 0h.01m2.59 0h.01m8.59 0h.01m3.59 0h.01m2.59 0h.01m14.79 0h.01m47.79 0h.01m-135.21 .2h.01m2.99 0h.01m.39 0h.01m9.19 0h.01m3.59 0h.01m.39 0h.01m.19 0h.01m1.99 0h.01m1.59 0h.01m3.99 0h.01m3.59 0h.01m4.59 0h.01m1.19 0h.01m1.19 0h.01m3.39 0h.01m2.39 0h.01m2.59 0h.01m.79 0h.01m4.19 0h.01m.19 0h.01m.59 0h.01m4.19 0h.01m1.39 0h.01m3.79 0h.01m10.19 0h.01m15.99 0h.01m3.99 0h.01m2.19 0h.01m18.59 0h.01m10.99 0h.01m7.99 0h.01m6.99 0h.01m.19 0h.01m-141.21 .2h.01m5.39 0h.01m1.19 0h.01m4.39 0h.01m5.39 0h.01m2.19 0h.01m.79 0h.01m4.39 0h.01m6.39 0h.01m3.59 0h.01m.59 0h.01m.39 0h.01m2.59 0h.01m3.79 0h.01m4.79 0h.01m.19 0h.01m3.99 0h.01m6.39 0h.01m4.59 0h.01m8.39 0h.01m2.39 0h.01m2.79 0h.01m.39 0h.01m8.79 0h.01m1.39 0h.01m3.59 0h.01m-83.21 .2h.01m11.59 0h.01m.59 0h.01m7.39 0h.01m7.99 0h.01m4.99 0h.01m4.79 0h.01m.99 0h.01m4.99 0h.01m1.59 0h.01m4.39 0h.01m14.59 0h.01m1.59 0h.01m39.19 0h.01m-108.21 .2h.01m1.59 0h.01m.79 0h.01m7.79 0h.01m4.79 0h.01m8.39 0h.01m.59 0h.01m4.79 0h.01m.79 0h.01m1.39 0h.01m3.39 0h.01m9.19 0h.01m6.39 0h.01m4.79 0h.01m4.59 0h.01m39.99 0h.01m29.59 0h.01m-127.61 .2h.01m7.79 0h.01m.59 0h.01m12.99 0h.01m6.39 0h.01m5.39 0h.01m8.19 0h.01m12.39 0h.01m.79 0h.01m1.19 0h.01m1.39 0h.01m5.19 0h.01m5.79 0h.01m17.39 0h.01m14.39 0h.01m14.39 0h.01m8.79 0h.01m.19 0h.01m10.99 0h.01m16.39 0h.01m-152.41 .2h.01m9.59 0h.01m.39 0h.01m.99 0h.01m3.19 0h.01m11.99 0h.01m5.19 0h.01m.19 0h.01m2.39 0h.01m3.19 0h.01m2.19 0h.01m4.19 0h.01m1.39 0h.01m5.99 0h.01m1.39 0h.01m4.59 0h.01m9.59 0h.01m3.99 0h.01m7.79 0h.01m10.59 0h.01m3.59 0h.01m2.19 0h.01m1.79 0h.01m2.99 0h.01m11.79 0h.01m42.59 0h.01m-158.81 .2h.01m13.39 0h.01m2.79 0h.01m2.59 0h.01m3.99 0h.01m8.19 0h.01m4.39 0h.01m.99 0h.01m4.19 0h.01m5.39 0h.01m13.19 0h.01m1.19 0h.01m1.99 0h.01m4.39 0h.01m2.19 0h.01m1.59 0h.01m2.99 0h.01m.99 0h.01m25.39 0h.01m11.59 0h.01m15.59 0h.01m12.59 0h.01m1.99 0h.01m-135.81 .2h.01m6.19 0h.01m10.79 0h.01m6.59 0h.01m2.79 0h.01m.79 0h.01m2.99 0h.01m13.39 0h.01m11.39 0h.01m3.19 0h.01m7.99 0h.01m6.59 0h.01m4.19 0h.01m13.39 0h.01m17.19 0h.01m6.99 0h.01m-118.81 .2h.01m9.99 0h.01m5.19 0h.01m2.19 0h.01m.59 0h.01m4.59 0h.01m1.79 0h.01m.59 0h.01m2.19 0h.01m4.59 0h.01m6.59 0h.01m3.39 0h.01m9.39 0h.01m6.19 0h.01m.79 0h.01m13.39 0h.01m3.19 0h.01m25.99 0h.01m1.79 0h.01m13.39 0h.01m6.19 0h.01m-119.01 .2h.01m8.79 0h.01m8.99 0h.01m16.19 0h.01m.79 0h.01m.19 0h.01m.39 0h.01m1.19 0h.01m4.59 0h.01m3.39 0h.01m5.99 0h.01m3.19 0h.01m2.19 0h.01m2.59 0h.01m5.19 0h.01m2.59 0h.01m11.79 0h.01m15.99 0h.01m2.79 0h.01m14.99 0h.01m3.59 0h.01m11.19 0h.01m-117.41 .2h.01m2.19 0h.01m3.59 0h.01m11.19 0h.01m1.39 0h.01m5.19 0h.01m2.19 0h.01m.39 0h.01m7.79 0h.01m9.99 0h.01m28.39 0h.01m.99 0h.01m8.39 0h.01m29.79 0h.01m9.19 0h.01m13.59 0h.01m11.79 0h.01m-130.01 .2h.01m.19 0h.01m3.59 0h.01m1.99 0h.01m.19 0h.01m1.79 0h.01m2.79 0h.01m.39 0h.01m7.19 0h.01m1.19 0h.01m6.39 0h.01m6.19 0h.01m2.59 0h.01m1.19 0h.01m.39 0h.01m5.39 0h.01m2.79 0h.01m1.99 0h.01m2.19 0h.01m3.59 0h.01m.99 0h.01m.19 0h.01m8.79 0h.01m4.99 0h.01m14.59 0h.01m11.99 0h.01m-121.01 .2h.01m8.59 0h.01m4.59 0h.01m.79 0h.01m2.79 0h.01m.59 0h.01m1.39 0h.01m.59 0h.01m2.19 0h.01m2.19 0h.01m8.39 0h.01m2.59 0h.01m1.99 0h.01m5.99 0h.01m.19 0h.01m7.99 0h.01m4.99 0h.01m.39 0h.01m.39 0h.01m1.79 0h.01m3.19 0h.01m7.79 0h.01m3.19 0h.01m.99 0h.01m.59 0h.01m.99 0h.01m.59 0h.01m1.59 0h.01m1.79 0h.01m2.59 0h.01m5.59 0h.01m16.99 0h.01m-94.81 .2h.01m6.59 0h.01m3.59 0h.01m5.99 0h.01m4.39 0h.01m1.99 0h.01m8.99 0h.01m6.79 0h.01m9.39 0h.01m23.19 0h.01m5.79 0h.01m1.99 0h.01m5.99 0h.01m7.59 0h.01m3.99 0h.01m6.59 0h.01m-109.21 .2h.01m6.79 0h.01m7.79 0h.01m5.39 0h.01m1.79 0h.01m1.59 0h.01m2.79 0h.01m2.59 0h.01m6.79 0h.01m.19 0h.01m1.19 0h.01m1.79 0h.01m1.19 0h.01m3.39 0h.01m1.19 0h.01m23.79 0h.01m6.99 0h.01m3.79 0h.01m2.79 0h.01m1.19 0h.01m31.19 0h.01m-125.21 .2h.01m5.99 0h.01m3.59 0h.01m4.99 0h.01m4.39 0h.01m2.39 0h.01m1.59 0h.01m.59 0h.01m4.79 0h.01m.19 0h.01m1.79 0h.01m3.99 0h.01m2.19 0h.01m.99 0h.01m1.99 0h.01m2.99 0h.01m8.79 0h.01m.39 0h.01m8.59 0h.01m7.19 0h.01m.99 0h.01m1.19 0h.01m2.99 0h.01m5.99 0h.01m29.59 0h.01m16.39 0h.01m3.99 0h.01m3.19 0h.01m-111.61 .2h.01m11.39 0h.01m1.19 0h.01m1.19 0h.01m1.39 0h.01m13.59 0h.01m.39 0h.01m.59 0h.01m4.59 0h.01m5.59 0h.01m7.39 0h.01m.39 0h.01m5.59 0h.01m1.19 0h.01m.79 0h.01m4.79 0h.01m5.19 0h.01m12.39 0h.01m10.79 0h.01m27.59 0h.01m-123.01 .2h.01m.39 0h.01m6.59 0h.01m5.79 0h.01m12.79 0h.01m7.99 0h.01m1.39 0h.01m15.79 0h.01m5.99 0h.01m.39 0h.01m3.79 0h.01m5.79 0h.01m9.19 0h.01m5.79 0h.01m1.99 0h.01m28.79 0h.01m31.19 0h.01m-157.41 .2h.01m7.79 0h.01m8.59 0h.01m13.19 0h.01m.39 0h.01m5.19 0h.01m20.19 0h.01m5.39 0h.01m2.59 0h.01m2.79 0h.01m1.19 0h.01m.59 0h.01m9.79 0h.01m16.99 0h.01m1.39 0h.01m29.79 0h.01m-110.41 .2h.01m1.59 0h.01m3.79 0h.01m2.19 0h.01m5.39 0h.01m2.59 0h.01m.39 0h.01m3.79 0h.01m1.79 0h.01m1.39 0h.01m9.99 0h.01m6.79 0h.01m4.19 0h.01m.59 0h.01m2.99 0h.01m1.39 0h.01m23.79 0h.01m8.59 0h.01m8.19 0h.01m.19 0h.01m7.59 0h.01m32.39 0h.01m-138.61 .2h.01m1.19 0h.01m11.79 0h.01m6.79 0h.01m10.19 0h.01m2.59 0h.01m11.39 0h.01m.39 0h.01m.79 0h.01m3.59 0h.01m1.39 0h.01m.59 0h.01m5.79 0h.01m.79 0h.01m9.79 0h.01m12.59 0h.01m2.79 0h.01m3.19 0h.01m5.59 0h.01m24.99 0h.01m9.99 0h.01m16.39 0h.01m-145.81 .2h.01m8.39 0h.01m12.39 0h.01m6.79 0h.01m1.59 0h.01m1.59 0h.01m1.99 0h.01m2.39 0h.01m4.99 0h.01m.99 0h.01m10.99 0h.01m2.79 0h.01m5.39 0h.01m2.99 0h.01m.19 0h.01m14.39 0h.01m6.19 0h.01m11.79 0h.01m4.79 0h.01m34.39 0h.01m-122.81 .2h.01m4.39 0h.01m10.99 0h.01m2.79 0h.01m11.59 0h.01m3.19 0h.01m.19 0h.01m9.39 0h.01m.59 0h.01m.99 0h.01m3.19 0h.01m.79 0h.01m1.79 0h.01m2.19 0h.01m5.39 0h.01m3.99 0h.01m1.99 0h.01m5.79 0h.01m33.79 0h.01m-115.41 .2h.01m8.99 0h.01m2.59 0h.01m14.39 0h.01m5.79 0h.01m.99 0h.01m1.19 0h.01m.19 0h.01m6.79 0h.01m1.79 0h.01m.39 0h.01m11.79 0h.01m1.39 0h.01m3.99 0h.01m3.59 0h.01m11.19 0h.01m.99 0h.01m14.39 0h.01m14.39 0h.01m4.19 0h.01m30.59 0h.01m-134.21 .2h.01m.99 0h.01m5.99 0h.01m4.99 0h.01m4.59 0h.01m15.59 0h.01m7.59 0h.01m1.99 0h.01m3.39 0h.01m.59 0h.01m10.19 0h.01m12.79 0h.01m15.79 0h.01m8.19 0h.01m12.39 0h.01m10.79 0h.01m8.19 0h.01m-131.81 .2h.01m4.39 0h.01m9.19 0h.01m6.39 0h.01m5.39 0h.01m12.99 0h.01m8.39 0h.01m7.19 0h.01m5.59 0h.01m1.19 0h.01m11.99 0h.01m6.59 0h.01m19.59 0h.01m10.79 0h.01m-103.41 .2h.01m38.39 0h.01m6.19 0h.01m16.39 0h.01m55.19 0h.01m-94.01 .2h.01m1.19 0h.01m1.19 0h.01m15.59 0h.01m11.79 0h.01m2.99 0h.01m21.59 0h.01m3.59 0h.01m.79 0h.01m14.99 0h.01m1.19 0h.01m13.99 0h.01m7.99 0h.01"/><path class="rl" d="M503.05 117.26L678.4 121.35"/><path class="ax" d="M503.05 15V133.05M502.45 132.45H679"/><path class="tk" d="M499.75 132.45H503.05M499.75 93.5H503.05M499.75 54.55H503.05M499.75 15.6H503.05M503.05 132.45V135.95M561.5 132.45V135.95M619.95 132.45V135.95M678.4 132.45V135.95"/><text class="tl" text-anchor="end" transform="translate(498.05 135.6) scale(1.19 1)">0</text><text class="tl" text-anchor="end" transform="translate(498.05 96.65) scale(1.19 1)">10</text><text class="tl" text-anchor="end" transform="translate(498.05 57.7) scale(1.19 1)">20</text><text class="tl" text-anchor="end" transform="translate(498.05 18.75) scale(1.19 1)">30</text><text class="tl" text-anchor="middle" transform="translate(503.25 147.9) scale(1.19 1)">15</text><text class="tl" text-anchor="middle" transform="translate(561.7 147.9) scale(1.19 1)">20</text><text class="tl" text-anchor="middle" transform="translate(620.15 147.9) scale(1.19 1)">25</text><text class="tl" text-anchor="middle" transform="translate(678.6 147.9) scale(1.19 1)">30</text><text class="ti" text-anchor="middle" transform="translate(591.02 163.45) scale(1.23 1)">BMI (kg/m2)</text><text class="ti" text-anchor="middle" transform="translate(478.05 71.52) rotate(-90) scale(1.23 1)">AMH (ng/ml)</text><text class="an" transform="translate(599 34.3) scale(1.2 1)">P = 0.008</text><text class="an" transform="translate(599 47.5) scale(1.2 1)">R = -0.058</text><text class="st" transform="translate(644.1 33.6)">*</text></g>
<g><path class="pt" d="M69.4 229.8h.01m8.79 0h.01m1.59 .4h.01m1.39 0h.01m-1.81 12.2h.01m-.21 5.8h.01m-4.61 .4h.01m-3.41 3.2h.01m-1.61 .2h.01m4.99 0h.01m-.41 1.2h.01m-5.01 .4h.01m2.99 .6h.01m3.59 0h.01m1.19 0h.01m-2.21 .6h.01m1.99 1.4h.01m5.39 .8h.01m-6.01 .2h.01m3.79 0h.01m-9.41 .2h.01m-.61 .2h.01m-2.41 3.6h.01m11.79 .2h.01m2.19 0h.01m-15.21 .4h.01m3.79 .8h.01m1.99 .2h.01m7.19 0h.01m-6.21 .2h.01m4.39 .2h.01m.19 .2h.01m2.39 0h.01m-10.81 .2h.01m5.79 .4h.01m4.39 1.2h.01m-7.01 .4h.01m.99 0h.01m.99 0h.01m-6.21 1.2h.01m2.59 0h.01m3.99 0h.01m-.01 .2h.01m-.41 .2h.01m4.99 .8h.01m-13.61 .6h.01m9.19 .2h.01m4.59 .2h.01m-1.81 .2h.01m-2.61 .2h.01m-6.21 .2h.01m11.59 .4h.01m-14.21 1.4h.01m.39 .2h.01m5.19 .6h.01m-4.61 .6h.01m9.79 .2h.01m2.99 0h.01m5.19 0h.01m-18.81 .2h.01m2.59 0h.01m.99 .6h.01m7.59 .2h.01m.79 .2h.01m2.39 0h.01m-10.21 .2h.01m-1.61 .2h.01m2.39 0h.01m6.19 0h.01m5.79 0h.01m-11.21 .2h.01m-4.21 .2h.01m12.99 0h.01m-7.21 .2h.01m6.39 0h.01m-7.21 .4h.01m-4.01 .2h.01m6.79 0h.01m1.99 0h.01m3.19 .2h.01m-12.41 .4h.01m2.19 0h.01m.59 0h.01m1.79 0h.01m9.19 0h.01m-14.61 .4h.01m1.39 0h.01m-5.21 .2h.01m19.19 0h.01m-10.01 .4h.01m6.79 0h.01m-6.81 .2h.01m-.81 .2h.01m3.79 0h.01m-4.61 .2h.01m7.19 0h.01m2.59 0h.01m-9.81 .4h.01m-4.41 .2h.01m4.39 0h.01m.39 .2h.01m-3.21 .4h.01m2.39 .4h.01m11.99 0h.01m-13.01 .2h.01m1.59 .2h.01m1.79 0h.01m1.19 .2h.01m1.39 0h.01m-.01 .2h.01m-4.61 .2h.01m.99 .2h.01m3.39 0h.01m1.59 0h.01m4.79 0h.01m-18.61 .2h.01m4.99 0h.01m21.19 0h.01m-15.61 .2h.01m-3.41 .2h.01m12.79 0h.01m-11.41 .2h.01m.39 0h.01m-4.21 .4h.01m4.79 0h.01m-16.41 .2h.01m11.79 0h.01m9.79 0h.01m-10.61 .2h.01m2.99 0h.01m3.79 0h.01m.19 0h.01m1.19 0h.01m1.19 0h.01m-2.01 .2h.01m1.19 0h.01m-5.41 .2h.01m6.59 0h.01m5.59 0h.01m-14.41 .2h.01m1.79 0h.01m.59 0h.01m3.59 0h.01m2.39 0h.01m-8.41 .6h.01m4.19 0h.01m3.99 0h.01m1.19 0h.01m10.99 0h.01m-20.61 .2h.01m2.79 0h.01m7.59 0h.01m1.99 0h.01m-11.41 .2h.01m.19 0h.01m3.79 0h.01m.39 0h.01m8.79 .2h.01m-9.61 .2h.01m2.99 0h.01m1.59 0h.01m-6.81 .2h.01m3.19 0h.01m11.39 0h.01m-3.61 .2h.01m-30.41 .2h.01m6.19 0h.01m10.79 0h.01m.19 0h.01m.79 0h.01m3.39 0h.01m9.39 0h.01m-13.61 .2h.01m4.19 0h.01m2.79 0h.01m.79 0h.01m10.99 0h.01m15.99 0h.01m-10.61 .2h.01m-14.81 .2h.01m-8.01 .2h.01m.59 0h.01m.99 0h.01m1.19 0h.01m7.19 0h.01m-7.61 .2h.01m7.79 0h.01m3.99 0h.01m-14.01 .2h.01m8.99 0h.01m4.39 0h.01m-9.21 .2h.01m1.59 0h.01m8.99 0h.01m-15.81 .2h.01m4.79 0h.01m-4.41 .2h.01m-2.61 .2h.01m3.19 0h.01m1.99 0h.01m3.39 0h.01m19.79 0h.01m1.79 0h.01m-29.21 .2h.01m2.59 0h.01m.19 .4h.01m11.59 0h.01m3.19 0h.01m-14.21 .2h.01m9.59 0h.01m-10.01 .2h.01m3.39 0h.01m2.39 0h.01m1.59 0h.01m7.79 0h.01m-17.41 .2h.01m3.59 0h.01m19.39 0h.01m-31.01 .2h.01m14.79 0h.01m-3.81 .2h.01m.19 0h.01m3.79 0h.01m-25.81 .2h.01m18.39 0h.01m7.79 0h.01m-6.61 .2h.01m2.19 0h.01m1.39 0h.01m.99 0h.01m3.39 0h.01m10.79 0h.01m6.39 .2h.01m-28.81 .2h.01m9.59 0h.01m1.39 0h.01m3.19 0h.01m2.99 0h.01m5.19 0h.01m-20.01 .2h.01m5.99 0h.01m7.39 0h.01m-15.41 .2h.01m3.39 0h.01m1.79 0h.01m4.19 0h.01m7.59 0h.01m13.79 0h.01m-26.81 .2h.01m1.19 0h.01m.59 0h.01m9.59 0h.01m-11.21 .2h.01m3.19 0h.01m3.19 0h.01m2.59 0h.01m.59 .2h.01m-15.01 .2h.01m8.39 0h.01m.59 0h.01m-12.21 .2h.01m4.99 0h.01m5.19 0h.01m1.79 0h.01m1.59 0h.01m24.79 0h.01m-34.61 .2h.01m7.59 0h.01m1.79 0h.01m5.79 0h.01m-13.81 .2h.01m.79 0h.01m.99 0h.01m4.99 0h.01m2.39 0h.01m4.39 0h.01m.59 0h.01m-7.61 .2h.01m5.19 0h.01m1.39 0h.01m8.99 0h.01m-18.41 .2h.01m7.19 0h.01m5.99 0h.01m1.99 0h.01m-18.81 .2h.01m15.79 0h.01m1.39 0h.01m-8.01 .2h.01m-1.01 .2h.01m.39 0h.01m2.99 0h.01m.79 0h.01m3.19 0h.01m-10.01 .2h.01m1.39 0h.01m1.59 0h.01m4.79 0h.01m4.19 0h.01m7.59 0h.01m-23.21 .2h.01m4.19 0h.01m.79 0h.01m2.59 0h.01m.79 0h.01m.79 0h.01m-12.01 .2h.01m.99 0h.01m8.19 0h.01m-22.01 .2h.01m19.99 0h.01m1.19 0h.01m7.19 0h.01m8.19 0h.01m3.99 0h.01m-13.41 .2h.01m3.19 0h.01m6.59 0h.01m-23.61 .2h.01m4.59 0h.01m7.79 0h.01m-12.41 .2h.01m4.79 0h.01m5.39 0h.01m2.99 0h.01m2.19 0h.01m-13.61 .2h.01m1.59 0h.01m4.79 0h.01m.59 0h.01m6.99 0h.01m1.79 0h.01m2.99 0h.01m8.79 0h.01m-31.81 .2h.01m1.19 0h.01m4.19 0h.01m.99 0h.01m1.99 0h.01m4.99 0h.01m2.19 0h.01m.19 0h.01m2.59 0h.01m.19 0h.01m4.39 0h.01m-20.81 .2h.01m7.99 0h.01m1.19 0h.01m-8.21 .2h.01m1.39 0h.01m2.19 0h.01m1.79 0h.01m7.39 0h.01m3.19 0h.01m.79 0h.01m-23.41 .2h.01m6.59 0h.01m1.99 0h.01m1.79 0h.01m1.79 0h.01m1.59 0h.01m1.79 0h.01m4.59 0h.01m6.79 0h.01m1.99 0h.01m-19.01 .2h.01m.59 0h.01m4.39 0h.01m.19 0h.01m-5.01 .2h.01m1.79 0h.01m2.79 0h.01m3.39 0h.01m5.99 0h.01m1.59 0h.01m-38.61 .2h.01m20.39 0h.01m9.39 0h.01m3.39 0h.01m-10.21 .2h.01m1.39 0h.01m1.19 0h.01m2.99 0h.01m1.59 0h.01m2.79 0h.01m3.99 0h.01m-11.01 .2h.01m.99 0h.01m5.39 0h.01m11.19 0h.01m-34.41 .2h.01m13.79 0h.01m5.79 0h.01m3.19 0h.01m-11.41 .2h.01m3.39 0h.01m3.59 0h.01m4.99 0h.01m-15.81 .2h.01m1.59 0h.01m1.99 0h.01m15.99 0h.01m-17.81 .2h.01m2.39 0h.01m.59 0h.01m3.99 0h.01m.19 0h.01m6.59 0h.01m3.19 0h.01m3.39 0h.01m-20.61 .2h.01m6.39 0h.01m4.39 0h.01m7.79 0h.01m.39 0h.01m2.79 0h.01m-28.41 .2h.01m.39 0h.01m.99 0h.01m5.59 0h.01m7.99 0h.01m1.39 0h.01m1.99 0h.01m1.59 0h.01m5.99 0h.01m-18.41 .2h.01m.59 0h.01m.19 0h.01m1.39 0h.01m5.39 0h.01m.39 0h.01m5.99 0h.01m2.19 0h.01m4.19 0h.01m4.99 0h.01m1.99 0h.01m-40.01 .2h.01m5.39 0h.01m12.59 0h.01m2.59 0h.01m3.39 0h.01m3.39 0h.01m1.99 0h.01m1.19 0h.01m-15.21 .2h.01m3.99 0h.01m.59 0h.01m1.19 0h.01m.99 0h.01m5.59 0h.01m-15.81 .2h.01m8.39 0h.01m1.39 0h.01m2.79 0h.01m.99 0h.01m-10.61 .2h.01m1.19 0h.01m.79 0h.01m2.79 0h.01m.59 0h.01m3.19 0h.01m10.19 0h.01m-34.81 .2h.01m8.19 0h.01m4.19 0h.01m2.79 0h.01m8.79 0h.01m3.39 0h.01m1.79 0h.01m3.19 0h.01m5.19 0h.01m-31.61 .2h.01m6.59 0h.01m1.19 0h.01m.19 0h.01m5.19 0h.01m1.99 0h.01m.19 0h.01m.39 0h.01m.19 0h.01m10.59 0h.01m4.19 0h.01m-42.21 .2h.01m36.19 0h.01m6.39 0h.01m-26.01 .2h.01m9.59 0h.01m1.59 0h.01m3.39 0h.01m6.59 0h.01m-20.41 .2h.01m5.19 0h.01m.99 0h.01m.59 0h.01m.99 0h.01m3.39 0h.01m.39 0h.01m3.59 0h.01m1.99 0h.01m1.79 0h.01m-15.81 .2h.01m5.39 0h.01m.59 0h.01m2.19 0h.01m5.99 0h.01m-15.21 .2h.01m.99 0h.01m1.39 0h.01m.59 0h.01m.59 0h.01m1.19 0h.01m5.19 0h.01m.59 0h.01m.39 0h.01m.59 0h.01m2.99 0h.01m.99 0h.01m1.59 0h.01m-18.01 .2h.01m2.79 0h.01m2.19 0h.01m1.39 0h.01m.19 0h.01m1.79 0h.01m.19 0h.01m.79 0h.01m3.19 0h.01m5.39 0h.01m-17.01 .2h.01m.99 0h.01m1.99 0h.01m.99 0h.01m4.59 0h.01m-20.21 .2h.01m13.99 0h.01m.99 0h.01m7.19 0h.01m6.79 0h.01m3.59 0h.01m-29.81 .2h.01m6.19 0h.01m.99 0h.01m2.19 0h.01m3.79 0h.01m1.19 0h.01m1.79 0h.01m1.99 0h.01m.19 0h.01m2.19 0h.01m5.79 0h.01m2.79 0h.01m-37.81 .2h.01m16.39 0h.01m3.79 0h.01m3.79 0h.01m1.79 0h.01m.99 0h.01m1.39 0h.01m.99 0h.01m-7.41 .2h.01m.19 0h.01m.19 0h.01m11.59 0h.01m9.19 0h.01m-27.21 .2h.01m1.59 0h.01m1.79 0h.01m.39 0h.01m2.39 0h.01m4.19 0h.01m.99 0h.01m1.19 0h.01m.99 0h.01m6.19 0h.01m-22.81 .2h.01m2.79 0h.01m1.59 0h.01m1.59 0h.01m1.19 0h.01m.39 0h.01m2.39 0h.01m.79 0h.01m2.59 0h.01m1.19 0h.01m1.39 0h.01m.59 0h.01m6.19 0h.01m.79 0h.01m-25.01 .2h.01m1.19 0h.01m1.19 0h.01m4.99 0h.01m.59 0h.01m.39 0h.01m.19 0h.01m3.99 0h.01m9.19 0h.01m2.99 0h.01m1.99 0h.01m-42.01 .2h.01m18.79 0h.01m2.19 0h.01m1.19 0h.01m6.19 0h.01m5.59 0h.01m12.99 0h.01m-34.01 .2h.01m4.19 0h.01m3.99 0h.01m.19 0h.01m1.39 0h.01m1.19 0h.01m.59 0h.01m.39 0h.01m.79 0h.01m7.99 0h.01m2.39 0h.01m5.39 0h.01m.19 0h.01m-21.81 .2h.01m6.59 0h.01m1.79 0h.01m6.39 0h.01m1.19 0h.01m.79 0h.01m10.39 0h.01m-32.41 .2h.01m2.39 0h.01m7.79 0h.01m.19 0h.01m6.59 0h.01m.59 0h.01m.79 0h.01m5.39 0h.01m-22.41 .2h.01m10.79 0h.01m.79 0h.01m8.79 0h.01m1.19 0h.01m4.19 0h.01m5.39 0h.01m-29.01 .2h.01m1.19 0h.01m.99 0h.01m.79 0h.01m2.79 0h.01m1.19 0h.01m.39 0h.01m.19 0h.01m1.19 0h.01m3.59 0h.01m.39 0h.01m.79 0h.01m3.59 0h.01m7.19 0h.01m13.79 0h.01m.99 0h.01m5.19 0h.01m-47.61 .2h.01m.39 0h.01m2.19 0h.01m2.19 0h.01m2.59 0h.01m.79 0h.01m1.99 0h.01m4.99 0h.01m1.19 0h.01m5.79 0h.01m7.39 0h.01m-24.41 .2h.01m7.39 0h.01m22.19 0h.01m-39.41 .2h.01m7.39 0h.01m5.79 0h.01m1.39 0h.01m.39 0h.01m4.19 0h.01m.79 0h.01m6.79 0h.01m.19 0h.01m1.79 0h.01m-24.81 .2h.01m1.59 0h.01m13.99 0h.01m1.39 0h.01m.99 0h.01m.19 0h.01m.79 0h.01m4.79 0h.01m-35.61 .2h.01m6.79 0h.01m7.19 0h.01m6.59 0h.01m.99 0h.01m.19 0h.01m3.39 0h.01m4.59 0h.01m8.39 0h.01m-23.41 .2h.01m2.39 0h.01m1.99 0h.01m1.79 0h.01m1.39 0h.01m.99 0h.01m.19 0h.01m1.59 0h.01m3.79 0h.01m.59 0h.01m8.59 0h.01m2.79 0h.01m12.19 0h.01m-52.01 .2h.01m14.19 0h.01m4.59 0h.01m5.19 0h.01m2.99 0h.01m.19 0h.01m1.39 0h.01m.19 0h.01m13.79 0h.01m-31.81 .2h.01m.79 0h.01m5.79 0h.01m2.39 0h.01m2.19 0h.01m.79 0h.01m3.99 0h.01m.99 0h.01m.79 0h.01m.39 0h.01m2.59 0h.01m9.39 0h.01m2.39 0h.01m-28.21 .2h.01m2.39 0h.01m.39 0h.01m3.39 0h.01m.79 0h.01m.19 0h.01m1.19 0h.01m.59 0h.01m2.19 0h.01m9.99 0h.01m5.79 0h.01m-18.21 .2h.01m1.59 0h.01m.79 0h.01m2.19 0h.01m1.99 0h.01m.39 0h.01m.19 0h.01m.79 0h.01m2.99 0h.01m-23.21 .2h.01m4.39 0h.01m1.79 0h.01m.39 0h.01m5.19 0h.01m.99 0h.01m12.59 0h.01m-27.41 .2h.01m9.19 0h.01m2.19 0h.01m.19 0h.01m10.59 0h.01m5.19 0h.01m.79 0h.01m1.39 0h.01m-30.41 .2h.01m3.59 0h.01m1.19 0h.01m.39 0h.01m3.79 0h.01m2.59 0h.01m2.59 0h.01m.59 0h.01m3.19 0h.01m.19 0h.01m.59 0h.01m3.79 0h.01m2.99 0h.01m11.39 0h.01m-42.01 .2h.01m7.99 0h.01m6.99 0h.01m1.39 0h.01m2.79 0h.01m.19 0h.01m.59 0h.01m1.79 0h.01m.19 0h.01m.59 0h.01m.19 0h.01m.59 0h.01m.19 0h.01m2.19 0h.01m1.59 0h.01m3.99 0h.01m.19 0h.01m1.79 0h.01m1.79 0h.01m18.39 0h.01m4.79 0h.01m-48.41 .2h.01m.19 0h.01m2.79 0h.01m4.99 0h.01m1.99 0h.01m6.79 0h.01m.39 0h.01m8.19 0h.01m4.19 0h.01m2.59 0h.01m9.39 0h.01m-50.21 .2h.01m8.39 0h.01m.39 0h.01m6.99 0h.01m.19 0h.01m.19 0h.01m5.99 0h.01m1.39 0h.01m.59 0h.01m3.39 0h.01m.19 0h.01m4.79 0h.01m-32.61 .2h.01m4.59 0h.01m2.19 0h.01m2.39 0h.01m.79 0h.01m2.19 0h.01m.59 0h.01m1.39 0h.01m.79 0h.01m1.19 0h.01m1.79 0h.01m.99 0h.01m.59 0h.01m.39 0h.01m.19 0h.01m.19 0h.01m3.19 0h.01m.19 0h.01m1.39 0h.01m2.59 0h.01m4.19 0h.01m3.19 0h.01m-18.21 .2h.01m.79 0h.01m.79 0h.01m.99 0h.01m.19 0h.01m1.99 0h.01m2.59 0h.01m2.79 0h.01m5.39 0h.01m10.79 0h.01m-33.21 .2h.01m4.39 0h.01m.19 0h.01m.59 0h.01m1.39 0h.01m4.59 0h.01m1.59 0h.01m2.19 0h.01m.59 0h.01m6.59 0h.01m4.59 0h.01m7.19 0h.01m-36.61 .2h.01m4.79 0h.01m2.99 0h.01m.19 0h.01m.99 0h.01m5.59 0h.01m6.39 0h.01m1.59 0h.01m-23.81 .2h.01m1.39 0h.01m1.59 0h.01m2.19 0h.01m.19 0h.01m1.19 0h.01m5.59 0h.01m4.39 0h.01m3.99 0h.01m3.19 0h.01m.59 0h.01m-25.61 .2h.01m7.59 0h.01m.79 0h.01m1.59 0h.01m.99 0h.01m.59 0h.01m.99 0h.01m2.19 0h.01m.99 0h.01m2.99 0h.01m14.59 0h.01m1.19 0h.01m1.59 0h.01m1.39 0h.01m-32.21 .2h.01m.59 0h.01m3.19 0h.01m.99 0h.01m.99 0h.01m.59 0h.01m.39 0h.01m3.99 0h.01m.59 0h.01m.99 0h.01m4.59 0h.01m.79 0h.01m.39 0h.01m1.19 0h.01m.99 0h.01m12.39 0h.01m24.79 0h.01m-59.21 .2h.01m1.79 0h.01m.59 0h.01m3.39 0h.01m3.59 0h.01m.79 0h.01m2.99 0h.01m.19 0h.01m.19 0h.01m.19 0h.01m1.99 0h.01m.59 0h.01m10.39 0h.01m.19 0h.01m8.19 0h.01m-37.61 .2h.01m5.39 0h.01m.19 0h.01m.19 0h.01m1.59 0h.01m.19 0h.01m.59 0h.01m.79 0h.01m.79 0h.01m4.19 0h.01m.19 0h.01m.19 0h.01m1.39 0h.01m2.99 0h.01m.39 0h.01m1.59 0h.01m.39 0h.01m12.79 0h.01m-47.01 .2h.01m12.59 0h.01m10.59 0h.01m1.39 0h.01m.19 0h.01m.59 0h.01m.79 0h.01m.39 0h.01m.19 0h.01m1.59 0h.01m.19 0h.01m2.99 0h.01m.19 0h.01m1.59 0h.01m.59 0h.01m2.79 0h.01m.59 0h.01m5.79 0h.01m6.39 0h.01m1.59 0h.01m7.99 0h.01m-57.01 .2h.01m2.39 0h.01m2.99 0h.01m8.59 0h.01m9.99 0h.01m.19 0h.01m.79 0h.01m1.39 0h.01m1.99 0h.01m1.99 0h.01m2.19 0h.01m.39 0h.01m3.39 0h.01m.79 0h.01m6.19 0h.01m1.39 0h.01m4.59 0h.01m-43.61 .2h.01m1.99 0h.01m3.59 0h.01m4.19 0h.01m.79 0h.01m1.79 0h.01m1.59 0h.01m.99 0h.01m.19 0h.01m3.79 0h.01m2.39 0h.01m3.99 0h.01m1.19 0h.01m.79 0h.01m.19 0h.01m4.79 0h.01m4.99 0h.01m1.59 0h.01m-30.21 .2h.01m2.19 0h.01m1.59 0h.01m1.99 0h.01m.79 0h.01m2.59 0h.01m3.19 0h.01m2.99 0h.01m-29.01 .2h.01m9.79 0h.01m4.59 0h.01m.19 0h.01m1.59 0h.01m1.19 0h.01m.39 0h.01m.19 0h.01m1.19 0h.01m.39 0h.01m.79 0h.01m4.19 0h.01m2.39 0h.01m.39 0h.01m3.19 0h.01m11.39 0h.01m16.19 0h.01m-49.01 .2h.01m1.39 0h.01m.79 0h.01m2.99 0h.01m2.59 0h.01m.39 0h.01m1.79 0h.01m.59 0h.01m4.79 0h.01m.79 0h.01m2.59 0h.01m.99 0h.01m.59 0h.01m.19 0h.01m12.39 0h.01m.99 0h.01m69.19 0h.01m-111.61 .2h.01m11.19 0h.01m.39 0h.01m.39 0h.01m.59 0h.01m.99 0h.01m1.39 0h.01m.99 0h.01m.59 0h.01m.99 0h.01m1.99 0h.01m.79 0h.01m.79 0h.01m2.19 0h.01m2.39 0h.01m1.19 0h.01m14.99 0h.01m2.59 0h.01m2.19 0h.01m2.39 0h.01m-42.41 .2h.01m4.19 0h.01m.19 0h.01m3.39 0h.01m.19 0h.01m1.39 0h.01m5.19 0h.01m1.99 0h.01m1.99 0h.01m1.19 0h.01m.79 0h.01m1.99 0h.01m1.39 0h.01m29.19 0h.01m-66.61 .2h.01m14.79 0h.01m3.19 0h.01m8.19 0h.01m7.39 0h.01m1.19 0h.01m.19 0h.01m.79 0h.01m.99 0h.01m1.79 0h.01m2.19 0h.01m3.99 0h.01m-41.41 .2h.01m18.19 0h.01m2.39 0h.01m.79 0h.01m4.59 0h.01m.59 0h.01m1.39 0h.01m1.59 0h.01m11.59 0h.01m-36.81 .2h.01m11.99 0h.01m1.19 0h.01m4.39 0h.01m9.59 0h.01m2.79 0h.01m1.59 0h.01m1.59 0h.01m4.39 0h.01m1.39 0h.01m7.59 0h.01m40.99 0h.01m-80.21 .2h.01m.79 0h.01m2.99 0h.01m4.79 0h.01m1.59 0h.01m2.59 0h.01m1.39 0h.01m1.79 0h.01m.59 0h.01m1.19 0h.01m1.19 0h.01m.99 0h.01m.19 0h.01m.39 0h.01m25.79 0h.01m-49.41 .2h.01m5.79 0h.01m5.39 0h.01m2.79 0h.01m3.79 0h.01m5.99 0h.01m2.39 0h.01m2.99 0h.01m1.99 0h.01m3.59 0h.01m3.79 0h.01m3.19 0h.01m-53.61 .2h.01m4.59 0h.01m8.39 0h.01m12.39 0h.01m.59 0h.01m.79 0h.01m.39 0h.01m.99 0h.01m.39 0h.01m.19 0h.01m1.39 0h.01m.99 0h.01m6.99 0h.01m3.19 0h.01m3.79 0h.01m2.59 0h.01m.59 0h.01m3.99 0h.01m-37.01 .2h.01m.39 0h.01m14.99 0h.01m.79 0h.01m2.79 0h.01m3.79 0h.01m.39 0h.01m.19 0h.01m2.19 0h.01m4.79 0h.01m.39 0h.01m13.19 0h.01m-60.41 .2h.01m14.39 0h.01m5.59 0h.01m.19 0h.01m2.39 0h.01m.19 0h.01m4.19 0h.01m6.59 0h.01m1.59 0h.01m.19 0h.01m4.59 0h.01m.79 0h.01m.79 0h.01m-30.41 .2h.01m3.79 0h.01m.39 0h.01m.39 0h.01m.39 0h.01m3.39 0h.01m.79 0h.01m3.59 0h.01m.19 0h.01m.39 0h.01m.39 0h.01m.39 0h.01m2.39 0h.01m4.99 0h.01m.79 0h.01m2.19 0h.01m.59 0h.01m.19 0h.01m2.99 0h.01m4.59 0h.01m.39 0h.01m1.19 0h.01m2.39 0h.01m2.19 0h.01m-36.61 .2h.01m5.99 0h.01m.59 0h.01m.59 0h.01m3.99 0h.01m.39 0h.01m.59 0h.01m3.99 0h.01m.59 0h.01m.19 0h.01m1.39 0h.01m2.19 0h.01m.99 0h.01m4.39 0h.01m.19 0h.01m8.39 0h.01m1.59 0h.01m5.79 0h.01m-42.01 .2h.01m7.39 0h.01m.19 0h.01m1.99 0h.01m1.59 0h.01m.79 0h.01m.59 0h.01m.19 0h.01m2.99 0h.01m3.59 0h.01m.99 0h.01m.59 0h.01m1.59 0h.01m.79 0h.01m1.19 0h.01m.59 0h.01m.19 0h.01m.19 0h.01m.19 0h.01m.39 0h.01m12.59 0h.01m-43.21 .2h.01m2.39 0h.01m1.59 0h.01m2.19 0h.01m3.39 0h.01m.59 0h.01m1.19 0h.01m.19 0h.01m2.99 0h.01m.79 0h.01m.39 0h.01m.59 0h.01m1.39 0h.01m1.39 0h.01m3.79 0h.01m.79 0h.01m2.79 0h.01m.99 0h.01m8.39 0h.01m5.19 0h.01m5.79 0h.01m10.79 0h.01m-45.81 .2h.01m.59 0h.01m.59 0h.01m9.59 0h.01m5.39 0h.01m.79 0h.01m.39 0h.01m.79 0h.01m.79 0h.01m.99 0h.01m1.79 0h.01m.59 0h.01m.39 0h.01m6.99 0h.01m-50.41 .2h.01m13.19 0h.01m2.59 0h.01m.19 0h.01m4.19 0h.01m1.39 0h.01m1.19 0h.01m.79 0h.01m1.19 0h.01m.39 0h.01m1.39 0h.01m2.39 0h.01m1.79 0h.01m.19 0h.01m4.79 0h.01m.19 0h.01m6.39 0h.01m4.79 0h.01m11.19 0h.01m-41.41 .2h.01m.99 0h.01m2.79 0h.01m.59 0h.01m.19 0h.01m2.19 0h.01m1.19 0h.01m.99 0h.01m1.39 0h.01m.19 0h.01m1.39 0h.01m3.79 0h.01m1.59 0h.01m3.79 0h.01m.59 0h.01m.39 0h.01m1.59 0h.01m1.39 0h.01m-40.01 .2h.01m11.19 0h.01m1.79 0h.01m1.59 0h.01m3.79 0h.01m2.19 0h.01m5.19 0h.01m.19 0h.01m1.99 0h.01m1.59 0h.01m.39 0h.01m.59 0h.01m1.59 0h.01m3.19 0h.01m1.59 0h.01m5.39 0h.01m-38.81 .2h.01m4.19 0h.01m2.79 0h.01m3.19 0h.01m.59 0h.01m5.59 0h.01m.39 0h.01m.59 0h.01m1.19 0h.01m.19 0h.01m1.19 0h.01m.99 0h.01m.19 0h.01m.19 0h.01m1.99 0h.01m.39 0h.01m.39 0h.01m.19 0h.01m1.79 0h.01m2.99 0h.01m1.59 0h.01m.39 0h.01m2.19 0h.01m.19 0h.01m.59 0h.01m7.79 0h.01m2.39 0h.01m4.99 0h.01m7.59 0h.01m-48.21 .2h.01m15.39 0h.01m3.99 0h.01m1.59 0h.01m7.79 0h.01m22.79 0h.01m12.59 0h.01m-74.61 .2h.01m8.39 0h.01m5.19 0h.01m.19 0h.01m.19 0h.01m1.59 0h.01m5.79 0h.01m.79 0h.01m1.19 0h.01m2.19 0h.01m3.79 0h.01m5.79 0h.01m.99 0h.01m4.39 0h.01m16.79 0h.01m.19 0h.01m-47.41 .2h.01m2.19 0h.01m.59 0h.01m2.39 0h.01m.39 0h.01m.39 0h.01m2.99 0h.01m1.59 0h.01m.59 0h.01m.39 0h.01m.39 0h.01m.59 0h.01m.59 0h.01m.99 0h.01m.19 0h.01m11.19 0h.01m1.39 0h.01m.19 0h.01m4.39 0h.01m2.59 0h.01m5.39 0h.01m-50.01 .2h.01m13.79 0h.01m.39 0h.01m.79 0h.01m2.39 0h.01m5.59 0h.01m2.59 0h.01m.19 0h.01m1.39 0h.01m.99 0h.01m.19 0h.01m.99 0h.01m1.79 0h.01m.99 0h.01m.99 0h.01m.19 0h.01m.99 0h.01m.39 0h.01m3.79 0h.01m1.39 0h.01m.59 0h.01m1.19 0h.01m-34.01 .2h.01m1.19 0h.01m1.99 0h.01m1.19 0h.01m1.99 0h.01m.79 0h.01m.59 0h.01m1.19 0h.01m.19 0h.01m3.19 0h.01m2.19 0h.01m1.39 0h.01m1.39 0h.01m.19 0h.01m.99 0h.01m4.39 0h.01m1.39 0h.01m9.79 0h.01m10.39 0h.01m-53.41 .2h.01m1.19 0h.01m8.19 0h.01m2.59 0h.01m1.59 0h.01m1.99 0h.01m.59 0h.01m.39 0h.01m.99 0h.01m.79 0h.01m4.19 0h.01m.99 0h.01m.19 0h.01m2.19 0h.01m1.59 0h.01m.39 0h.01m3.19 0h.01m.19 0h.01m.39 0h.01m3.19 0h.01m2.19 0h.01m3.39 0h.01m2.19 0h.01m12.19 0h.01m-57.01 .2h.01m9.59 0h.01m9.99 0h.01m2.19 0h.01m1.79 0h.01m1.79 0h.01m2.99 0h.01m.79 0h.01m4.79 0h.01m3.79 0h.01m.99 0h.01m3.59 0h.01m3.59 0h.01m-30.21 .2h.01m.39 0h.01m.99 0h.01m1.19 0h.01m3.39 0h.01m.39 0h.01m.39 0h.01m.99 0h.01m.19 0h.01m.39 0h.01m.79 0h.01m1.39 0h.01m1.39 0h.01m.99 0h.01m.59 0h.01m.59 0h.01m7.19 0h.01m1.59 0h.01m1.59 0h.01m4.99 0h.01m3.39 0h.01m-48.61 .2h.01m.99 0h.01m3.99 0h.01m6.79 0h.01m1.99 0h.01m4.39 0h.01m.59 0h.01m.19 0h.01m3.59 0h.01m1.19 0h.01m.59 0h.01m1.19 0h.01m.79 0h.01m1.59 0h.01m1.79 0h.01m4.19 0h.01m.19 0h.01m.99 0h.01m.59 0h.01m5.99 0h.01m6.59 0h.01m8.39 0h.01m-56.41 .2h.01m10.19 0h.01m2.39 0h.01m.79 0h.01m6.99 0h.01m2.79 0h.01m2.79 0h.01m.99 0h.01m.99 0h.01m.59 0h.01m.39 0h.01m.59 0h.01m2.79 0h.01m.19 0h.01m.19 0h.01m.59 0h.01m.19 0h.01m3.59 0h.01m1.19 0h.01m1.79 0h.01m.39 0h.01m4.79 0h.01m1.79 0h.01m4.39 0h.01m-50.01 .2h.01m7.99 0h.01m.59 0h.01m2.19 0h.01m.19 0h.01m.19 0h.01m1.39 0h.01m.99 0h.01m1.19 0h.01m.19 0h.01m1.19 0h.01m.79 0h.01m3.39 0h.01m.59 0h.01m1.99 0h.01m.79 0h.01m.19 0h.01m.19 0h.01m.19 0h.01m.59 0h.01m1.99 0h.01m1.39 0h.01m4.39 0h.01m.79 0h.01m8.39 0h.01m1.39 0h.01m5.19 0h.01m78.59 0h.01m-121.81 .2h.01m4.79 0h.01m3.19 0h.01m2.59 0h.01m2.19 0h.01m2.19 0h.01m.79 0h.01m.79 0h.01m.39 0h.01m.19 0h.01m4.99 0h.01m.39 0h.01m.39 0h.01m.59 0h.01m.39 0h.01m.59 0h.01m.39 0h.01m.59 0h.01m1.39 0h.01m4.99 0h.01m.59 0h.01m2.19 0h.01m1.59 0h.01m.99 0h.01m5.39 0h.01m12.19 0h.01m10.79 0h.01m-73.61 .2h.01m2.19 0h.01m11.39 0h.01m1.39 0h.01m1.99 0h.01m.79 0h.01m3.19 0h.01m.59 0h.01m.79 0h.01m3.59 0h.01m.19 0h.01m.79 0h.01m.79 0h.01m.39 0h.01m2.39 0h.01m2.59 0h.01m4.19 0h.01m2.19 0h.01m27.19 0h.01m-65.41 .2h.01m3.39 0h.01m5.59 0h.01m5.39 0h.01m1.19 0h.01m1.39 0h.01m5.19 0h.01m.79 0h.01m1.59 0h.01m1.79 0h.01m.79 0h.01m.39 0h.01m.99 0h.01m.39 0h.01m.19 0h.01m.19 0h.01m1.79 0h.01m.39 0h.01m2.99 0h.01m2.39 0h.01m3.59 0h.01m1.99 0h.01m.59 0h.01m.79 0h.01m.99 0h.01m.39 0h.01m23.59 0h.01m-71.01 .2h.01m9.79 0h.01m3.79 0h.01m.39 0h.01m3.39 0h.01m.39 0h.01m.39 0h.01m1.39 0h.01m1.59 0h.01m.59 0h.01m1.39 0h.01m1.99 0h.01m.39 0h.01m1.99 0h.01m.79 0h.01m1.39 0h.01m.99 0h.01m1.79 0h.01m.79 0h.01m3.59 0h.01m2.79 0h.01m.19 0h.01m2.59 0h.01m3.19 0h.01m3.59 0h.01m.59 0h.01m1.19 0h.01m9.99 0h.01m-62.01 .2h.01m16.19 0h.01m.59 0h.01m.99 0h.01m.79 0h.01m.79 0h.01m.59 0h.01m.59 0h.01m1.19 0h.01m.59 0h.01m.59 0h.01m1.39 0h.01m2.19 0h.01m.99 0h.01m.99 0h.01m2.99 0h.01m.79 0h.01m3.59 0h.01m1.39 0h.01m.99 0h.01m.79 0h.01m4.39 0h.01m3.99 0h.01m2.79 0h.01m.59 0h.01m2.79 0h.01m12.79 0h.01m-64.01 .2h.01m18.79 0h.01m.19 0h.01m.79 0h.01m1.79 0h.01m.19 0h.01m.59 0h.01m.59 0h.01m.39 0h.01m1.19 0h.01m.19 0h.01m.79 0h.01m.59 0h.01m1.79 0h.01m1.79 0h.01m1.59 0h.01m.59 0h.01m1.79 0h.01m1.59 0h.01m.99 0h.01m.59 0h.01m.19 0h.01m1.59 0h.01m5.39 0h.01m4.79 0h.01m.59 0h.01m9.39 0h.01m12.19 0h.01m14.59 0h.01m-82.41 .2h.01m1.99 0h.01m10.99 0h.01m1.19 0h.01m1.79 0h.01m.79 0h.01m.19 0h.01m.19 0h.01m.19 0h.01m1.99 0h.01m.99 0h.01m1.59 0h.01m.99 0h.01m1.39 0h.01m2.19 0h.01m3.19 0h.01m.19 0h.01m.79 0h.01m.39 0h.01m3.99 0h.01m3.19 0h.01m.39 0h.01m5.39 0h.01m5.99 0h.01m8.19 0h.01m1.19 0h.01m5.99 0h.01m-58.21 .2h.01m1.79 0h.01m2.19 0h.01m5.99 0h.01m.39 0h.01m.99 0h.01m.19 0h.01m1.39 0h.01m.39 0h.01m2.79 0h.01m2.39 0h.01m.99 0h.01m.19 0h.01m.79 0h.01m.99 0h.01m.59 0h.01m1.79 0h.01m1.79 0h.01m.59 0h.01m.19 0h.01m1.39 0h.01m5.99 0h.01m3.19 0h.01m12.99 0h.01m6.99 0h.01m7.79 0h.01m-76.81 .2h.01m15.19 0h.01m.19 0h.01m1.19 0h.01m3.39 0h.01m.39 0h.01m.39 0h.01m.59 0h.01m.39 0h.01m.19 0h.01m2.79 0h.01m4.19 0h.01m.59 0h.01m.59 0h.01m8.59 0h.01m1.39 0h.01m.79 0h.01m.79 0h.01m7.59 0h.01m1.19 0h.01m2.59 0h.01m11.79 0h.01m-57.41 .2h.01m6.99 0h.01m.99 0h.01m.39 0h.01m2.39 0h.01m1.79 0h.01m4.59 0h.01m.59 0h.01m1.99 0h.01m1.79 0h.01m.39 0h.01m1.59 0h.01m.39 0h.01m.39 0h.01m.59 0h.01m2.19 0h.01m2.59 0h.01m3.99 0h.01m.99 0h.01m1.99 0h.01m2.19 0h.01m-35.21 .2h.01m.59 0h.01m.99 0h.01m.59 0h.01m.59 0h.01m4.59 0h.01m2.59 0h.01m1.79 0h.01m3.59 0h.01m3.39 0h.01m1.19 0h.01m2.59 0h.01m3.19 0h.01m1.19 0h.01m.19 0h.01m7.99 0h.01m2.79 0h.01m2.59 0h.01m1.59 0h.01m2.59 0h.01m11.59 0h.01m-65.81 .2h.01m9.79 0h.01m.39 0h.01m6.39 0h.01m1.39 0h.01m.79 0h.01m.19 0h.01m2.99 0h.01m1.19 0h.01m2.19 0h.01m.39 0h.01m.79 0h.01m.19 0h.01m.19 0h.01m1.59 0h.01m6.59 0h.01m.59 0h.01m1.79 0h.01m1.19 0h.01m1.99 0h.01m.59 0h.01m18.99 0h.01m18.19 0h.01m-72.81 .2h.01m3.19 0h.01m4.19 0h.01m.59 0h.01m6.19 0h.01m.79 0h.01m4.39 0h.01m.79 0h.01m1.19 0h.01m1.99 0h.01m4.79 0h.01m.19 0h.01m.39 0h.01m.59 0h.01m3.19 0h.01m2.79 0h.01m2.99 0h.01m1.39 0h.01m5.39 0h.01m4.19 0h.01m-54.01 .2h.01m1.39 0h.01m7.39 0h.01m.79 0h.01m1.19 0h.01m1.59 0h.01m.39 0h.01m3.19 0h.01m1.59 0h.01m2.39 0h.01m1.59 0h.01m2.79 0h.01m2.79 0h.01m.79 0h.01m1.39 0h.01m.19 0h.01m.99 0h.01m3.79 0h.01m.39 0h.01m.59 0h.01m1.39 0h.01m1.79 0h.01m.39 0h.01m.19 0h.01m2.59 0h.01m5.99 0h.01m4.79 0h.01m24.79 0h.01m-71.61 .2h.01m3.39 0h.01m.79 0h.01m1.79 0h.01m4.99 0h.01m3.39 0h.01m1.39 0h.01m.39 0h.01m1.99 0h.01m.19 0h.01m.59 0h.01m8.39 0h.01m3.59 0h.01m.79 0h.01m.59 0h.01m6.59 0h.01m5.99 0h.01m42.39 0h.01m42.79 0h.01m-138.81 .2h.01m4.39 0h.01m7.99 0h.01m6.79 0h.01m.99 0h.01m4.39 0h.01m.19 0h.01m.99 0h.01m.19 0h.01m.39 0h.01m.39 0h.01m.39 0h.01m2.39 0h.01m.79 0h.01m2.39 0h.01m.19 0h.01m1.99 0h.01m.39 0h.01m.99 0h.01m5.79 0h.01m3.39 0h.01m2.39 0h.01m1.59 0h.01m19.59 0h.01m14.19 0h.01m-80.01 .2h.01m2.19 0h.01m6.99 0h.01m2.39 0h.01m1.39 0h.01m.39 0h.01m1.39 0h.01m10.39 0h.01m1.99 0h.01m.39 0h.01m2.99 0h.01m.99 0h.01m1.99 0h.01m3.79 0h.01m3.79 0h.01m8.19 0h.01m1.19 0h.01m.79 0h.01m1.39 0h.01m6.79 0h.01m11.39 0h.01m4.79 0h.01m9.19 0h.01m5.79 0h.01m-94.01 .2h.01m1.79 0h.01m11.39 0h.01m1.79 0h.01m1.79 0h.01m1.19 0h.01m.39 0h.01m.19 0h.01m1.39 0h.01m.79 0h.01m2.99 0h.01m.19 0h.01m.39 0h.01m1.19 0h.01m3.19 0h.01m7.19 0h.01m.59 0h.01m2.19 0h.01m.79 0h.01m4.59 0h.01m22.39 0h.01m17.19 0h.01m55.59 0h.01m-122.81 .2h.01m.59 0h.01m4.19 0h.01m.79 0h.01m.99 0h.01m.59 0h.01m1.59 0h.01m1.39 0h.01m.79 0h.01m4.39 0h.01m1.19 0h.01m2.59 0h.01m.59 0h.01m3.59 0h.01m1.19 0h.01m.19 0h.01m1.99 0h.01m1.39 0h.01m4.99 0h.01m11.79 0h.01m7.79 0h.01m13.79 0h.01m-71.41 .2h.01m2.59 0h.01m6.99 0h.01m.79 0h.01m3.59 0h.01m3.59 0h.01m2.59 0h.01m.19 0h.01m1.39 0h.01m2.19 0h.01m3.79 0h.01m.59 0h.01m2.39 0h.01m1.79 0h.01m.19 0h.01m.79 0h.01m.19 0h.01m.59 0h.01m13.19 0h.01m6.19 0h.01m9.59 0h.01m.39 0h.01m18.39 0h.01m1.39 0h.01m13.59 0h.01m-108.81 .2h.01m4.99 0h.01m10.99 0h.01m.59 0h.01m5.39 0h.01m.59 0h.01m5.39 0h.01m1.19 0h.01m5.39 0h.01m3.99 0h.01m.59 0h.01m.79 0h.01m.59 0h.01m.39 0h.01m5.79 0h.01m.99 0h.01m10.59 0h.01m53.19 0h.01m-98.21 .2h.01m4.59 0h.01m2.19 0h.01m2.19 0h.01m1.39 0h.01m3.39 0h.01m.19 0h.01m5.19 0h.01m2.79 0h.01m9.79 0h.01m7.19 0h.01m2.39 0h.01m1.39 0h.01m.99 0h.01m.79 0h.01m11.39 0h.01m3.79 0h.01m.59 0h.01m2.39 0h.01m5.99 0h.01m39.19 0h.01m38.99 0h.01m-145.01 .2h.01m4.19 0h.01m1.79 0h.01m1.19 0h.01m3.39 0h.01m.39 0h.01m.79 0h.01m4.19 0h.01m1.79 0h.01m1.59 0h.01m.79 0h.01m2.19 0h.01m.99 0h.01m24.39 0h.01m10.59 0h.01m15.99 0h.01m25.59 0h.01m-112.81 .2h.01m10.99 0h.01m6.19 0h.01m.59 0h.01m6.79 0h.01m1.99 0h.01m4.59 0h.01m2.79 0h.01m2.19 0h.01m6.39 0h.01m.79 0h.01m52.79 0h.01m-90.21 .2h.01m2.39 0h.01m2.59 0h.01m1.59 0h.01m2.59 0h.01m.79 0h.01m13.39 0h.01m7.39 0h.01m4.59 0h.01m1.99 0h.01m6.79 0h.01m2.59 0h.01m17.99 0h.01m31.19 0h.01"/><path class="rl" d="M47.5 300.41L163.44 319.5"/><path class="ax" d="M47.5 202V320.1M46.9 319.5H223.1"/><path class="tk" d="M44.2 319.5H47.5M44.2 280.53H47.5M44.2 241.57H47.5M44.2 202.6H47.5M47.5 319.5V323M91.25 319.5V323M135 319.5V323M178.75 319.5V323M222.5 319.5V323"/><text class="tl" text-anchor="end" transform="translate(42.5 322.65) scale(1.19 1)">0</text><text class="tl" text-anchor="end" transform="translate(42.5 283.68) scale(1.19 1)">10</text><text class="tl" text-anchor="end" transform="translate(42.5 244.72) scale(1.19 1)">20</text><text class="tl" text-anchor="end" transform="translate(42.5 205.75) scale(1.19 1)">30</text><text class="tl" text-anchor="middle" transform="translate(47.7 334.95) scale(1.19 1)">0</text><text class="tl" text-anchor="middle" transform="translate(91.45 334.95) scale(1.19 1)">10</text><text class="tl" text-anchor="middle" transform="translate(135.2 334.95) scale(1.19 1)">20</text><text class="tl" text-anchor="middle" transform="translate(178.95 334.95) scale(1.19 1)">30</text><text class="tl" text-anchor="middle" transform="translate(222.7 334.95) scale(1.19 1)">40</text><text class="ti" text-anchor="middle" transform="translate(135.3 350.5) scale(1.23 1)">FSH (IU/L)</text><text class="ti" text-anchor="middle" transform="translate(22.5 258.55) rotate(-90) scale(1.23 1)">AMH (ng/ml)</text><text class="an" transform="translate(145.5 222.3) scale(1.2 1)">P = 0.000</text><text class="an" transform="translate(145.5 235.7) scale(1.2 1)">R = -0.310</text><text class="st" transform="translate(190.6 221.6)">*</text></g>
<g><path class="pt" d="M349.8 229.8h.01m-28.01 .8h.01m108.59 0h.01m1.79 11.8h.01m-49.41 6h.01m-25.01 .2h.01m35.79 .8h.01m39.39 .4h.01m-84.41 .8h.01m38.79 .6h.01m-53.61 1h.01m44.19 1.8h.01m-9.01 .4h.01m72.19 2.2h.01m-145.41 3h.01m98.99 0h.01m-22.01 1.2h.01m-22.21 .2h.01m-40.81 .2h.01m126.99 1.4h.01m-29.01 .4h.01m-92.81 1h.01m9.59 0h.01m59.19 1.8h.01m18.39 .2h.01m-68.81 .8h.01m62.59 .6h.01m-60.21 .8h.01m57.79 .2h.01m19.19 0h.01m-103.61 .2h.01m52.59 0h.01m64.39 .2h.01m-86.01 .8h.01m4.59 0h.01m-37.81 .2h.01m125.79 0h.01m-102.21 .8h.01m47.59 0h.01m-53.81 .2h.01m-10.61 .2h.01m45.59 .2h.01m13.39 .4h.01m-26.41 .2h.01m40.59 .2h.01m21.79 .6h.01m1.99 0h.01m-100.61 .2h.01m52.19 0h.01m29.79 0h.01m-46.41 .2h.01m1.79 0h.01m6.19 0h.01m20.19 0h.01m5.79 0h.01m-91.01 .8h.01m22.39 0h.01m41.99 0h.01m39.19 0h.01m-60.61 .2h.01m-14.41 .2h.01m8.39 .2h.01m18.19 0h.01m87.59 0h.01m-65.81 .2h.01m45.39 0h.01m30.19 0h.01m-117.81 .2h.01m30.99 0h.01m-25.61 .6h.01m8.39 0h.01m22.39 0h.01m-11.81 .6h.01m-25.01 .2h.01m124.59 0h.01m-116.01 1h.01m73.39 0h.01m41.99 0h.01m-101.81 .2h.01m-13.21 .2h.01m20.39 0h.01m-61.61 .4h.01m34.19 0h.01m16.59 0h.01m-4.41 .4h.01m101.59 0h.01m-112.21 .2h.01m21.59 0h.01m87.19 0h.01m-107.41 .2h.01m85.39 0h.01m-66.41 .2h.01m46.79 0h.01m-57.21 .4h.01m29.39 0h.01m-6.81 .2h.01m.99 .2h.01m-22.01 .4h.01m37.59 0h.01m48.19 0h.01m-125.41 .2h.01m44.79 0h.01m-49.81 .2h.01m58.99 .2h.01m47.59 0h.01m10.39 .2h.01m-110.61 .2h.01m8.99 0h.01m13.99 .2h.01m43.39 0h.01m14.39 .2h.01m-60.61 .2h.01m27.79 .2h.01m-23.41 .2h.01m-1.21 .4h.01m22.79 0h.01m17.99 0h.01m-55.01 .4h.01m7.59 0h.01m.59 0h.01m37.79 0h.01m-53.41 .2h.01m8.79 .2h.01m-13.81 .2h.01m30.99 0h.01m88.79 0h.01m-31.21 .2h.01m-63.81 .2h.01m1.19 0h.01m69.99 0h.01m2.99 0h.01m-26.61 .2h.01m26.19 0h.01m-89.01 .2h.01m.59 0h.01m60.99 0h.01m-5.81 .2h.01m10.79 0h.01m-70.21 .4h.01m13.79 0h.01m27.59 0h.01m-30.01 .2h.01m10.59 .2h.01m36.99 0h.01m61.99 0h.01m-116.21 .2h.01m77.79 0h.01m-10.01 .2h.01m-30.01 .2h.01m-45.41 .2h.01m51.99 0h.01m70.39 0h.01m-126.61 .4h.01m1.79 0h.01m18.39 0h.01m38.39 .2h.01m-17.41 .2h.01m63.99 0h.01m1.99 .2h.01m-102.21 .2h.01m2.39 0h.01m38.79 0h.01m20.59 0h.01m-49.61 .2h.01m10.59 0h.01m15.59 0h.01m-37.01 .2h.01m1.79 0h.01m16.39 0h.01m24.99 0h.01m12.19 0h.01m-61.01 .2h.01m27.59 0h.01m5.19 0h.01m2.39 0h.01m35.19 0h.01m-56.21 .2h.01m1.99 0h.01m13.39 0h.01m4.19 0h.01m49.39 0h.01m48.79 0h.01m-120.01 .2h.01m1.39 0h.01m39.79 0h.01m12.99 0h.01m-49.81 .2h.01m13.39 0h.01m3.19 0h.01m1.59 0h.01m44.79 0h.01m18.59 0h.01m13.59 0h.01m-95.01 .2h.01m94.99 0h.01m-99.41 .2h.01m27.79 0h.01m-40.61 .2h.01m33.39 0h.01m57.99 0h.01m3.99 0h.01m-90.61 .2h.01m5.39 0h.01m8.59 0h.01m116.79 0h.01m-132.81 .2h.01m5.79 0h.01m20.19 0h.01m46.79 0h.01m-13.81 .2h.01m-34.01 .2h.01m16.39 0h.01m1.79 0h.01m21.19 0h.01m5.59 0h.01m-50.21 .2h.01m4.19 0h.01m-32.01 .2h.01m17.59 0h.01m16.79 0h.01m.59 0h.01m40.59 0h.01m52.99 0h.01m-93.61 .2h.01m9.99 0h.01m-18.81 .2h.01m-9.61 .2h.01m-.61 .2h.01m43.99 0h.01m.99 0h.01m-62.41 .2h.01m62.79 0h.01m1.59 0h.01m87.39 0h.01m-140.01 .2h.01m7.39 0h.01m13.59 0h.01m4.99 0h.01m21.59 0h.01m49.59 0h.01m-66.61 .2h.01m6.39 0h.01m-38.01 .2h.01m14.59 0h.01m12.39 0h.01m8.79 0h.01m15.79 0h.01m31.99 0h.01m-81.41 .2h.01m8.79 0h.01m6.99 0h.01m60.99 0h.01m-61.01 .2h.01m13.19 0h.01m-32.61 .2h.01m31.99 0h.01m17.19 0h.01m2.99 0h.01m29.59 0h.01m-82.01 .2h.01m7.99 0h.01m5.39 0h.01m13.19 0h.01m17.39 0h.01m15.19 0h.01m53.79 0h.01m-111.81 .2h.01m16.39 0h.01m.19 0h.01m36.39 0h.01m7.79 0h.01m-66.81 .2h.01m6.79 0h.01m.99 0h.01m5.19 0h.01m22.39 .2h.01m.79 0h.01m27.99 0h.01m-40.21 .2h.01m46.59 0h.01m39.79 0h.01m-90.01 .2h.01m.59 0h.01m18.79 0h.01m6.59 0h.01m98.59 0h.01m-146.01 .2h.01m15.59 0h.01m31.19 0h.01m7.19 0h.01m-57.61 .2h.01m30.39 0h.01m1.19 0h.01m38.19 0h.01m74.19 0h.01m-149.61 .2h.01m14.59 0h.01m13.39 0h.01m2.99 0h.01m37.99 0h.01m-66.81 .2h.01m13.39 0h.01m1.39 0h.01m11.39 0h.01m1.79 0h.01m.99 0h.01m1.39 0h.01m1.79 0h.01m38.79 0h.01m16.39 0h.01m54.59 0h.01m-98.41 .2h.01m19.39 0h.01m-57.41 .2h.01m14.39 0h.01m11.79 0h.01m2.79 0h.01m5.79 0h.01m91.79 0h.01m-100.21 .2h.01m3.59 0h.01m7.59 0h.01m40.59 0h.01m-60.81 .2h.01m5.79 0h.01m1.99 0h.01m9.59 0h.01m12.79 0h.01m8.59 0h.01m78.79 0h.01m-115.41 .2h.01m2.19 0h.01m5.19 0h.01m10.19 0h.01m46.19 0h.01m-64.41 .2h.01m9.19 0h.01m2.99 0h.01m3.79 0h.01m6.19 0h.01m1.19 0h.01m.39 0h.01m5.99 0h.01m-45.21 .2h.01m24.79 0h.01m42.79 0h.01m54.79 0h.01m-137.41 .2h.01m32.79 0h.01m12.99 0h.01m12.19 0h.01m2.79 0h.01m43.39 0h.01m-99.41 .2h.01m29.59 0h.01m.39 0h.01m98.79 0h.01m-107.81 .2h.01m27.59 0h.01m4.39 0h.01m34.99 0h.01m1.99 0h.01m-89.41 .2h.01m17.79 0h.01m.59 0h.01m14.79 0h.01m.79 0h.01m57.39 0h.01m11.59 0h.01m13.19 0h.01m-105.01 .2h.01m19.19 0h.01m5.99 0h.01m23.99 0h.01m78.99 0h.01m-113.61 .2h.01m.79 0h.01m5.19 0h.01m6.19 0h.01m-18.01 .2h.01m35.79 0h.01m5.19 0h.01m10.59 0h.01m4.99 0h.01m14.79 0h.01m21.39 0h.01m-93.21 .2h.01m5.19 0h.01m3.19 0h.01m1.39 0h.01m-1.21 .2h.01m32.99 0h.01m22.19 0h.01m60.79 0h.01m-117.81 .2h.01m10.19 0h.01m.79 0h.01m23.39 0h.01m16.39 0h.01m68.99 0h.01m-143.01 .2h.01m2.19 0h.01m12.59 0h.01m.19 0h.01m7.59 0h.01m2.39 0h.01m25.59 0h.01m14.59 0h.01m-45.01 .2h.01m8.39 0h.01m.39 0h.01m9.19 0h.01m16.39 0h.01m5.19 0h.01m28.19 0h.01m-68.81 .2h.01m21.99 0h.01m5.39 0h.01m96.19 0h.01m-137.01 .2h.01m5.99 0h.01m5.19 0h.01m2.19 0h.01m4.19 0h.01m1.39 0h.01m.59 0h.01m24.59 0h.01m2.59 0h.01m4.99 0h.01m-25.81 .2h.01m1.99 0h.01m18.59 0h.01m16.79 0h.01m15.19 0h.01m36.99 0h.01m-119.01 .2h.01m4.59 0h.01m7.39 0h.01m4.99 0h.01m5.59 0h.01m12.39 0h.01m21.99 0h.01m63.39 0h.01m9.59 0h.01m-121.01 .2h.01m1.19 0h.01m11.19 0h.01m16.99 0h.01m1.99 0h.01m14.79 0h.01m4.99 0h.01m97.99 0h.01m-168.01 .2h.01m18.39 0h.01m6.59 0h.01m.59 0h.01m7.99 0h.01m6.79 0h.01m7.79 0h.01m18.59 0h.01m33.39 0h.01m-80.41 .2h.01m.59 0h.01m6.99 0h.01m5.99 0h.01m4.99 0h.01m18.39 0h.01m14.79 0h.01m-57.01 .2h.01m1.19 0h.01m.59 0h.01m5.59 0h.01m10.19 0h.01m29.79 0h.01m3.79 0h.01m6.39 0h.01m28.99 0h.01m-88.21 .2h.01m5.19 0h.01m9.19 0h.01m9.39 0h.01m2.59 0h.01m12.59 0h.01m.79 0h.01m-46.01 .2h.01m14.79 0h.01m3.79 0h.01m5.59 0h.01m4.19 0h.01m8.99 0h.01m1.59 0h.01m7.59 0h.01m45.39 0h.01m-85.01 .2h.01m6.39 0h.01m5.59 0h.01m6.39 0h.01m.79 0h.01m4.39 0h.01m5.59 0h.01m3.79 0h.01m5.39 0h.01m12.99 0h.01m12.39 0h.01m-63.81 .2h.01m1.59 0h.01m14.99 0h.01m14.99 0h.01m.39 0h.01m3.39 0h.01m8.79 0h.01m35.79 0h.01m39.39 0h.01m25.79 0h.01m-149.81 .2h.01m6.19 0h.01m.19 0h.01m10.59 0h.01m2.59 0h.01m3.39 0h.01m1.59 0h.01m1.19 0h.01m2.79 0h.01m13.59 0h.01m2.59 0h.01m5.59 0h.01m54.99 0h.01m15.59 0h.01m-114.81 .2h.01m1.19 0h.01m2.59 0h.01m1.79 0h.01m3.79 0h.01m14.39 0h.01m4.99 0h.01m6.59 0h.01m1.19 0h.01m2.19 0h.01m1.99 0h.01m.59 0h.01m14.59 0h.01m-64.61 .2h.01m15.79 0h.01m4.19 0h.01m.99 0h.01m2.79 0h.01m11.99 0h.01m3.79 0h.01m14.59 0h.01m78.59 0h.01m7.99 0h.01m-126.81 .2h.01m.19 0h.01m1.59 0h.01m1.19 0h.01m1.79 0h.01m4.79 0h.01m9.59 0h.01m2.19 0h.01m3.99 0h.01m38.39 0h.01m-70.41 .2h.01m9.39 0h.01m11.19 0h.01m10.39 0h.01m40.39 0h.01m12.99 0h.01m33.19 0h.01m-117.01 .2h.01m2.19 0h.01m2.99 0h.01m4.19 0h.01m1.19 0h.01m3.79 0h.01m10.79 0h.01m1.59 0h.01m.39 0h.01m6.79 0h.01m4.79 0h.01m56.99 0h.01m6.19 0h.01m-96.61 .2h.01m18.59 0h.01m14.79 0h.01m9.39 0h.01m54.99 0h.01m-118.61 .2h.01m16.99 0h.01m14.19 0h.01m3.59 0h.01m15.79 0h.01m25.59 0h.01m8.59 0h.01m49.19 0h.01m-113.81 .2h.01m4.59 0h.01m4.99 0h.01m10.19 0h.01m2.99 0h.01m.39 0h.01m11.39 0h.01m8.19 0h.01m2.99 0h.01m2.59 0h.01m-37.61 .2h.01m10.59 0h.01m3.19 0h.01m11.79 0h.01m60.59 0h.01m-103.21 .2h.01m8.19 0h.01m8.19 0h.01m2.99 0h.01m4.19 0h.01m.39 0h.01m3.19 0h.01m5.79 0h.01m1.59 0h.01m5.79 0h.01m23.79 0h.01m24.39 0h.01m37.59 0h.01m-127.81 .2h.01m1.19 0h.01m3.39 0h.01m3.79 0h.01m7.79 0h.01m1.59 0h.01m5.19 0h.01m12.39 0h.01m2.59 0h.01m.19 0h.01m.59 0h.01m4.79 0h.01m8.19 0h.01m6.99 0h.01m3.99 0h.01m17.79 0h.01m18.19 0h.01m6.99 0h.01m3.39 0h.01m-119.01 .2h.01m8.79 0h.01m2.59 0h.01m4.59 0h.01m1.79 0h.01m.59 0h.01m3.79 0h.01m1.79 0h.01m10.79 0h.01m3.59 0h.01m5.59 0h.01m.19 0h.01m.99 0h.01m6.39 0h.01m5.59 0h.01m5.39 0h.01m33.79 0h.01m16.99 0h.01m3.19 0h.01m8.59 0h.01m-115.81 .2h.01m4.19 0h.01m.99 0h.01m11.39 0h.01m9.39 0h.01m2.99 0h.01m2.59 0h.01m14.19 0h.01m53.79 0h.01m-108.41 .2h.01m18.99 0h.01m5.39 0h.01m.99 0h.01m9.99 0h.01m.99 0h.01m.79 0h.01m9.59 0h.01m11.39 0h.01m-45.81 .2h.01m2.59 0h.01m5.99 0h.01m.39 0h.01m3.99 0h.01m30.39 0h.01m91.39 0h.01m-145.41 .2h.01m8.79 0h.01m4.39 0h.01m2.39 0h.01m3.59 0h.01m.39 0h.01m.19 0h.01m2.39 0h.01m26.99 0h.01m2.19 0h.01m4.79 0h.01m19.19 0h.01m3.59 0h.01m15.79 0h.01m24.59 0h.01m42.39 0h.01m1.19 0h.01m-147.41 .2h.01m1.99 0h.01m3.39 0h.01m4.19 0h.01m17.39 0h.01m.39 0h.01m9.59 0h.01m.19 0h.01m3.19 0h.01m29.79 0h.01m2.59 0h.01m13.79 0h.01m38.59 0h.01m-138.01 .2h.01m10.39 0h.01m3.59 0h.01m9.39 0h.01m5.19 0h.01m4.19 0h.01m8.99 0h.01m9.59 0h.01m21.39 0h.01m5.79 0h.01m36.19 0h.01m-111.01 .2h.01m.59 0h.01m1.39 0h.01m1.39 0h.01m.79 0h.01m1.19 0h.01m2.19 0h.01m18.39 0h.01m5.39 0h.01m.59 0h.01m-36.81 .2h.01m20.39 0h.01m1.99 0h.01m7.79 0h.01m2.59 0h.01m7.99 0h.01m14.99 0h.01m38.59 0h.01m3.79 0h.01m31.19 0h.01m32.39 0h.01m-164.21 .2h.01m9.99 0h.01m5.39 0h.01m4.19 0h.01m3.39 0h.01m4.59 0h.01m2.59 0h.01m4.39 0h.01m.39 0h.01m24.39 0h.01m3.99 0h.01m98.99 0h.01m-142.61 .2h.01m.59 0h.01m.79 0h.01m2.39 0h.01m1.39 0h.01m2.19 0h.01m3.59 0h.01m1.39 0h.01m.99 0h.01m2.99 0h.01m3.59 0h.01m1.99 0h.01m24.19 0h.01m14.59 0h.01m27.59 0h.01m9.99 0h.01m14.59 0h.01m-119.61 .2h.01m6.19 0h.01m6.19 0h.01m.39 0h.01m5.19 0h.01m.59 0h.01m13.59 0h.01m4.39 0h.01m2.79 0h.01m1.59 0h.01m-57.81 .2h.01m8.99 0h.01m1.79 0h.01m1.99 0h.01m1.39 0h.01m.39 0h.01m.99 0h.01m4.39 0h.01m.79 0h.01m3.39 0h.01m5.79 0h.01m12.19 0h.01m-28.01 .2h.01m7.19 0h.01m2.39 0h.01m5.99 0h.01m.79 0h.01m3.59 0h.01m5.79 0h.01m.79 0h.01m17.59 0h.01m4.99 0h.01m22.19 0h.01m.39 0h.01m20.99 0h.01m1.59 0h.01m-96.41 .2h.01m2.59 0h.01m3.39 0h.01m4.19 0h.01m7.59 0h.01m14.99 0h.01m4.19 0h.01m13.79 0h.01m7.79 0h.01m55.19 0h.01m-111.81 .2h.01m11.19 0h.01m4.59 0h.01m1.59 0h.01m3.59 0h.01m.79 0h.01m.79 0h.01m7.19 0h.01m30.39 0h.01m14.59 0h.01m71.79 0h.01m-141.01 .2h.01m.39 0h.01m4.19 0h.01m2.59 0h.01m1.59 0h.01m4.79 0h.01m14.99 0h.01m33.39 0h.01m6.99 0h.01m54.59 0h.01m5.19 0h.01m-133.61 .2h.01m9.39 0h.01m2.59 0h.01m3.19 0h.01m.39 0h.01m3.39 0h.01m6.79 0h.01m11.39 0h.01m2.39 0h.01m15.59 0h.01m15.59 0h.01m-65.61 .2h.01m.19 0h.01m2.19 0h.01m11.59 0h.01m1.59 0h.01m4.39 0h.01m2.19 0h.01m3.19 0h.01m11.39 0h.01m17.79 0h.01m-73.61 .2h.01m6.79 0h.01m3.59 0h.01m10.79 0h.01m2.39 0h.01m4.39 0h.01m1.19 0h.01m1.59 0h.01m5.39 0h.01m2.19 0h.01m25.79 0h.01m12.39 0h.01m-67.41 .2h.01m5.79 0h.01m2.39 0h.01m6.19 0h.01m3.39 0h.01m.59 0h.01m.39 0h.01m1.99 0h.01m2.79 0h.01m1.99 0h.01m14.99 0h.01m11.99 0h.01m23.79 0h.01m29.79 0h.01m-111.61 .2h.01m15.19 0h.01m1.19 0h.01m1.19 0h.01m13.39 0h.01m5.19 0h.01m5.59 0h.01m8.79 0h.01m1.99 0h.01m13.19 0h.01m-66.41 .2h.01m3.59 0h.01m13.99 0h.01m2.99 0h.01m3.99 0h.01m1.79 0h.01m1.99 0h.01m.39 0h.01m.19 0h.01m2.59 0h.01m8.99 0h.01m1.79 0h.01m17.99 0h.01m51.19 0h.01m-111.21 .2h.01m4.99 0h.01m.59 0h.01m4.19 0h.01m7.99 0h.01m.79 0h.01m8.59 0h.01m7.39 0h.01m1.79 0h.01m2.59 0h.01m11.59 0h.01m8.99 0h.01m25.39 0h.01m37.39 0h.01m38.19 0h.01m-152.21 .2h.01m.59 0h.01m3.39 0h.01m6.59 0h.01m3.59 0h.01m6.59 0h.01m11.39 0h.01m1.19 0h.01m3.99 0h.01m3.59 0h.01m3.19 0h.01m10.19 0h.01m12.79 0h.01m.39 0h.01m-73.61 .2h.01m4.59 0h.01m8.39 0h.01m3.39 0h.01m.19 0h.01m4.39 0h.01m3.19 0h.01m1.19 0h.01m2.19 0h.01m3.99 0h.01m3.59 0h.01m19.59 0h.01m7.99 0h.01m7.19 0h.01m13.79 0h.01m.79 0h.01m13.19 0h.01m-98.61 .2h.01m9.59 0h.01m2.19 0h.01m7.99 0h.01m2.79 0h.01m9.99 0h.01m7.19 0h.01m22.19 0h.01m-60.41 .2h.01m8.79 0h.01m.59 0h.01m6.19 0h.01m.19 0h.01m7.59 0h.01m3.99 0h.01m2.19 0h.01m1.19 0h.01m4.79 0h.01m2.59 0h.01m31.99 0h.01m8.39 0h.01m1.79 0h.01m23.19 0h.01m-99.81 .2h.01m4.39 0h.01m.99 0h.01m.19 0h.01m2.19 0h.01m6.39 0h.01m1.99 0h.01m2.19 0h.01m.99 0h.01m4.79 0h.01m.39 0h.01m.59 0h.01m.79 0h.01m.19 0h.01m3.59 0h.01m5.79 0h.01m4.79 0h.01m3.19 0h.01m17.59 0h.01m20.99 0h.01m2.19 0h.01m20.39 0h.01m.39 0h.01m-115.81 .2h.01m3.19 0h.01m9.99 0h.01m3.59 0h.01m1.19 0h.01m3.59 0h.01m1.19 0h.01m.59 0h.01m.99 0h.01m.79 0h.01m8.79 0h.01m5.99 0h.01m.79 0h.01m9.99 0h.01m.39 0h.01m20.39 0h.01m40.19 0h.01m-116.81 .2h.01m7.19 0h.01m7.19 0h.01m.99 0h.01m4.79 0h.01m3.39 0h.01m.39 0h.01m1.19 0h.01m2.19 0h.01m.59 0h.01m2.19 0h.01m4.99 0h.01m5.19 0h.01m1.19 0h.01m.79 0h.01m5.19 0h.01m.19 0h.01m3.39 0h.01m1.39 0h.01m14.19 0h.01m12.99 0h.01m.39 0h.01m5.19 0h.01m5.99 0h.01m25.79 0h.01m4.79 0h.01m12.59 0h.01m-129.61 .2h.01m9.99 0h.01m7.79 0h.01m.19 0h.01m.79 0h.01m3.39 0h.01m7.99 0h.01m6.39 0h.01m2.19 0h.01m4.79 0h.01m1.79 0h.01m.79 0h.01m11.79 0h.01m1.19 0h.01m8.39 0h.01m15.39 0h.01m-80.61 .2h.01m13.79 0h.01m.99 0h.01m3.19 0h.01m.19 0h.01m3.39 0h.01m.79 0h.01m1.59 0h.01m4.79 0h.01m5.99 0h.01m5.59 0h.01m1.99 0h.01m5.99 0h.01m3.99 0h.01m.99 0h.01m52.39 0h.01m28.19 0h.01m-133.01 .2h.01m2.99 0h.01m9.19 0h.01m1.99 0h.01m5.99 0h.01m6.19 0h.01m1.79 0h.01m1.19 0h.01m.79 0h.01m.19 0h.01m8.99 0h.01m3.59 0h.01m1.99 0h.01m20.79 0h.01m2.59 0h.01m12.59 0h.01m-83.41 .2h.01m5.99 0h.01m4.39 0h.01m1.79 0h.01m6.39 0h.01m2.99 0h.01m1.79 0h.01m2.59 0h.01m.99 0h.01m1.19 0h.01m.79 0h.01m2.79 0h.01m3.39 0h.01m4.19 0h.01m25.19 0h.01m13.79 0h.01m16.39 0h.01m4.99 0h.01m20.59 0h.01m.39 0h.01m8.99 0h.01m-126.41 .2h.01m9.79 0h.01m.39 0h.01m3.19 0h.01m1.59 0h.01m.79 0h.01m.59 0h.01m.59 0h.01m2.79 0h.01m1.59 0h.01m4.19 0h.01m2.19 0h.01m1.59 0h.01m2.39 0h.01m1.59 0h.01m1.59 0h.01m.79 0h.01m5.99 0h.01m2.79 0h.01m27.19 0h.01m-62.81 .2h.01m2.19 0h.01m3.59 0h.01m4.79 0h.01m.59 0h.01m1.59 0h.01m1.59 0h.01m2.79 0h.01m1.99 0h.01m.59 0h.01m8.19 0h.01m3.39 0h.01m.99 0h.01m71.39 0h.01m18.99 0h.01m4.59 0h.01m-136.21 .2h.01m11.59 0h.01m3.39 0h.01m1.19 0h.01m2.39 0h.01m2.59 0h.01m2.79 0h.01m2.19 0h.01m2.79 0h.01m3.79 0h.01m2.59 0h.01m1.39 0h.01m1.79 0h.01m6.79 0h.01m10.59 0h.01m11.79 0h.01m.59 0h.01m24.99 0h.01m-95.21 .2h.01m6.59 0h.01m3.19 0h.01m.79 0h.01m.19 0h.01m3.39 0h.01m.19 0h.01m.99 0h.01m.79 0h.01m2.19 0h.01m1.59 0h.01m1.19 0h.01m2.39 0h.01m1.79 0h.01m.39 0h.01m3.99 0h.01m7.39 0h.01m5.19 0h.01m2.79 0h.01m7.19 0h.01m2.79 0h.01m2.59 0h.01m2.39 0h.01m7.79 0h.01m5.19 0h.01m11.59 0h.01m10.99 0h.01m-101.61 .2h.01m5.99 0h.01m8.99 0h.01m1.99 0h.01m.19 0h.01m3.39 0h.01m4.59 0h.01m.99 0h.01m.79 0h.01m1.79 0h.01m3.99 0h.01m4.19 0h.01m1.59 0h.01m7.79 0h.01m3.99 0h.01m3.39 0h.01m7.19 0h.01m3.39 0h.01m5.39 0h.01m52.19 0h.01m-109.21 .2h.01m4.19 0h.01m2.39 0h.01m.39 0h.01m3.59 0h.01m1.39 0h.01m.19 0h.01m1.79 0h.01m1.99 0h.01m1.19 0h.01m1.99 0h.01m1.59 0h.01m5.79 0h.01m.79 0h.01m5.99 0h.01m5.59 0h.01m10.39 0h.01m.19 0h.01m.39 0h.01m.59 0h.01m.99 0h.01m2.99 0h.01m8.59 0h.01m7.99 0h.01m31.19 0h.01m9.19 0h.01m37.99 0h.01m-159.21 .2h.01m6.79 0h.01m1.99 0h.01m4.79 0h.01m4.59 0h.01m3.19 0h.01m1.99 0h.01m.99 0h.01m4.79 0h.01m.19 0h.01m10.99 0h.01m.19 0h.01m2.99 0h.01m12.39 0h.01m3.59 0h.01m10.79 0h.01m8.99 0h.01m4.59 0h.01m5.59 0h.01m2.59 0h.01m-94.01 .2h.01m18.39 0h.01m3.79 0h.01m2.59 0h.01m.19 0h.01m1.79 0h.01m.39 0h.01m1.39 0h.01m1.39 0h.01m2.59 0h.01m1.19 0h.01m2.79 0h.01m.99 0h.01m3.59 0h.01m.39 0h.01m8.99 0h.01m5.19 0h.01m5.39 0h.01m14.39 0h.01m-68.61 .2h.01m5.59 0h.01m1.99 0h.01m.19 0h.01m4.19 0h.01m2.19 0h.01m4.19 0h.01m.59 0h.01m.19 0h.01m.19 0h.01m2.59 0h.01m2.19 0h.01m5.79 0h.01m.39 0h.01m5.99 0h.01m1.39 0h.01m1.59 0h.01m10.19 0h.01m9.39 0h.01m11.79 0h.01m-72.41 .2h.01m5.19 0h.01m.79 0h.01m2.59 0h.01m.79 0h.01m1.19 0h.01m3.19 0h.01m.19 0h.01m2.39 0h.01m2.19 0h.01m.39 0h.01m1.39 0h.01m6.79 0h.01m4.19 0h.01m.59 0h.01m.19 0h.01m1.99 0h.01m8.19 0h.01m8.19 0h.01m-39.81 .2h.01m.39 0h.01m.19 0h.01m.99 0h.01m.39 0h.01m.59 0h.01m.39 0h.01m4.59 0h.01m1.99 0h.01m.39 0h.01m.39 0h.01m.19 0h.01m2.99 0h.01m3.39 0h.01m.39 0h.01m17.39 0h.01m1.39 0h.01m24.99 0h.01m.99 0h.01m7.79 0h.01m31.19 0h.01m-107.61 .2h.01m2.19 0h.01m.39 0h.01m.59 0h.01m.39 0h.01m4.79 0h.01m6.19 0h.01m.19 0h.01m4.39 0h.01m.79 0h.01m3.99 0h.01m.59 0h.01m1.19 0h.01m.19 0h.01m2.99 0h.01m1.19 0h.01m2.39 0h.01m1.59 0h.01m3.99 0h.01m1.99 0h.01m6.59 0h.01m9.19 0h.01m2.19 0h.01m3.59 0h.01m7.39 0h.01m2.19 0h.01m1.19 0h.01m3.79 0h.01m34.39 0h.01m6.19 0h.01m-113.41 .2h.01m1.59 0h.01m.19 0h.01m.39 0h.01m.59 0h.01m.39 0h.01m1.19 0h.01m1.79 0h.01m.19 0h.01m.59 0h.01m.39 0h.01m.19 0h.01m.79 0h.01m2.79 0h.01m3.79 0h.01m2.39 0h.01m4.39 0h.01m4.39 0h.01m3.79 0h.01m8.19 0h.01m11.79 0h.01m23.59 0h.01m-81.81 .2h.01m9.19 0h.01m.79 0h.01m.99 0h.01m6.39 0h.01m3.39 0h.01m2.19 0h.01m2.39 0h.01m2.79 0h.01m7.99 0h.01m1.19 0h.01m1.39 0h.01m3.39 0h.01m10.59 0h.01m3.19 0h.01m4.99 0h.01m4.39 0h.01m7.99 0h.01m5.99 0h.01m34.79 0h.01m-116.81 .2h.01m3.79 0h.01m3.99 0h.01m.59 0h.01m.19 0h.01m.19 0h.01m4.19 0h.01m.59 0h.01m.39 0h.01m2.39 0h.01m2.39 0h.01m2.99 0h.01m2.39 0h.01m.99 0h.01m.79 0h.01m.59 0h.01m8.99 0h.01m9.19 0h.01m.39 0h.01m.99 0h.01m2.59 0h.01m5.59 0h.01m2.19 0h.01m17.59 0h.01m23.79 0h.01m4.19 0h.01m9.39 0h.01m-110.41 .2h.01m2.39 0h.01m5.79 0h.01m2.99 0h.01m1.99 0h.01m1.79 0h.01m2.99 0h.01m1.39 0h.01m.59 0h.01m.79 0h.01m1.19 0h.01m4.19 0h.01m.59 0h.01m1.79 0h.01m3.19 0h.01m9.59 0h.01m9.19 0h.01m5.39 0h.01m11.19 0h.01m6.99 0h.01m5.99 0h.01m58.39 0h.01m-139.21 .2h.01m1.79 0h.01m.99 0h.01m2.19 0h.01m2.99 0h.01m2.79 0h.01m3.99 0h.01m6.19 0h.01m1.39 0h.01m2.99 0h.01m4.59 0h.01m.79 0h.01m7.79 0h.01m7.19 0h.01m10.59 0h.01m17.39 0h.01m3.99 0h.01m69.19 0h.01m-150.61 .2h.01m7.99 0h.01m2.39 0h.01m1.99 0h.01m1.99 0h.01m3.19 0h.01m.39 0h.01m.59 0h.01m2.99 0h.01m.59 0h.01m.59 0h.01m.99 0h.01m1.79 0h.01m1.59 0h.01m1.39 0h.01m.99 0h.01m6.19 0h.01m5.79 0h.01m.39 0h.01m.19 0h.01m4.99 0h.01m2.19 0h.01m.99 0h.01m3.59 0h.01m5.59 0h.01m5.99 0h.01m6.99 0h.01m9.79 0h.01m15.99 0h.01m26.19 0h.01m-114.01 .2h.01m.19 0h.01m4.19 0h.01m.39 0h.01m.79 0h.01m1.79 0h.01m2.79 0h.01m1.59 0h.01m1.19 0h.01m.59 0h.01m.39 0h.01m2.99 0h.01m9.19 0h.01m.59 0h.01m7.79 0h.01m.59 0h.01m19.19 0h.01m23.19 0h.01m10.59 0h.01m-91.01 .2h.01m1.99 0h.01m3.19 0h.01m.59 0h.01m3.59 0h.01m1.99 0h.01m1.79 0h.01m.19 0h.01m.59 0h.01m3.39 0h.01m.79 0h.01m.59 0h.01m.39 0h.01m2.39 0h.01m4.79 0h.01m1.19 0h.01m7.99 0h.01m10.39 0h.01m2.99 0h.01m4.59 0h.01m12.39 0h.01m17.59 0h.01m45.19 0h.01m-140.01 .2h.01m3.79 0h.01m2.79 0h.01m4.39 0h.01m5.59 0h.01m1.79 0h.01m.99 0h.01m1.39 0h.01m1.39 0h.01m3.19 0h.01m.39 0h.01m.99 0h.01m1.59 0h.01m2.79 0h.01m1.39 0h.01m2.39 0h.01m1.39 0h.01m.79 0h.01m.39 0h.01m1.39 0h.01m3.79 0h.01m10.19 0h.01m1.59 0h.01m10.39 0h.01m18.19 0h.01m.59 0h.01m69.19 0h.01m-144.41 .2h.01m1.39 0h.01m6.59 0h.01m1.39 0h.01m2.39 0h.01m.59 0h.01m.59 0h.01m.59 0h.01m5.59 0h.01m.19 0h.01m2.19 0h.01m2.79 0h.01m.39 0h.01m.99 0h.01m5.99 0h.01m2.59 0h.01m.79 0h.01m8.39 0h.01m9.39 0h.01m.79 0h.01m.59 0h.01m1.19 0h.01m.79 0h.01m.79 0h.01m9.99 0h.01m63.39 0h.01m-133.01 .2h.01m5.79 0h.01m1.59 0h.01m1.59 0h.01m4.19 0h.01m2.19 0h.01m.19 0h.01m1.19 0h.01m5.19 0h.01m.79 0h.01m1.19 0h.01m.39 0h.01m1.79 0h.01m1.59 0h.01m1.99 0h.01m4.59 0h.01m7.59 0h.01m10.19 0h.01m7.99 0h.01m-55.81 .2h.01m5.19 0h.01m2.79 0h.01m.59 0h.01m.79 0h.01m1.79 0h.01m2.59 0h.01m1.79 0h.01m4.19 0h.01m3.19 0h.01m8.79 0h.01m4.59 0h.01m12.19 0h.01m3.59 0h.01m5.99 0h.01m7.39 0h.01m80.19 0h.01m-153.61 .2h.01m11.39 0h.01m.39 0h.01m2.39 0h.01m.59 0h.01m1.39 0h.01m2.99 0h.01m1.79 0h.01m5.19 0h.01m1.79 0h.01m1.19 0h.01m2.39 0h.01m.19 0h.01m.19 0h.01m1.19 0h.01m.19 0h.01m.79 0h.01m.99 0h.01m1.99 0h.01m3.59 0h.01m1.79 0h.01m2.79 0h.01m.39 0h.01m7.59 0h.01m.99 0h.01m-49.41 .2h.01m1.59 0h.01m2.19 0h.01m1.99 0h.01m6.39 0h.01m3.19 0h.01m.39 0h.01m11.79 0h.01m3.19 0h.01m.39 0h.01m2.19 0h.01m.59 0h.01m2.79 0h.01m10.39 0h.01m1.59 0h.01m39.59 0h.01m1.79 0h.01m-97.01 .2h.01m13.19 0h.01m1.59 0h.01m2.59 0h.01m4.79 0h.01m.39 0h.01m1.39 0h.01m.99 0h.01m.39 0h.01m2.59 0h.01m.59 0h.01m10.59 0h.01m.79 0h.01m2.39 0h.01m7.59 0h.01m6.39 0h.01m13.19 0h.01m7.99 0h.01m21.59 0h.01m-83.21 .2h.01m2.79 0h.01m.79 0h.01m2.19 0h.01m.79 0h.01m.59 0h.01m.79 0h.01m.79 0h.01m2.99 0h.01m.39 0h.01m.39 0h.01m.99 0h.01m.99 0h.01m.59 0h.01m6.19 0h.01m2.59 0h.01m11.19 0h.01m.99 0h.01m1.39 0h.01m2.39 0h.01m6.59 0h.01m3.39 0h.01m42.19 0h.01m-106.21 .2h.01m7.59 0h.01m6.39 0h.01m3.39 0h.01m1.39 0h.01m1.19 0h.01m.19 0h.01m2.19 0h.01m.79 0h.01m1.79 0h.01m3.59 0h.01m.19 0h.01m1.39 0h.01m1.59 0h.01m.59 0h.01m4.79 0h.01m.99 0h.01m13.39 0h.01m95.99 0h.01m-146.01 .2h.01m5.79 0h.01m1.39 0h.01m2.39 0h.01m8.59 0h.01m2.59 0h.01m7.19 0h.01m.19 0h.01m2.39 0h.01m4.19 0h.01m.39 0h.01m15.59 0h.01m2.99 0h.01m.99 0h.01m5.59 0h.01m2.79 0h.01m9.19 0h.01m19.79 0h.01m12.99 0h.01m-98.61 .2h.01m13.99 0h.01m1.59 0h.01m.39 0h.01m2.19 0h.01m.79 0h.01m3.19 0h.01m5.79 0h.01m.19 0h.01m4.79 0h.01m.59 0h.01m4.39 0h.01m1.99 0h.01m.99 0h.01m1.19 0h.01m34.19 0h.01m-85.41 .2h.01m4.99 0h.01m10.99 0h.01m1.39 0h.01m.99 0h.01m1.59 0h.01m.99 0h.01m4.19 0h.01m3.59 0h.01m.59 0h.01m4.79 0h.01m.79 0h.01m.19 0h.01m.59 0h.01m2.99 0h.01m1.99 0h.01m10.39 0h.01m.99 0h.01m8.79 0h.01m14.79 0h.01m.59 0h.01m.39 0h.01m43.99 0h.01m-121.41 .2h.01m.59 0h.01m14.39 0h.01m5.79 0h.01m.99 0h.01m2.99 0h.01m.99 0h.01m.99 0h.01m1.79 0h.01m2.39 0h.01m.79 0h.01m3.59 0h.01m4.19 0h.01m2.39 0h.01m.79 0h.01m2.39 0h.01m3.39 0h.01m5.79 0h.01m14.19 0h.01m7.59 0h.01m18.79 0h.01m17.19 0h.01m-106.61 .2h.01m.19 0h.01m9.59 0h.01m.99 0h.01m.39 0h.01m.39 0h.01m2.39 0h.01m.39 0h.01m2.99 0h.01m2.79 0h.01m.99 0h.01m.79 0h.01m.19 0h.01m6.19 0h.01m4.99 0h.01m4.19 0h.01m2.79 0h.01m5.59 0h.01m7.99 0h.01m.59 0h.01m33.99 0h.01m2.39 0h.01m3.79 0h.01m-88.81 .2h.01m2.79 0h.01m.59 0h.01m.39 0h.01m1.99 0h.01m3.59 0h.01m.59 0h.01m3.39 0h.01m5.59 0h.01m8.19 0h.01m1.59 0h.01m7.39 0h.01m1.79 0h.01m4.59 0h.01m1.59 0h.01m.19 0h.01m12.59 0h.01m45.79 0h.01m29.99 0h.01m-140.61 .2h.01m11.19 0h.01m.19 0h.01m2.19 0h.01m2.59 0h.01m.59 0h.01m1.39 0h.01m.99 0h.01m6.39 0h.01m1.39 0h.01m2.39 0h.01m10.79 0h.01m9.79 0h.01m5.59 0h.01m3.19 0h.01m8.19 0h.01m14.19 0h.01m5.59 0h.01m20.99 0h.01m-107.81 .2h.01m7.19 0h.01m.99 0h.01m2.59 0h.01m.19 0h.01m2.19 0h.01m1.19 0h.01m2.39 0h.01m1.59 0h.01m.19 0h.01m2.39 0h.01m1.19 0h.01m3.59 0h.01m.59 0h.01m4.79 0h.01m2.59 0h.01m1.19 0h.01m.19 0h.01m1.59 0h.01m.39 0h.01m11.39 0h.01m1.99 0h.01m1.39 0h.01m.79 0h.01m20.39 0h.01m5.39 0h.01m-76.81 .2h.01m11.59 0h.01m4.79 0h.01m1.59 0h.01m1.59 0h.01m.79 0h.01m.59 0h.01m1.59 0h.01m5.79 0h.01m2.19 0h.01m2.99 0h.01m.39 0h.01m1.19 0h.01m.39 0h.01m.39 0h.01m3.59 0h.01m.19 0h.01m3.99 0h.01m5.59 0h.01m6.79 0h.01m5.99 0h.01m6.59 0h.01m-70.61 .2h.01m3.99 0h.01m3.39 0h.01m.79 0h.01m6.39 0h.01m.79 0h.01m6.39 0h.01m.19 0h.01m.19 0h.01m2.59 0h.01m4.59 0h.01m1.19 0h.01m.79 0h.01m2.19 0h.01m2.79 0h.01m2.59 0h.01m4.79 0h.01m4.79 0h.01m6.59 0h.01m5.99 0h.01m5.39 0h.01m9.79 0h.01m14.79 0h.01m8.79 0h.01m11.99 0h.01m-114.61 .2h.01m1.59 0h.01m1.39 0h.01m.59 0h.01m.79 0h.01m1.99 0h.01m.19 0h.01m2.39 0h.01m.99 0h.01m.79 0h.01m.79 0h.01m6.99 0h.01m2.79 0h.01m1.59 0h.01m1.59 0h.01m.59 0h.01m.19 0h.01m1.19 0h.01m.59 0h.01m1.39 0h.01m4.39 0h.01m6.99 0h.01m13.39 0h.01m7.19 0h.01m10.39 0h.01m-71.81 .2h.01m16.39 0h.01m2.79 0h.01m2.39 0h.01m2.59 0h.01m2.39 0h.01m.39 0h.01m.39 0h.01m.59 0h.01m.79 0h.01m.19 0h.01m3.19 0h.01m1.39 0h.01m1.39 0h.01m8.99 0h.01m9.59 0h.01m5.99 0h.01m2.99 0h.01m12.19 0h.01m18.79 0h.01m-84.21 .2h.01m6.39 0h.01m2.19 0h.01m.19 0h.01m.99 0h.01m.99 0h.01m3.99 0h.01m.19 0h.01m.99 0h.01m.59 0h.01m.19 0h.01m2.99 0h.01m2.19 0h.01m1.99 0h.01m.19 0h.01m4.99 0h.01m11.39 0h.01m11.19 0h.01m2.59 0h.01m.19 0h.01m.39 0h.01m2.79 0h.01m1.19 0h.01m15.39 0h.01m8.59 0h.01m3.59 0h.01m4.79 0h.01m-98.01 .2h.01m.19 0h.01m10.39 0h.01m.19 0h.01m.79 0h.01m.79 0h.01m.79 0h.01m2.59 0h.01m.19 0h.01m1.79 0h.01m1.19 0h.01m5.79 0h.01m1.19 0h.01m2.19 0h.01m.19 0h.01m1.39 0h.01m1.99 0h.01m2.99 0h.01m4.39 0h.01m2.19 0h.01m.79 0h.01m6.79 0h.01m9.39 0h.01m8.99 0h.01m4.39 0h.01m5.79 0h.01m-66.21 .2h.01m.19 0h.01m.19 0h.01m4.19 0h.01m3.39 0h.01m.39 0h.01m.79 0h.01m1.39 0h.01m.99 0h.01m6.19 0h.01m11.19 0h.01m13.19 0h.01m.19 0h.01m3.59 0h.01m1.39 0h.01m3.19 0h.01m6.19 0h.01m8.19 0h.01m35.39 0h.01m-115.61 .2h.01m7.99 0h.01m.59 0h.01m4.59 0h.01m4.79 0h.01m.39 0h.01m2.39 0h.01m6.79 0h.01m10.99 0h.01m2.59 0h.01m8.59 0h.01m.79 0h.01m1.99 0h.01m11.39 0h.01m4.99 0h.01m.39 0h.01m4.59 0h.01m11.99 0h.01m25.39 0h.01m4.19 0h.01m-111.61 .2h.01m4.59 0h.01m7.39 0h.01m3.19 0h.01m1.59 0h.01m1.39 0h.01m2.59 0h.01m1.79 0h.01m2.59 0h.01m37.79 0h.01m3.39 0h.01m.59 0h.01m16.79 0h.01m38.79 0h.01"/><path class="rl" d="M275.45 311.71L450.5 292.03"/><path class="ax" d="M275.45 202V320.1M274.85 319.5H451.1"/><path class="tk" d="M272.15 319.5H275.45M272.15 280.53H275.45M272.15 241.57H275.45M272.15 202.6H275.45M275.45 319.5V323M319.21 319.5V323M362.98 319.5V323M406.74 319.5V323M450.5 319.5V323"/><text class="tl" text-anchor="end" transform="translate(270.45 322.65) scale(1.19 1)">0</text><text class="tl" text-anchor="end" transform="translate(270.45 283.68) scale(1.19 1)">10</text><text class="tl" text-anchor="end" transform="translate(270.45 244.72) scale(1.19 1)">20</text><text class="tl" text-anchor="end" transform="translate(270.45 205.75) scale(1.19 1)">30</text><text class="tl" text-anchor="middle" transform="translate(275.65 334.95) scale(1.19 1)">0</text><text class="tl" text-anchor="middle" transform="translate(319.41 334.95) scale(1.19 1)">5</text><text class="tl" text-anchor="middle" transform="translate(363.18 334.95) scale(1.19 1)">10</text><text class="tl" text-anchor="middle" transform="translate(406.94 334.95) scale(1.19 1)">15</text><text class="tl" text-anchor="middle" transform="translate(450.7 334.95) scale(1.19 1)">20</text><text class="ti" text-anchor="middle" transform="translate(363.28 350.5) scale(1.23 1)">LH (IU/L)</text><text class="ti" text-anchor="middle" transform="translate(250.45 258.55) rotate(-90) scale(1.23 1)">AMH (ng/ml)</text><text class="an" transform="translate(373.5 222) scale(1.2 1)">P = 0.000</text><text class="an" transform="translate(373.5 235) scale(1.2 1)">R = 0.307</text><text class="st" transform="translate(418.6 221.3)">*</text></g>
<g><path class="pt" d="M520 229.8h.01m5.19 0h.01m-12.81 .4h.01m2.39 .4h.01m-1.81 11.8h.01m-5.81 6.6h.01m8.19 1h.01m-5.61 .8h.01m32.99 3.2h.01m-29.01 1.4h.01m-3.01 1.4h.01m-1.61 1.6h.01m3.59 4.8h.01m15.99 .2h.01m-20.41 1h.01m8.59 1h.01m-5.21 1.4h.01m1.19 0h.01m4.59 .8h.01m-8.01 .2h.01m10.19 .2h.01m-8.81 1.2h.01m-1.41 .2h.01m25.99 .2h.01m-26.81 .2h.01m3.79 .4h.01m2.79 .4h.01m12.59 .4h.01m-16.41 .6h.01m12.39 0h.01m-9.21 .6h.01m4.19 .2h.01m-2.41 .8h.01m.39 0h.01m-4.81 .2h.01m-4.21 .4h.01m8.59 0h.01m-.21 .6h.01m5.99 0h.01m5.79 .2h.01m-17.81 .2h.01m.19 .2h.01m10.79 0h.01m-13.41 .2h.01m10.99 0h.01m-3.41 .2h.01m.59 0h.01m19.39 .2h.01m-28.01 .2h.01m2.39 0h.01m2.19 0h.01m55.79 0h.01m-54.21 .2h.01m3.19 0h.01m-.01 .2h.01m-5.81 .4h.01m-3.61 .4h.01m.99 .2h.01m6.19 .2h.01m2.99 0h.01m-5.41 .2h.01m4.79 0h.01m4.79 .2h.01m10.99 0h.01m15.19 .2h.01m-39.01 .2h.01m11.19 0h.01m-11.41 .2h.01m.59 0h.01m.59 0h.01m.79 0h.01m-1.41 .2h.01m2.79 0h.01m7.39 .2h.01m22.99 0h.01m-21.81 .2h.01m-14.01 .2h.01m2.99 .2h.01m1.19 .2h.01m5.99 .2h.01m1.59 0h.01m-8.41 .2h.01m11.39 0h.01m-11.41 .2h.01m3.79 0h.01m-1.21 .2h.01m8.19 .2h.01m-3.81 .2h.01m-4.61 .6h.01m13.39 0h.01m47.59 0h.01m-65.01 .2h.01m6.59 0h.01m7.19 0h.01m7.99 .4h.01m-22.21 .2h.01m3.19 0h.01m5.19 0h.01m2.19 0h.01m-2.21 .2h.01m14.59 0h.01m-13.81 .2h.01m18.59 .6h.01m-24.81 .2h.01m14.99 .2h.01m-6.41 .2h.01m-9.61 .4h.01m2.39 0h.01m33.19 0h.01m-37.61 .2h.01m4.19 0h.01m7.59 0h.01m43.79 0h.01m-49.21 .2h.01m-5.81 .2h.01m.99 0h.01m-.61 .2h.01m7.79 0h.01m13.19 .2h.01m-19.01 .2h.01m7.99 0h.01m-7.61 .2h.01m4.79 0h.01m2.39 0h.01m-4.41 .2h.01m6.19 0h.01m1.79 0h.01m22.39 0h.01m-35.81 .2h.01m1.59 0h.01m10.79 0h.01m-10.61 .2h.01m.59 0h.01m2.59 0h.01m4.59 0h.01m-5.81 .2h.01m4.39 0h.01m18.39 0h.01m-24.61 .2h.01m1.19 0h.01m4.19 0h.01m4.59 0h.01m-12.21 .2h.01m5.59 0h.01m3.99 0h.01m59.79 0h.01m-65.81 .2h.01m6.59 0h.01m1.39 0h.01m4.99 0h.01m9.99 .2h.01m3.19 0h.01m-26.61 .4h.01m2.19 .2h.01m-2.41 .2h.01m.19 0h.01m4.79 0h.01m-6.81 .2h.01m3.99 0h.01m5.19 0h.01m-9.61 .4h.01m1.59 0h.01m1.59 0h.01m.79 0h.01m-3.21 .2h.01m-2.41 .2h.01m13.19 0h.01m-13.21 .2h.01m.99 0h.01m1.99 0h.01m1.19 0h.01m3.79 0h.01m.59 0h.01m3.99 0h.01m.39 0h.01m11.99 0h.01m-25.61 .2h.01m3.39 0h.01m.79 0h.01m17.99 0h.01m-13.81 .4h.01m1.59 0h.01m-8.81 .2h.01m12.19 0h.01m21.99 0h.01m-29.21 .2h.01m7.19 0h.01m33.59 0h.01m-42.21 .2h.01m21.19 0h.01m-20.61 .2h.01m9.39 0h.01m-15.01 .2h.01m.19 0h.01m.59 0h.01m3.99 0h.01m4.99 0h.01m.39 0h.01m.19 0h.01m10.39 0h.01m26.99 0h.01m-47.01 .2h.01m2.19 0h.01m1.59 0h.01m2.79 0h.01m.79 .2h.01m4.59 0h.01m.59 0h.01m.79 0h.01m5.39 0h.01m-18.21 .2h.01m8.19 0h.01m.19 0h.01m.19 0h.01m9.19 0h.01m-19.81 .2h.01m1.59 0h.01m3.79 0h.01m1.79 0h.01m.19 0h.01m3.39 0h.01m-6.21 .2h.01m2.19 0h.01m5.59 0h.01m-11.21 .2h.01m1.39 0h.01m.59 0h.01m-.41 .2h.01m4.99 0h.01m3.59 0h.01m.59 0h.01m8.59 0h.01m-8.61 .2h.01m.59 0h.01m5.39 0h.01m-13.61 .2h.01m.79 0h.01m17.39 0h.01m-20.81 .2h.01m.39 0h.01m.99 0h.01m5.79 0h.01m-5.81 .2h.01m.59 0h.01m3.39 0h.01m.39 0h.01m.39 0h.01m2.99 0h.01m-3.81 .2h.01m-5.41 .2h.01m.79 0h.01m.99 0h.01m.99 0h.01m.39 0h.01m2.99 0h.01m.79 0h.01m4.59 0h.01m8.19 0h.01m-18.01 .4h.01m2.39 0h.01m5.79 0h.01m70.99 0h.01m-78.41 .2h.01m.99 0h.01m1.19 0h.01m2.99 0h.01m7.39 0h.01m-12.21 .2h.01m6.99 0h.01m1.59 0h.01m.19 0h.01m1.19 0h.01m-12.81 .2h.01m1.19 0h.01m.79 0h.01m1.19 0h.01m1.99 0h.01m4.59 0h.01m.19 0h.01m.39 0h.01m9.99 0h.01m-15.21 .2h.01m14.99 0h.01m-20.61 .2h.01m.59 0h.01m5.59 0h.01m.79 0h.01m.39 0h.01m.59 0h.01m1.59 0h.01m-7.21 .2h.01m.99 0h.01m.59 0h.01m32.39 0h.01m-37.21 .2h.01m3.19 0h.01m.59 0h.01m-3.81 .2h.01m1.99 0h.01m3.59 0h.01m4.19 0h.01m9.19 0h.01m14.79 0h.01m-26.41 .2h.01m4.39 0h.01m2.19 0h.01m1.19 0h.01m-15.81 .2h.01m1.19 0h.01m1.99 0h.01m2.99 0h.01m11.99 0h.01m.99 0h.01m-17.41 .2h.01m1.19 0h.01m1.19 0h.01m1.99 0h.01m1.39 0h.01m1.99 0h.01m2.79 0h.01m1.59 0h.01m3.19 0h.01m6.99 0h.01m-22.01 .2h.01m1.79 0h.01m1.19 0h.01m1.59 0h.01m3.39 0h.01m1.79 0h.01m-10.41 .2h.01m.79 0h.01m1.99 0h.01m7.59 0h.01m.79 0h.01m1.59 0h.01m13.79 0h.01m-26.01 .2h.01m2.79 0h.01m2.59 0h.01m4.19 0h.01m2.59 0h.01m.39 0h.01m9.19 0h.01m-22.41 .2h.01m.39 0h.01m2.79 0h.01m2.59 0h.01m3.39 0h.01m.19 0h.01m.19 0h.01m4.59 0h.01m.59 0h.01m-15.41 .2h.01m1.79 0h.01m3.19 0h.01m.79 0h.01m5.59 0h.01m.99 0h.01m2.19 0h.01m23.19 0h.01m-33.21 .2h.01m.79 0h.01m.99 0h.01m6.99 0h.01m-13.21 .2h.01m1.59 0h.01m3.19 0h.01m3.59 0h.01m4.99 0h.01m7.39 0h.01m-15.61 .2h.01m2.39 0h.01m1.19 0h.01m1.59 0h.01m17.59 0h.01m-26.81 .2h.01m.19 0h.01m7.59 0h.01m5.79 0h.01m.19 0h.01m-10.81 .2h.01m4.79 0h.01m-9.81 .2h.01m3.39 0h.01m1.59 0h.01m1.59 0h.01m.59 0h.01m1.19 0h.01m12.99 0h.01m18.19 0h.01m-37.41 .2h.01m1.59 0h.01m1.99 0h.01m.59 0h.01m1.59 0h.01m3.59 0h.01m9.39 0h.01m-20.81 .2h.01m2.19 0h.01m5.39 0h.01m3.39 0h.01m.99 0h.01m1.59 0h.01m-9.01 .2h.01m.79 0h.01m.79 0h.01m12.79 0h.01m-18.21 .2h.01m.39 0h.01m1.99 0h.01m.99 0h.01m2.39 0h.01m4.99 0h.01m3.39 0h.01m6.59 0h.01m6.59 0h.01m-24.61 .2h.01m2.59 0h.01m2.39 0h.01m.99 0h.01m3.99 0h.01m.19 0h.01m.19 0h.01m22.19 0h.01m34.59 0h.01m-72.41 .2h.01m3.19 0h.01m2.39 0h.01m.99 0h.01m1.99 0h.01m.39 0h.01m2.39 0h.01m2.99 0h.01m1.59 0h.01m-13.01 .2h.01m1.19 0h.01m3.19 0h.01m1.19 0h.01m1.39 0h.01m2.79 0h.01m-11.21 .2h.01m2.59 0h.01m.59 0h.01m1.79 0h.01m.19 0h.01m20.79 0h.01m-25.21 .2h.01m.59 0h.01m1.19 0h.01m.59 0h.01m1.79 0h.01m.79 0h.01m4.19 0h.01m19.39 0h.01m-31.21 .2h.01m3.59 0h.01m.99 0h.01m.79 0h.01m1.19 0h.01m.39 0h.01m2.59 0h.01m4.79 0h.01m11.39 0h.01m4.99 0h.01m-27.01 .2h.01m3.19 0h.01m.59 0h.01m.19 0h.01m.19 0h.01m4.19 0h.01m.19 0h.01m3.99 0h.01m-13.41 .2h.01m1.79 0h.01m.99 0h.01m.19 0h.01m.39 0h.01m1.99 0h.01m1.99 0h.01m2.19 0h.01m6.39 0h.01m4.39 0h.01m-16.81 .2h.01m.59 0h.01m1.19 0h.01m.59 0h.01m1.99 0h.01m1.59 0h.01m1.39 0h.01m9.59 0h.01m4.99 0h.01m-25.21 .2h.01m2.99 0h.01m5.39 0h.01m4.59 0h.01m.79 0h.01m7.59 0h.01m10.79 0h.01m-31.21 .2h.01m2.59 0h.01m.39 0h.01m1.79 0h.01m.39 0h.01m1.19 0h.01m2.19 0h.01m1.19 0h.01m.39 0h.01m1.19 0h.01m5.99 0h.01m-21.81 .2h.01m2.99 0h.01m1.79 0h.01m1.59 0h.01m1.19 0h.01m.19 0h.01m6.79 0h.01m6.99 0h.01m-19.61 .2h.01m2.59 0h.01m.59 0h.01m.19 0h.01m6.59 0h.01m2.59 0h.01m1.39 0h.01m42.59 0h.01m-55.81 .2h.01m.59 0h.01m1.99 0h.01m2.59 0h.01m.39 0h.01m12.59 0h.01m-17.81 .2h.01m.59 0h.01m1.39 0h.01m.19 0h.01m.19 0h.01m.39 0h.01m2.59 0h.01m2.19 0h.01m3.79 0h.01m2.79 0h.01m-15.21 .2h.01m2.39 0h.01m.59 0h.01m.39 0h.01m.99 0h.01m.19 0h.01m3.39 0h.01m.79 0h.01m.19 0h.01m.39 0h.01m1.99 0h.01m.79 0h.01m5.19 0h.01m-12.81 .2h.01m.19 0h.01m.79 0h.01m.59 0h.01m-5.61 .2h.01m.79 0h.01m.39 0h.01m.39 0h.01m.19 0h.01m2.79 0h.01m1.39 0h.01m.99 0h.01m3.59 0h.01m.79 0h.01m48.39 0h.01m-58.41 .2h.01m.19 0h.01m3.19 0h.01m5.19 0h.01m.19 0h.01m4.59 0h.01m1.19 0h.01m1.99 0h.01m-18.81 .2h.01m.19 0h.01m.19 0h.01m.39 0h.01m1.79 0h.01m1.39 0h.01m1.79 0h.01m1.19 0h.01m1.59 0h.01m4.39 0h.01m.59 0h.01m.39 0h.01m.99 0h.01m.19 0h.01m7.39 0h.01m-21.61 .2h.01m.39 0h.01m2.99 0h.01m.59 0h.01m.59 0h.01m1.59 0h.01m.59 0h.01m1.59 0h.01m.79 0h.01m2.99 0h.01m3.79 0h.01m.79 0h.01m-17.01 .2h.01m1.19 0h.01m1.39 0h.01m.39 0h.01m.59 0h.01m.79 0h.01m.39 0h.01m.99 0h.01m2.99 0h.01m.19 0h.01m1.59 0h.01m4.59 0h.01m8.19 0h.01m-19.61 .2h.01m.19 0h.01m.79 0h.01m.39 0h.01m.79 0h.01m2.79 0h.01m2.59 0h.01m.39 0h.01m.39 0h.01m4.79 0h.01m-16.41 .2h.01m.39 0h.01m2.39 0h.01m.39 0h.01m.19 0h.01m.39 0h.01m.99 0h.01m1.59 0h.01m.99 0h.01m.79 0h.01m4.19 0h.01m.39 0h.01m3.39 0h.01m34.99 0h.01m-52.41 .2h.01m.59 0h.01m1.59 0h.01m.39 0h.01m.39 0h.01m2.19 0h.01m.19 0h.01m4.39 0h.01m4.19 0h.01m6.19 0h.01m-19.41 .2h.01m1.99 0h.01m.19 0h.01m.19 0h.01m.39 0h.01m.99 0h.01m3.39 0h.01m4.39 0h.01m-10.01 .2h.01m.59 0h.01m1.19 0h.01m.59 0h.01m1.39 0h.01m.19 0h.01m.19 0h.01m.59 0h.01m1.39 0h.01m4.39 0h.01m4.19 0h.01m-17.41 .2h.01m3.19 0h.01m1.99 0h.01m3.19 0h.01m.19 0h.01m4.59 0h.01m1.99 0h.01m13.79 0h.01m-28.61 .2h.01m1.79 0h.01m.39 0h.01m.39 0h.01m.59 0h.01m.79 0h.01m.19 0h.01m.59 0h.01m.79 0h.01m1.59 0h.01m.19 0h.01m3.39 0h.01m7.39 0h.01m-19.81 .2h.01m1.39 0h.01m3.99 0h.01m2.39 0h.01m.39 0h.01m.59 0h.01m.99 0h.01m.39 0h.01m.59 0h.01m.99 0h.01m1.99 0h.01m2.59 0h.01m12.39 0h.01m1.39 0h.01m-30.01 .2h.01m2.59 0h.01m.39 0h.01m1.59 0h.01m1.59 0h.01m4.59 0h.01m.39 0h.01m.79 0h.01m1.99 0h.01m.39 0h.01m.79 0h.01m1.59 0h.01m-13.81 .2h.01m1.39 0h.01m1.39 0h.01m2.59 0h.01m.59 0h.01m.59 0h.01m.19 0h.01m1.19 0h.01m16.99 0h.01m-24.41 .2h.01m.39 0h.01m.99 0h.01m.99 0h.01m.19 0h.01m.79 0h.01m1.79 0h.01m.19 0h.01m2.39 0h.01m3.19 0h.01m9.39 0h.01m-24.01 .2h.01m.19 0h.01m.79 0h.01m.79 0h.01m1.19 0h.01m.39 0h.01m.39 0h.01m.59 0h.01m1.19 0h.01m.59 0h.01m1.39 0h.01m.59 0h.01m1.19 0h.01m1.99 0h.01m.59 0h.01m.79 0h.01m3.19 0h.01m.59 0h.01m2.79 0h.01m-17.21 .2h.01m2.79 0h.01m.59 0h.01m.59 0h.01m.39 0h.01m1.99 0h.01m2.39 0h.01m.39 0h.01m7.59 0h.01m7.19 0h.01m-27.21 .2h.01m.39 0h.01m.39 0h.01m3.59 0h.01m.39 0h.01m.19 0h.01m.79 0h.01m.19 0h.01m.19 0h.01m.79 0h.01m.59 0h.01m.59 0h.01m.39 0h.01m1.19 0h.01m.19 0h.01m2.59 0h.01m.19 0h.01m.19 0h.01m.39 0h.01m.79 0h.01m.19 0h.01m2.39 0h.01m29.79 0h.01m-40.21 .2h.01m.59 0h.01m.19 0h.01m1.39 0h.01m.79 0h.01m.59 0h.01m.59 0h.01m.19 0h.01m1.99 0h.01m.39 0h.01m.79 0h.01m2.79 0h.01m3.39 0h.01m-18.41 .2h.01m.19 0h.01m1.39 0h.01m2.39 0h.01m1.19 0h.01m.19 0h.01m5.79 0h.01m1.99 0h.01m.59 0h.01m5.39 0h.01m7.19 0h.01m22.59 0h.01m-48.21 .2h.01m1.39 0h.01m.59 0h.01m1.59 0h.01m.19 0h.01m1.79 0h.01m1.79 0h.01m.19 0h.01m1.99 0h.01m.39 0h.01m.79 0h.01m2.79 0h.01m2.99 0h.01m27.19 0h.01m-41.81 .2h.01m.79 0h.01m.39 0h.01m.99 0h.01m1.79 0h.01m.39 0h.01m.79 0h.01m.79 0h.01m.99 0h.01m.39 0h.01m1.19 0h.01m.79 0h.01m4.79 0h.01m1.99 0h.01m2.19 0h.01m.79 0h.01m-22.21 .2h.01m2.59 0h.01m.39 0h.01m1.99 0h.01m.19 0h.01m1.19 0h.01m.19 0h.01m1.19 0h.01m1.39 0h.01m.99 0h.01m1.99 0h.01m.79 0h.01m5.39 0h.01m-18.61 .2h.01m1.59 0h.01m1.99 0h.01m3.59 0h.01m1.79 0h.01m3.39 0h.01m14.39 0h.01m-26.21 .2h.01m1.39 0h.01m.19 0h.01m.59 0h.01m.79 0h.01m.19 0h.01m1.19 0h.01m.19 0h.01m.39 0h.01m1.39 0h.01m1.59 0h.01m.39 0h.01m.19 0h.01m5.79 0h.01m.39 0h.01m2.39 0h.01m2.79 0h.01m.59 0h.01m.39 0h.01m9.19 0h.01m-28.41 .2h.01m1.19 0h.01m1.79 0h.01m.79 0h.01m2.19 0h.01m.59 0h.01m2.19 0h.01m1.39 0h.01m2.59 0h.01m6.59 0h.01m5.79 0h.01m-26.41 .2h.01m.39 0h.01m2.39 0h.01m1.59 0h.01m3.19 0h.01m.19 0h.01m.39 0h.01m.19 0h.01m.99 0h.01m.19 0h.01m.59 0h.01m.19 0h.01m2.59 0h.01m.99 0h.01m2.19 0h.01m1.59 0h.01m11.19 0h.01m-31.21 .2h.01m2.39 0h.01m.79 0h.01m2.19 0h.01m.79 0h.01m.59 0h.01m.79 0h.01m.39 0h.01m1.59 0h.01m1.19 0h.01m.99 0h.01m.39 0h.01m.79 0h.01m5.19 0h.01m1.39 0h.01m-17.21 .2h.01m.19 0h.01m2.79 0h.01m.59 0h.01m.39 0h.01m1.59 0h.01m.99 0h.01m.19 0h.01m.59 0h.01m3.59 0h.01m.99 0h.01m1.39 0h.01m.19 0h.01m.19 0h.01m.99 0h.01m.39 0h.01m4.39 0h.01m6.79 0h.01m15.59 0h.01m-42.21 .2h.01m1.99 0h.01m2.99 0h.01m.19 0h.01m.19 0h.01m1.19 0h.01m2.19 0h.01m1.99 0h.01m4.39 0h.01m.99 0h.01m2.59 0h.01m.39 0h.01m13.39 0h.01m-31.81 .2h.01m.59 0h.01m.39 0h.01m.19 0h.01m.59 0h.01m.59 0h.01m.19 0h.01m.19 0h.01m1.79 0h.01m.39 0h.01m.39 0h.01m.39 0h.01m4.99 0h.01m.39 0h.01m2.99 0h.01m.19 0h.01m-16.61 .2h.01m.39 0h.01m3.59 0h.01m1.39 0h.01m.39 0h.01m.19 0h.01m1.59 0h.01m.59 0h.01m1.19 0h.01m.79 0h.01m5.79 0h.01m-15.41 .2h.01m1.99 0h.01m.19 0h.01m.99 0h.01m.19 0h.01m.59 0h.01m1.19 0h.01m1.19 0h.01m.19 0h.01m.19 0h.01m1.39 0h.01m1.79 0h.01m.39 0h.01m.59 0h.01m2.19 0h.01m1.19 0h.01m4.59 0h.01m7.59 0h.01m-24.81 .2h.01m.39 0h.01m.19 0h.01m.59 0h.01m.39 0h.01m1.19 0h.01m2.99 0h.01m.39 0h.01m.19 0h.01m1.19 0h.01m6.19 0h.01m13.19 0h.01m54.39 0h.01m-83.61 .2h.01m.59 0h.01m.99 0h.01m1.39 0h.01m.19 0h.01m.99 0h.01m1.39 0h.01m1.79 0h.01m.39 0h.01m.39 0h.01m.99 0h.01m1.39 0h.01m2.99 0h.01m19.79 0h.01m.99 0h.01m-34.01 .2h.01m.19 0h.01m2.19 0h.01m.79 0h.01m.19 0h.01m.19 0h.01m.59 0h.01m2.19 0h.01m1.39 0h.01m.79 0h.01m.19 0h.01m1.39 0h.01m.19 0h.01m2.59 0h.01m.19 0h.01m3.99 0h.01m62.99 0h.01m-81.61 .2h.01m.79 0h.01m.99 0h.01m.39 0h.01m.59 0h.01m1.19 0h.01m.19 0h.01m.79 0h.01m.59 0h.01m1.19 0h.01m1.79 0h.01m.19 0h.01m.99 0h.01m2.39 0h.01m6.79 0h.01m.59 0h.01m3.99 0h.01m-22.61 .2h.01m.19 0h.01m.39 0h.01m.79 0h.01m.79 0h.01m.79 0h.01m.19 0h.01m.19 0h.01m1.59 0h.01m.99 0h.01m.79 0h.01m3.19 0h.01m.19 0h.01m.99 0h.01m1.59 0h.01m.19 0h.01m1.19 0h.01m.99 0h.01m.79 0h.01m1.39 0h.01m2.99 0h.01m2.79 0h.01m11.39 0h.01m-34.81 .2h.01m.59 0h.01m.79 0h.01m.99 0h.01m2.19 0h.01m.59 0h.01m.19 0h.01m2.39 0h.01m.79 0h.01m4.99 0h.01m1.99 0h.01m1.59 0h.01m2.99 0h.01m8.39 0h.01m-27.61 .2h.01m1.19 0h.01m.59 0h.01m1.59 0h.01m.19 0h.01m.19 0h.01m.39 0h.01m1.19 0h.01m2.39 0h.01m2.79 0h.01m2.79 0h.01m2.59 0h.01m.99 0h.01m.59 0h.01m-17.81 .2h.01m1.79 0h.01m.99 0h.01m1.59 0h.01m.19 0h.01m.99 0h.01m.39 0h.01m.39 0h.01m1.59 0h.01m.59 0h.01m2.59 0h.01m1.39 0h.01m2.39 0h.01m.99 0h.01m4.19 0h.01m26.79 0h.01m-47.61 .2h.01m1.59 0h.01m.19 0h.01m1.59 0h.01m.79 0h.01m.59 0h.01m1.19 0h.01m.39 0h.01m.39 0h.01m.19 0h.01m.19 0h.01m1.59 0h.01m.99 0h.01m.19 0h.01m7.79 0h.01m.39 0h.01m9.59 0h.01m7.39 0h.01m16.99 0h.01m12.59 0h.01m-64.01 .2h.01m.59 0h.01m.19 0h.01m.39 0h.01m.99 0h.01m1.39 0h.01m.19 0h.01m.19 0h.01m.19 0h.01m.39 0h.01m.79 0h.01m.19 0h.01m.59 0h.01m.59 0h.01m.19 0h.01m.59 0h.01m1.79 0h.01m.19 0h.01m3.99 0h.01m3.59 0h.01m1.19 0h.01m5.59 0h.01m-25.61 .2h.01m.99 0h.01m.99 0h.01m.99 0h.01m.19 0h.01m.59 0h.01m.19 0h.01m1.39 0h.01m.99 0h.01m.79 0h.01m1.19 0h.01m.19 0h.01m.79 0h.01m1.39 0h.01m.19 0h.01m.99 0h.01m.19 0h.01m4.39 0h.01m.39 0h.01m2.39 0h.01m4.19 0h.01m3.59 0h.01m27.19 0h.01m-53.61 .2h.01m1.19 0h.01m.39 0h.01m.39 0h.01m.39 0h.01m.39 0h.01m.79 0h.01m1.19 0h.01m.39 0h.01m.19 0h.01m.19 0h.01m.79 0h.01m.99 0h.01m.59 0h.01m1.99 0h.01m.19 0h.01m.19 0h.01m7.79 0h.01m.39 0h.01m11.99 0h.01m2.39 0h.01m-34.41 .2h.01m2.19 0h.01m2.99 0h.01m.39 0h.01m.19 0h.01m1.99 0h.01m.19 0h.01m.39 0h.01m.19 0h.01m1.19 0h.01m.99 0h.01m.19 0h.01m.39 0h.01m1.99 0h.01m2.39 0h.01m1.59 0h.01m.19 0h.01m1.99 0h.01m1.19 0h.01m1.79 0h.01m1.19 0h.01m19.39 0h.01m63.99 0h.01m-105.01 .2h.01m.59 0h.01m.39 0h.01m.19 0h.01m.79 0h.01m.59 0h.01m.19 0h.01m.39 0h.01m.59 0h.01m.79 0h.01m.79 0h.01m.59 0h.01m.79 0h.01m.39 0h.01m1.59 0h.01m.39 0h.01m.39 0h.01m.79 0h.01m.39 0h.01m.99 0h.01m10.59 0h.01m1.39 0h.01m-23.41 .2h.01m2.19 0h.01m.19 0h.01m.79 0h.01m.59 0h.01m.39 0h.01m4.79 0h.01m.59 0h.01m3.59 0h.01m-13.01 .2h.01m.19 0h.01m.99 0h.01m.39 0h.01m.19 0h.01m.99 0h.01m.99 0h.01m.59 0h.01m.19 0h.01m.39 0h.01m.39 0h.01m.59 0h.01m.19 0h.01m.39 0h.01m1.19 0h.01m1.99 0h.01m.19 0h.01m1.19 0h.01m.59 0h.01m.99 0h.01m.19 0h.01m3.79 0h.01m22.59 0h.01m-40.61 .2h.01m.99 0h.01m1.59 0h.01m.59 0h.01m.19 0h.01m.19 0h.01m.79 0h.01m.19 0h.01m.59 0h.01m.39 0h.01m.19 0h.01m1.19 0h.01m.19 0h.01m.19 0h.01m.79 0h.01m.19 0h.01m1.39 0h.01m.19 0h.01m2.99 0h.01m43.19 0h.01m-54.61 .2h.01m.19 0h.01m.39 0h.01m.59 0h.01m.79 0h.01m1.39 0h.01m.59 0h.01m.99 0h.01m.79 0h.01m.19 0h.01m.99 0h.01m.39 0h.01m.39 0h.01m1.19 0h.01m.99 0h.01m4.19 0h.01m9.19 0h.01m23.79 0h.01m-49.61 .2h.01m2.79 0h.01m1.39 0h.01m.39 0h.01m1.99 0h.01m.19 0h.01m1.19 0h.01m2.19 0h.01m.19 0h.01m1.99 0h.01m.19 0h.01m.19 0h.01m2.59 0h.01m.59 0h.01m2.79 0h.01m1.99 0h.01m1.19 0h.01m.99 0h.01m1.19 0h.01m4.79 0h.01m7.19 0h.01m1.39 0h.01m-34.21 .2h.01m.19 0h.01m.99 0h.01m.99 0h.01m1.19 0h.01m.39 0h.01m.59 0h.01m.39 0h.01m1.59 0h.01m.59 0h.01m2.59 0h.01m2.59 0h.01m6.19 0h.01m.99 0h.01m43.79 0h.01m-64.61 .2h.01m.19 0h.01m.99 0h.01m.79 0h.01m.99 0h.01m.79 0h.01m.79 0h.01m.59 0h.01m.79 0h.01m.79 0h.01m.39 0h.01m.39 0h.01m1.99 0h.01m1.39 0h.01m.59 0h.01m4.19 0h.01m4.19 0h.01m9.19 0h.01m-31.01 .2h.01m.39 0h.01m.39 0h.01m.79 0h.01m.19 0h.01m.99 0h.01m.19 0h.01m.99 0h.01m1.99 0h.01m.19 0h.01m.39 0h.01m1.19 0h.01m.19 0h.01m1.99 0h.01m.99 0h.01m.59 0h.01m5.59 0h.01m3.39 0h.01m1.79 0h.01m5.19 0h.01m1.79 0h.01m3.79 0h.01m20.19 0h.01m-53.61 .2h.01m1.79 0h.01m2.59 0h.01m.99 0h.01m.59 0h.01m1.39 0h.01m1.59 0h.01m1.19 0h.01m.79 0h.01m.79 0h.01m.79 0h.01m1.59 0h.01m2.39 0h.01m3.19 0h.01m3.59 0h.01m.19 0h.01m3.19 0h.01m-26.01 .2h.01m.59 0h.01m.19 0h.01m.59 0h.01m.19 0h.01m.19 0h.01m2.59 0h.01m1.39 0h.01m.79 0h.01m.19 0h.01m.39 0h.01m.19 0h.01m.99 0h.01m.19 0h.01m.99 0h.01m.59 0h.01m1.79 0h.01m.19 0h.01m9.39 0h.01m9.79 0h.01m.59 0h.01m1.79 0h.01m13.99 0h.01m-47.61 .2h.01m.59 0h.01m.59 0h.01m.39 0h.01m.39 0h.01m.79 0h.01m.39 0h.01m.59 0h.01m.19 0h.01m.19 0h.01m.19 0h.01m.79 0h.01m.59 0h.01m.59 0h.01m.59 0h.01m.19 0h.01m.19 0h.01m.19 0h.01m1.19 0h.01m.99 0h.01m.39 0h.01m1.79 0h.01m4.59 0h.01m4.99 0h.01m26.39 0h.01m-45.61 .2h.01m.19 0h.01m.19 0h.01m1.59 0h.01m.39 0h.01m.19 0h.01m.39 0h.01m.39 0h.01m.39 0h.01m1.79 0h.01m.19 0h.01m.59 0h.01m1.19 0h.01m.79 0h.01m2.19 0h.01m4.19 0h.01m.79 0h.01m6.19 0h.01m11.79 0h.01m-36.21 .2h.01m1.99 0h.01m.39 0h.01m.39 0h.01m2.19 0h.01m.59 0h.01m1.19 0h.01m.79 0h.01m.39 0h.01m.59 0h.01m.59 0h.01m1.59 0h.01m.19 0h.01m3.39 0h.01m.39 0h.01m.19 0h.01m5.39 0h.01m.19 0h.01m1.99 0h.01m-20.61 .2h.01m.79 0h.01m.19 0h.01m.39 0h.01m.59 0h.01m.59 0h.01m.19 0h.01m.19 0h.01m.19 0h.01m.59 0h.01m1.19 0h.01m.19 0h.01m.79 0h.01m.19 0h.01m.19 0h.01m2.79 0h.01m.59 0h.01m1.39 0h.01m.59 0h.01m1.39 0h.01m.19 0h.01m3.39 0h.01m21.39 0h.01m-39.01 .2h.01m.19 0h.01m.59 0h.01m.19 0h.01m.39 0h.01m.19 0h.01m2.79 0h.01m.59 0h.01m1.39 0h.01m.39 0h.01m.39 0h.01m.19 0h.01m.39 0h.01m.99 0h.01m1.79 0h.01m9.59 0h.01m30.79 0h.01m-52.61 .2h.01m.79 0h.01m.59 0h.01m.39 0h.01m.59 0h.01m1.19 0h.01m.99 0h.01m.19 0h.01m.39 0h.01m.59 0h.01m3.39 0h.01m.19 0h.01m1.19 0h.01m.79 0h.01m1.19 0h.01m.79 0h.01m1.39 0h.01m.99 0h.01m.39 0h.01m9.99 0h.01m1.39 0h.01m6.39 0h.01m39.19 0h.01m-71.81 .2h.01m.79 0h.01m.39 0h.01m.39 0h.01m.39 0h.01m.19 0h.01m.19 0h.01m2.19 0h.01m.39 0h.01m1.59 0h.01m.19 0h.01m.59 0h.01m1.39 0h.01m.99 0h.01m1.19 0h.01m1.59 0h.01m.79 0h.01m28.59 0h.01m-43.01 .2h.01m1.99 0h.01m1.19 0h.01m.79 0h.01m.99 0h.01m.39 0h.01m1.59 0h.01m.19 0h.01m1.79 0h.01m.19 0h.01m2.59 0h.01m.19 0h.01m.59 0h.01m.79 0h.01m2.59 0h.01m1.79 0h.01m.19 0h.01m.59 0h.01m.79 0h.01m7.19 0h.01m-24.01 .2h.01m.59 0h.01m.19 0h.01m.19 0h.01m.59 0h.01m1.39 0h.01m.19 0h.01m1.19 0h.01m.79 0h.01m.39 0h.01m3.19 0h.01m.19 0h.01m.59 0h.01m.19 0h.01m3.19 0h.01m1.99 0h.01m1.39 0h.01m.59 0h.01m1.79 0h.01m11.39 0h.01m8.79 0h.01m-39.21 .2h.01m1.19 0h.01m.39 0h.01m.39 0h.01m.19 0h.01m.39 0h.01m.19 0h.01m.19 0h.01m1.59 0h.01m1.39 0h.01m.59 0h.01m.39 0h.01m.59 0h.01m.59 0h.01m.59 0h.01m1.99 0h.01m8.99 0h.01m10.59 0h.01m15.99 0h.01m-50.41 .2h.01m3.59 0h.01m.59 0h.01m.99 0h.01m.59 0h.01m.39 0h.01m.99 0h.01m.79 0h.01m.19 0h.01m.99 0h.01m.39 0h.01m1.19 0h.01m.19 0h.01m.19 0h.01m1.79 0h.01m.19 0h.01m.59 0h.01m.39 0h.01m.59 0h.01m.19 0h.01m11.19 0h.01m-24.41 .2h.01m.59 0h.01m.99 0h.01m.59 0h.01m.99 0h.01m1.19 0h.01m.39 0h.01m1.39 0h.01m.59 0h.01m.79 0h.01m.39 0h.01m.39 0h.01m1.79 0h.01m.39 0h.01m.19 0h.01m1.19 0h.01m.79 0h.01m1.59 0h.01m3.79 0h.01m3.19 0h.01m20.39 0h.01m92.19 0h.01m-133.61 .2h.01m.99 0h.01m.99 0h.01m.19 0h.01m1.59 0h.01m.59 0h.01m.19 0h.01m.79 0h.01m.19 0h.01m.59 0h.01m.19 0h.01m.19 0h.01m.39 0h.01m.19 0h.01m.99 0h.01m.79 0h.01m.59 0h.01m.79 0h.01m1.59 0h.01m.79 0h.01m1.99 0h.01m2.59 0h.01m-17.21 .2h.01m1.79 0h.01m.19 0h.01m1.19 0h.01m.59 0h.01m.59 0h.01m.39 0h.01m.39 0h.01m.19 0h.01m.59 0h.01m.79 0h.01m1.39 0h.01m1.19 0h.01m.39 0h.01m.19 0h.01m.39 0h.01m1.19 0h.01m2.79 0h.01m11.39 0h.01m-26.41 .2h.01m1.79 0h.01m.99 0h.01m.39 0h.01m1.59 0h.01m.59 0h.01m.19 0h.01m.59 0h.01m.19 0h.01m.19 0h.01m.19 0h.01m.39 0h.01m.19 0h.01m.19 0h.01m1.19 0h.01m.39 0h.01m5.19 0h.01m.19 0h.01m3.79 0h.01m10.19 0h.01m7.79 0h.01m-36.61 .2h.01m.79 0h.01m.99 0h.01m.39 0h.01m.99 0h.01m.99 0h.01m.99 0h.01m.39 0h.01m.19 0h.01m2.59 0h.01m1.39 0h.01m.19 0h.01m.99 0h.01m4.19 0h.01m3.39 0h.01m7.59 0h.01m11.59 0h.01m-36.81 .2h.01m1.19 0h.01m.19 0h.01m.19 0h.01m.19 0h.01m.19 0h.01m.19 0h.01m.19 0h.01m1.19 0h.01m.59 0h.01m1.59 0h.01m.19 0h.01m2.59 0h.01m.59 0h.01m6.39 0h.01m4.99 0h.01m-22.41 .2h.01m1.99 0h.01m2.19 0h.01m.39 0h.01m.79 0h.01m.59 0h.01m.39 0h.01m.39 0h.01m.59 0h.01m.79 0h.01m.19 0h.01m.39 0h.01m.39 0h.01m.19 0h.01m.99 0h.01m.39 0h.01m3.99 0h.01m.99 0h.01m.99 0h.01m1.99 0h.01m1.19 0h.01m7.79 0h.01m4.59 0h.01m6.99 0h.01m68.19 0h.01m-106.81 .2h.01m.99 0h.01m1.79 0h.01m1.59 0h.01m.59 0h.01m.39 0h.01m.39 0h.01m.39 0h.01m.19 0h.01m1.19 0h.01m.19 0h.01m.19 0h.01m.39 0h.01m.79 0h.01m.59 0h.01m.79 0h.01m1.39 0h.01m.19 0h.01m.79 0h.01m.39 0h.01m1.99 0h.01m.19 0h.01m3.99 0h.01m4.39 0h.01m13.39 0h.01m-37.21 .2h.01m.99 0h.01m.99 0h.01m.19 0h.01m.99 0h.01m1.99 0h.01m.19 0h.01m.59 0h.01m.99 0h.01m1.39 0h.01m.39 0h.01m.39 0h.01m6.79 0h.01m.79 0h.01m4.59 0h.01m24.59 0h.01m20.79 0h.01m-66.61 .2h.01m.19 0h.01m.19 0h.01m.79 0h.01m.99 0h.01m.59 0h.01m.59 0h.01m.59 0h.01m.19 0h.01m.59 0h.01m1.19 0h.01m.99 0h.01m.19 0h.01m.19 0h.01m.19 0h.01m1.19 0h.01m2.19 0h.01m2.39 0h.01m.99 0h.01m2.79 0h.01m.59 0h.01m4.19 0h.01m-20.41 .2h.01m1.19 0h.01m.59 0h.01m.59 0h.01m1.99 0h.01m2.39 0h.01m.19 0h.01m.79 0h.01m.39 0h.01m.19 0h.01m5.79 0h.01m16.39 0h.01m-28.81 .2h.01m.19 0h.01m.79 0h.01m1.19 0h.01m.39 0h.01m.19 0h.01m.99 0h.01m1.59 0h.01m1.99 0h.01m4.39 0h.01m8.39 0h.01m-24.01 .2h.01m1.59 0h.01m2.39 0h.01m1.19 0h.01m.59 0h.01m.19 0h.01m.79 0h.01m.19 0h.01m1.59 0h.01m.39 0h.01m.39 0h.01m5.19 0h.01m.99 0h.01m2.79 0h.01m7.79 0h.01m-26.41 .2h.01m.59 0h.01m.39 0h.01m1.19 0h.01m2.39 0h.01m.79 0h.01m1.79 0h.01m2.79 0h.01m1.79 0h.01m.39 0h.01m2.59 0h.01m1.79 0h.01m6.39 0h.01m4.19 0h.01m17.99 0h.01m-43.41 .2h.01m2.79 0h.01m1.19 0h.01m.19 0h.01m.99 0h.01m.99 0h.01m1.39 0h.01m1.79 0h.01m2.39 0h.01m.39 0h.01m6.19 0h.01m3.19 0h.01m7.59 0h.01m3.59 0h.01m14.19 0h.01m-47.61 .2h.01m3.79 0h.01m1.19 0h.01m.59 0h.01m.59 0h.01m.79 0h.01m.79 0h.01m1.59 0h.01m3.19 0h.01m7.79 0h.01m38.39 0h.01"/><path class="rl" d="M505.97 306.25L641.58 306.25"/><path class="ax" d="M503.05 202V320.1M502.45 319.5H679"/><path class="tk" d="M499.75 319.5H503.05M499.75 280.53H503.05M499.75 241.57H503.05M499.75 202.6H503.05M503.05 319.5V323M561.5 319.5V323M619.95 319.5V323M678.4 319.5V323"/><text class="tl" text-anchor="end" transform="translate(498.05 322.65) scale(1.19 1)">0</text><text class="tl" text-anchor="end" transform="translate(498.05 283.68) scale(1.19 1)">10</text><text class="tl" text-anchor="end" transform="translate(498.05 244.72) scale(1.19 1)">20</text><text class="tl" text-anchor="end" transform="translate(498.05 205.75) scale(1.19 1)">30</text><text class="tl" text-anchor="middle" transform="translate(503.25 334.95) scale(1.19 1)">0</text><text class="tl" text-anchor="middle" transform="translate(561.7 334.95) scale(1.19 1)">10</text><text class="tl" text-anchor="middle" transform="translate(620.15 334.95) scale(1.19 1)">20</text><text class="tl" text-anchor="middle" transform="translate(678.6 334.95) scale(1.19 1)">30</text><text class="ti" text-anchor="middle" transform="translate(591.02 350.5) scale(1.23 1)">PRL (IU/L)</text><text class="ti" text-anchor="middle" transform="translate(478.05 258.55) rotate(-90) scale(1.23 1)">AMH (ng/ml)</text><text class="an" transform="translate(603 222) scale(1.2 1)">P = 0.921</text><text class="an" transform="translate(603 233.1) scale(1.2 1)">R =-0.002</text></g>
<g><path class="pt" d="M82 423.8h.01m31.79 0h.01m7.19 0h.01m-36.21 .4h.01m39.19 12h.01m-18.21 7h.01m-23.01 1.4h.01m-9.41 1h.01m17.39 3.6h.01m32.99 4.4h.01m-25.01 .6h.01m35.99 0h.01m-56.21 .2h.01m18.59 .8h.01m14.59 .2h.01m12.39 .8h.01m-40.41 .2h.01m4.39 .2h.01m12.99 0h.01m20.59 1h.01m-17.01 .8h.01m-21.01 .6h.01m18.79 .6h.01m-43.41 .8h.01m162.19 0h.01m-152.61 .4h.01m23.39 .2h.01m2.99 .6h.01m124.39 0h.01m-144.01 .2h.01m-4.41 .2h.01m-2.81 .4h.01m16.99 .2h.01m61.59 .6h.01m-49.01 .2h.01m11.59 0h.01m-7.21 .2h.01m.79 .4h.01m-9.81 .4h.01m20.59 .2h.01m4.59 0h.01m-48.61 .2h.01m14.39 .4h.01m-25.21 .2h.01m28.79 .4h.01m-6.01 .2h.01m18.99 .2h.01m8.19 0h.01m-29.61 .2h.01m7.19 0h.01m33.59 0h.01m-40.41 .4h.01m46.99 .2h.01m.59 0h.01m-50.81 .2h.01m10.99 .4h.01m14.39 0h.01m56.59 0h.01m-77.81 .2h.01m3.39 .2h.01m2.99 0h.01m37.79 0h.01m-32.61 .6h.01m-14.01 .2h.01m75.59 .2h.01m-20.41 .2h.01m27.39 0h.01m-58.61 .4h.01m21.39 0h.01m-40.01 .2h.01m8.59 0h.01m-24.01 .2h.01m-3.01 .2h.01m10.79 0h.01m4.39 0h.01m18.99 .2h.01m1.19 .2h.01m5.99 .2h.01m.99 0h.01m-.01 .2h.01m-25.21 .2h.01m11.39 0h.01m.79 .2h.01m6.99 0h.01m-11.81 .2h.01m-13.01 .2h.01m-3.41 .2h.01m82.59 .4h.01m-52.81 .2h.01m18.99 .4h.01m28.99 0h.01m-49.61 .2h.01m6.99 0h.01m7.99 .2h.01m6.59 0h.01m25.79 0h.01m-43.81 .2h.01m23.99 0h.01m54.59 0h.01m-80.21 .4h.01m.99 .4h.01m12.39 0h.01m-3.81 .4h.01m49.39 0h.01m-77.61 .4h.01m16.59 .2h.01m-5.21 .4h.01m88.59 0h.01m-114.81 .4h.01m15.19 0h.01m2.99 0h.01m5.99 0h.01m60.19 0h.01m-86.01 .2h.01m34.59 0h.01m-33.21 .2h.01m10.79 0h.01m12.39 0h.01m9.39 .2h.01m19.79 0h.01m24.59 .2h.01m-65.01 .2h.01m7.99 0h.01m21.19 0h.01m-23.81 .2h.01m4.19 0h.01m58.19 0h.01m-57.01 .2h.01m17.39 0h.01m-7.81 .4h.01m28.79 .2h.01m-42.21 .2h.01m3.19 0h.01m32.79 0h.01m6.19 .2h.01m3.39 0h.01m-61.21 .2h.01m39.19 0h.01m-25.81 .2h.01m-4.81 .2h.01m19.79 0h.01m3.79 0h.01m10.99 .2h.01m-18.61 .2h.01m3.59 0h.01m27.59 0h.01m-70.41 .2h.01m64.39 0h.01m-41.81 .2h.01m69.19 0h.01m-55.61 .2h.01m10.59 0h.01m12.19 0h.01m-38.21 .4h.01m25.39 0h.01m9.39 0h.01m37.19 0h.01m-63.01 .2h.01m22.79 .2h.01m-9.01 .2h.01m-7.41 .2h.01m-11.61 .2h.01m2.19 0h.01m.39 0h.01m1.79 0h.01m14.39 0h.01m3.59 0h.01m6.99 0h.01m26.99 0h.01m37.79 0h.01m-94.21 .2h.01m30.59 0h.01m-29.01 .2h.01m13.39 0h.01m36.39 0h.01m-51.21 .2h.01m81.99 0h.01m-81.21 .2h.01m1.19 0h.01m31.99 0h.01m.99 0h.01m4.79 0h.01m.19 0h.01m37.59 0h.01m-69.61 .4h.01m12.79 0h.01m21.79 0h.01m78.19 0h.01m-128.01 .2h.01m7.19 0h.01m3.39 0h.01m1.99 0h.01m5.99 0h.01m4.79 0h.01m.79 0h.01m-25.81 .2h.01m3.39 0h.01m1.19 0h.01m14.79 0h.01m42.19 .2h.01m50.59 0h.01m-106.61 .2h.01m3.79 0h.01m7.19 0h.01m3.59 0h.01m22.79 0h.01m-27.61 .2h.01m2.39 0h.01m44.59 0h.01m-61.81 .2h.01m11.19 0h.01m11.19 0h.01m30.79 0h.01m11.99 0h.01m2.99 0h.01m.39 0h.01m-78.81 .2h.01m23.99 0h.01m2.99 0h.01m34.39 0h.01m2.59 0h.01m-47.81 .2h.01m26.79 0h.01m32.19 0h.01m-49.81 .2h.01m9.59 0h.01m3.99 0h.01m37.79 0h.01m38.99 0h.01m-105.81 .2h.01m13.59 0h.01m57.39 0h.01m-55.41 .2h.01m.19 0h.01m3.99 0h.01m30.79 0h.01m28.79 0h.01m-65.21 .2h.01m3.39 0h.01m31.39 0h.01m-30.81 .2h.01m12.19 0h.01m10.19 0h.01m12.59 0h.01m-57.21 .2h.01m1.19 0h.01m4.59 0h.01m27.79 0h.01m2.59 0h.01m-21.01 .2h.01m3.59 0h.01m2.39 0h.01m1.99 0h.01m7.39 0h.01m35.39 0h.01m10.99 0h.01m24.39 0h.01m1.39 0h.01m-91.41 .2h.01m22.19 0h.01m6.79 0h.01m20.59 0h.01m3.19 0h.01m-47.81 .2h.01m2.79 0h.01m2.79 0h.01m27.99 0h.01m58.39 0h.01m-107.41 .2h.01m11.99 0h.01m1.19 0h.01m18.39 0h.01m.19 0h.01m29.79 0h.01m-57.41 .2h.01m2.99 0h.01m7.39 0h.01m18.59 0h.01m5.59 0h.01m-38.01 .2h.01m20.59 0h.01m.59 0h.01m2.79 0h.01m.59 0h.01m8.59 0h.01m10.59 0h.01m32.59 0h.01m10.99 0h.01m-65.41 .2h.01m.59 0h.01m10.79 0h.01m20.59 0h.01m8.39 0h.01m-56.81 .2h.01m10.39 0h.01m76.99 0h.01m-62.81 .2h.01m27.19 0h.01m-71.61 .2h.01m42.19 0h.01m19.19 0h.01m21.19 0h.01m.39 0h.01m.59 0h.01m-57.01 .2h.01m13.79 0h.01m6.79 0h.01m14.19 0h.01m33.39 0h.01m-72.81 .2h.01m33.39 0h.01m4.79 0h.01m1.59 0h.01m11.79 0h.01m45.19 0h.01m-90.61 .2h.01m3.19 0h.01m4.59 0h.01m20.59 0h.01m3.99 0h.01m-54.61 .2h.01m21.99 0h.01m30.39 0h.01m38.39 0h.01m-85.21 .2h.01m16.39 0h.01m12.39 0h.01m7.19 0h.01m-26.61 .2h.01m25.79 0h.01m.99 0h.01m.39 0h.01m18.79 0h.01m3.79 0h.01m-47.61 .2h.01m.99 0h.01m5.99 0h.01m2.99 0h.01m7.39 0h.01m26.39 0h.01m1.59 0h.01m-50.61 .2h.01m.59 0h.01m14.99 0h.01m4.59 0h.01m.59 0h.01m2.59 0h.01m1.59 0h.01m13.99 0h.01m-2.81 .2h.01m3.99 0h.01m-52.81 .2h.01m12.19 0h.01m19.59 0h.01m61.19 0h.01m11.59 0h.01m22.19 0h.01m11.39 0h.01m-131.61 .2h.01m20.59 0h.01m16.59 0h.01m4.79 0h.01m12.39 0h.01m-49.41 .2h.01m20.79 0h.01m7.19 0h.01m4.79 0h.01m3.99 0h.01m2.99 0h.01m37.59 0h.01m1.19 0h.01m-82.01 .2h.01m9.39 0h.01m2.99 0h.01m3.99 0h.01m12.39 0h.01m33.79 0h.01m-55.41 .2h.01m4.39 0h.01m7.59 0h.01m1.99 0h.01m9.79 0h.01m1.79 0h.01m7.79 0h.01m7.79 0h.01m12.79 0h.01m15.59 0h.01m-59.01 .2h.01m1.39 0h.01m8.79 0h.01m4.39 0h.01m.59 0h.01m34.39 0h.01m7.79 0h.01m-83.01 .2h.01m6.59 0h.01m5.39 0h.01m8.59 0h.01m1.39 0h.01m2.39 0h.01m3.79 0h.01m6.59 0h.01m25.99 0h.01m2.99 0h.01m10.19 0h.01m-49.61 .2h.01m6.79 0h.01m1.79 0h.01m6.39 0h.01m3.99 0h.01m32.79 0h.01m-46.81 .2h.01m52.59 0h.01m-78.41 .2h.01m14.39 0h.01m3.99 0h.01m10.39 0h.01m.19 0h.01m8.19 0h.01m16.99 0h.01m3.79 0h.01m52.59 0h.01m13.59 0h.01m-133.61 .2h.01m40.79 0h.01m8.99 0h.01m7.19 0h.01m-31.21 .2h.01m1.19 0h.01m1.19 0h.01m15.99 0h.01m1.79 0h.01m10.99 0h.01m24.79 0h.01m32.39 0h.01m3.99 0h.01m-105.21 .2h.01m1.99 0h.01m15.59 0h.01m5.79 0h.01m7.99 0h.01m6.39 0h.01m4.39 0h.01m18.19 0h.01m15.79 0h.01m25.79 0h.01m-97.61 .2h.01m13.79 0h.01m3.59 0h.01m9.99 0h.01m2.59 0h.01m8.79 0h.01m5.59 0h.01m16.59 0h.01m-68.81 .2h.01m14.99 0h.01m.59 0h.01m4.19 0h.01m10.79 0h.01m-20.41 .2h.01m6.79 0h.01m1.19 0h.01m7.19 0h.01m3.39 0h.01m31.79 0h.01m11.19 0h.01m1.39 0h.01m6.39 0h.01m4.19 0h.01m47.59 0h.01m-141.01 .2h.01m26.39 0h.01m7.59 0h.01m4.39 0h.01m2.99 0h.01m.79 0h.01m26.19 0h.01m83.19 0h.01m-94.61 .2h.01m12.19 0h.01m9.39 0h.01m57.79 0h.01m-110.61 .2h.01m3.79 0h.01m4.79 0h.01m7.39 0h.01m45.19 0h.01m25.19 0h.01m.79 0h.01m-84.81 .2h.01m8.79 0h.01m-3.41 .2h.01m.39 0h.01m6.39 0h.01m.99 0h.01m32.19 0h.01m2.39 0h.01m21.59 0h.01m6.59 0h.01m-104.21 .2h.01m17.99 0h.01m3.19 0h.01m3.59 0h.01m2.59 0h.01m16.79 0h.01m5.99 0h.01m.59 0h.01m1.79 0h.01m2.39 0h.01m.19 0h.01m1.99 0h.01m2.19 0h.01m46.79 0h.01m-94.41 .2h.01m10.79 0h.01m1.59 0h.01m.19 0h.01m2.59 0h.01m.19 0h.01m6.19 0h.01m.59 0h.01m1.39 0h.01m2.39 0h.01m12.99 0h.01m15.39 0h.01m3.19 0h.01m-37.41 .2h.01m12.39 0h.01m.79 0h.01m8.19 0h.01m1.59 0h.01m9.59 0h.01m10.39 0h.01m5.59 0h.01m-59.21 .2h.01m3.99 0h.01m6.59 0h.01m6.19 0h.01m2.79 0h.01m.79 0h.01m3.39 0h.01m.99 0h.01m8.99 0h.01m3.79 0h.01m.59 0h.01m12.39 0h.01m-63.21 .2h.01m5.59 0h.01m14.59 0h.01m3.39 0h.01m8.39 0h.01m10.19 0h.01m5.39 0h.01m46.99 0h.01m2.79 0h.01m46.59 0h.01m-134.01 .2h.01m.19 0h.01m3.59 0h.01m13.19 0h.01m.79 0h.01m1.59 0h.01m14.99 0h.01m2.59 0h.01m11.59 0h.01m13.39 0h.01m10.59 0h.01m19.79 0h.01m-94.81 .2h.01m9.39 0h.01m1.59 0h.01m21.39 0h.01m16.99 0h.01m56.39 0h.01m6.59 0h.01m-105.21 .2h.01m.59 0h.01m2.39 0h.01m2.59 0h.01m2.19 0h.01m8.99 0h.01m3.99 0h.01m.79 0h.01m1.39 0h.01m3.99 0h.01m3.39 0h.01m3.99 0h.01m1.19 0h.01m5.79 0h.01m44.19 0h.01m46.59 0h.01m-131.01 .2h.01m12.39 0h.01m1.99 0h.01m14.19 0h.01m3.79 0h.01m2.19 0h.01m7.19 0h.01m-54.21 .2h.01m14.79 0h.01m4.19 0h.01m7.79 0h.01m13.19 0h.01m.19 0h.01m5.99 0h.01m.99 0h.01m15.59 0h.01m21.99 0h.01m60.99 0h.01m-141.81 .2h.01m2.19 0h.01m12.39 0h.01m1.39 0h.01m3.19 0h.01m2.79 0h.01m1.59 0h.01m2.79 0h.01m2.79 0h.01m11.39 0h.01m26.39 0h.01m.59 0h.01m54.99 0h.01m-124.81 .2h.01m3.39 0h.01m5.39 0h.01m.59 0h.01m.39 0h.01m.79 0h.01m7.39 0h.01m5.19 0h.01m10.39 0h.01m1.59 0h.01m7.59 0h.01m60.59 0h.01m-86.21 .2h.01m7.79 0h.01m1.59 0h.01m3.39 0h.01m.19 0h.01m11.99 0h.01m-29.21 .2h.01m.79 0h.01m6.59 0h.01m2.39 0h.01m2.99 0h.01m3.19 0h.01m5.59 0h.01m1.59 0h.01m1.79 0h.01m22.59 0h.01m5.79 0h.01m5.19 0h.01m-61.61 .2h.01m2.19 0h.01m11.39 0h.01m9.19 0h.01m5.39 0h.01m4.19 0h.01m39.59 0h.01m7.59 0h.01m30.39 0h.01m-110.61 .2h.01m20.99 0h.01m7.59 0h.01m7.99 0h.01m22.79 0h.01m3.59 0h.01m31.39 0h.01m24.59 0h.01m-123.41 .2h.01m1.59 0h.01m2.79 0h.01m2.59 0h.01m3.79 0h.01m5.39 0h.01m7.99 0h.01m.39 0h.01m.79 0h.01m2.99 0h.01m.19 0h.01m.19 0h.01m.39 0h.01m11.19 0h.01m10.79 0h.01m8.39 0h.01m19.99 0h.01m2.59 0h.01m16.19 0h.01m2.99 0h.01m-102.01 .2h.01m2.99 0h.01m11.79 0h.01m23.59 0h.01m2.99 0h.01m2.19 0h.01m3.59 0h.01m14.19 0h.01m28.79 0h.01m40.19 0h.01m4.19 0h.01m-153.21 .2h.01m11.19 0h.01m2.99 0h.01m9.59 0h.01m1.39 0h.01m4.19 0h.01m3.59 0h.01m.59 0h.01m2.79 0h.01m1.19 0h.01m.99 0h.01m.19 0h.01m11.99 0h.01m12.99 0h.01m2.99 0h.01m28.19 0h.01m-86.81 .2h.01m23.19 0h.01m7.59 0h.01m2.79 0h.01m4.39 0h.01m5.19 0h.01m9.99 0h.01m.59 0h.01m45.99 0h.01m-87.61 .2h.01m.39 0h.01m6.79 0h.01m11.19 0h.01m3.19 0h.01m3.99 0h.01m7.39 0h.01m6.79 0h.01m14.39 0h.01m10.39 0h.01m-69.61 .2h.01m5.59 0h.01m9.19 0h.01m.59 0h.01m4.79 0h.01m2.59 0h.01m.39 0h.01m15.59 0h.01m2.59 0h.01m8.79 0h.01m10.59 0h.01m1.79 0h.01m13.39 0h.01m1.59 0h.01m9.79 0h.01m13.59 0h.01m-95.41 .2h.01m1.79 0h.01m2.79 0h.01m2.19 0h.01m3.19 0h.01m11.59 0h.01m.59 0h.01m1.19 0h.01m5.59 0h.01m9.59 0h.01m8.39 0h.01m14.39 0h.01m-71.61 .2h.01m6.99 0h.01m7.79 0h.01m8.39 0h.01m1.39 0h.01m1.99 0h.01m1.79 0h.01m3.59 0h.01m4.79 0h.01m2.59 0h.01m64.79 0h.01m-115.01 .2h.01m32.99 0h.01m1.79 0h.01m1.19 0h.01m6.79 0h.01m.79 0h.01m2.59 0h.01m1.59 0h.01m8.99 0h.01m1.99 0h.01m6.19 0h.01m3.59 0h.01m-33.01 .2h.01m2.59 0h.01m.39 0h.01m.39 0h.01m.19 0h.01m14.19 0h.01m22.99 0h.01m10.59 0h.01m53.59 0h.01m-128.81 .2h.01m11.79 0h.01m.99 0h.01m4.99 0h.01m.99 0h.01m6.79 0h.01m6.79 0h.01m1.99 0h.01m5.19 0h.01m.39 0h.01m2.79 0h.01m9.99 0h.01m15.39 0h.01m42.79 0h.01m-97.81 .2h.01m4.19 0h.01m7.99 0h.01m17.59 0h.01m2.19 0h.01m10.19 0h.01m19.19 0h.01m.99 0h.01m-87.41 .2h.01m17.79 0h.01m3.19 0h.01m1.39 0h.01m5.19 0h.01m5.79 0h.01m2.79 0h.01m1.59 0h.01m23.39 0h.01m3.19 0h.01m1.19 0h.01m20.19 0h.01m21.39 0h.01m3.59 0h.01m-90.01 .2h.01m4.99 0h.01m3.39 0h.01m5.19 0h.01m5.39 0h.01m9.99 0h.01m15.59 0h.01m2.39 0h.01m64.59 0h.01m-118.21 .2h.01m.39 0h.01m10.99 0h.01m.39 0h.01m5.39 0h.01m3.39 0h.01m.59 0h.01m.99 0h.01m2.99 0h.01m13.79 0h.01m30.59 0h.01m3.79 0h.01m4.39 0h.01m-79.81 .2h.01m6.19 0h.01m2.19 0h.01m2.99 0h.01m6.99 0h.01m3.39 0h.01m1.99 0h.01m21.19 0h.01m9.39 0h.01m7.19 0h.01m7.19 0h.01m14.79 0h.01m-75.81 .2h.01m4.19 0h.01m1.59 0h.01m.79 0h.01m3.79 0h.01m2.99 0h.01m3.59 0h.01m14.79 0h.01m5.79 0h.01m4.59 0h.01m18.19 0h.01m-68.21 .2h.01m8.59 0h.01m1.19 0h.01m5.19 0h.01m8.99 0h.01m1.99 0h.01m.19 0h.01m4.99 0h.01m6.99 0h.01m6.79 0h.01m4.19 0h.01m.19 0h.01m5.19 0h.01m2.59 0h.01m4.99 0h.01m12.39 0h.01m-79.61 .2h.01m2.19 0h.01m7.99 0h.01m19.39 0h.01m13.19 0h.01m4.59 0h.01m3.39 0h.01m3.59 0h.01m4.99 0h.01m1.79 0h.01m36.99 0h.01m52.59 0h.01m-139.81 .2h.01m.19 0h.01m23.79 0h.01m.79 0h.01m1.59 0h.01m.39 0h.01m3.79 0h.01m21.59 0h.01m5.39 0h.01m8.99 0h.01m35.19 0h.01m2.99 0h.01m-103.21 .2h.01m6.79 0h.01m.99 0h.01m.19 0h.01m1.79 0h.01m4.39 0h.01m1.19 0h.01m3.39 0h.01m.99 0h.01m6.19 0h.01m1.19 0h.01m.99 0h.01m1.79 0h.01m4.59 0h.01m5.39 0h.01m34.19 0h.01m-66.81 .2h.01m6.39 0h.01m.79 0h.01m.39 0h.01m5.99 0h.01m.19 0h.01m1.39 0h.01m1.99 0h.01m5.19 0h.01m.39 0h.01m11.19 0h.01m.99 0h.01m3.39 0h.01m.79 0h.01m15.99 0h.01m-77.41 .2h.01m16.79 0h.01m.19 0h.01m1.39 0h.01m5.99 0h.01m.39 0h.01m.79 0h.01m.19 0h.01m1.79 0h.01m6.19 0h.01m.99 0h.01m4.39 0h.01m1.59 0h.01m.19 0h.01m2.39 0h.01m1.99 0h.01m2.59 0h.01m6.39 0h.01m.39 0h.01m45.59 0h.01m10.19 0h.01m-95.41 .2h.01m3.39 0h.01m.79 0h.01m4.59 0h.01m14.39 0h.01m2.79 0h.01m1.59 0h.01m1.99 0h.01m4.99 0h.01m26.39 0h.01m3.79 0h.01m20.79 0h.01m23.79 0h.01m-118.41 .2h.01m6.99 0h.01m2.39 0h.01m3.79 0h.01m1.99 0h.01m6.59 0h.01m11.39 0h.01m2.59 0h.01m.19 0h.01m2.99 0h.01m5.39 0h.01m2.19 0h.01m2.99 0h.01m.19 0h.01m2.59 0h.01m10.39 0h.01m7.99 0h.01m21.59 0h.01m-89.01 .2h.01m10.39 0h.01m1.19 0h.01m.99 0h.01m1.79 0h.01m3.19 0h.01m4.19 0h.01m1.79 0h.01m8.79 0h.01m5.59 0h.01m8.79 0h.01m4.99 0h.01m2.59 0h.01m1.59 0h.01m-52.61 .2h.01m2.59 0h.01m1.19 0h.01m1.59 0h.01m2.99 0h.01m1.19 0h.01m11.99 0h.01m5.99 0h.01m1.59 0h.01m10.19 0h.01m25.79 0h.01m21.79 0h.01m1.79 0h.01m-91.01 .2h.01m4.39 0h.01m8.39 0h.01m.59 0h.01m.99 0h.01m.19 0h.01m2.79 0h.01m14.59 0h.01m6.39 0h.01m5.99 0h.01m.79 0h.01m13.79 0h.01m.39 0h.01m33.19 0h.01m-84.41 .2h.01m1.59 0h.01m1.39 0h.01m1.39 0h.01m1.79 0h.01m4.99 0h.01m17.59 0h.01m3.59 0h.01m4.59 0h.01m1.59 0h.01m5.19 0h.01m4.39 0h.01m31.99 0h.01m34.79 0h.01m-121.21 .2h.01m.19 0h.01m.59 0h.01m5.39 0h.01m1.39 0h.01m.19 0h.01m4.19 0h.01m3.99 0h.01m7.59 0h.01m.39 0h.01m7.19 0h.01m12.39 0h.01m3.79 0h.01m14.79 0h.01m9.19 0h.01m-89.21 .2h.01m26.39 0h.01m2.39 0h.01m2.59 0h.01m1.19 0h.01m.79 0h.01m2.19 0h.01m5.39 0h.01m1.19 0h.01m2.39 0h.01m.99 0h.01m1.19 0h.01m10.19 0h.01m2.59 0h.01m11.39 0h.01m8.19 0h.01m50.59 0h.01m-129.81 .2h.01m15.39 0h.01m4.99 0h.01m1.79 0h.01m15.19 0h.01m3.39 0h.01m4.19 0h.01m.19 0h.01m2.39 0h.01m6.99 0h.01m.59 0h.01m1.39 0h.01m13.39 0h.01m.99 0h.01m.19 0h.01m2.79 0h.01m12.59 0h.01m18.19 0h.01m9.39 0h.01m-114.21 .2h.01m11.79 0h.01m2.39 0h.01m20.19 0h.01m2.79 0h.01m.39 0h.01m.59 0h.01m2.59 0h.01m2.99 0h.01m.19 0h.01m2.59 0h.01m6.39 0h.01m7.39 0h.01m1.79 0h.01m.79 0h.01m10.19 0h.01m.79 0h.01m35.59 0h.01m44.79 0h.01m-141.61 .2h.01m2.79 0h.01m2.79 0h.01m4.39 0h.01m11.79 0h.01m.79 0h.01m5.39 0h.01m13.59 0h.01m7.99 0h.01m1.19 0h.01m.59 0h.01m.19 0h.01m5.19 0h.01m1.59 0h.01m.19 0h.01m1.99 0h.01m10.19 0h.01m2.99 0h.01m15.59 0h.01m12.19 0h.01m11.19 0h.01m-109.61 .2h.01m3.79 0h.01m1.99 0h.01m.39 0h.01m2.99 0h.01m.59 0h.01m8.59 0h.01m1.19 0h.01m.79 0h.01m.39 0h.01m2.59 0h.01m1.59 0h.01m5.39 0h.01m1.19 0h.01m3.39 0h.01m4.19 0h.01m2.19 0h.01m17.19 0h.01m7.19 0h.01m29.59 0h.01m3.79 0h.01m45.59 0h.01m1.79 0h.01m-155.41 .2h.01m9.99 0h.01m7.99 0h.01m5.99 0h.01m4.19 0h.01m2.39 0h.01m.39 0h.01m2.39 0h.01m.59 0h.01m5.39 0h.01m11.79 0h.01m7.19 0h.01m7.59 0h.01m20.79 0h.01m17.99 0h.01m-100.41 .2h.01m4.19 0h.01m9.39 0h.01m5.99 0h.01m4.59 0h.01m.79 0h.01m8.59 0h.01m.79 0h.01m7.59 0h.01m4.19 0h.01m3.19 0h.01m4.39 0h.01m6.79 0h.01m3.19 0h.01m19.59 0h.01m10.19 0h.01m-98.81 .2h.01m6.79 0h.01m3.79 0h.01m15.39 0h.01m7.99 0h.01m8.19 0h.01m20.19 0h.01m7.19 0h.01m.39 0h.01m1.99 0h.01m4.79 0h.01m3.39 0h.01m5.39 0h.01m24.39 0h.01m-104.81 .2h.01m5.39 0h.01m.19 0h.01m1.19 0h.01m1.99 0h.01m.59 0h.01m4.39 0h.01m.99 0h.01m6.39 0h.01m1.59 0h.01m9.79 0h.01m5.39 0h.01m.39 0h.01m.59 0h.01m.79 0h.01m1.79 0h.01m2.19 0h.01m-36.61 .2h.01m1.39 0h.01m3.79 0h.01m.19 0h.01m10.79 0h.01m2.59 0h.01m13.19 0h.01m3.59 0h.01m.59 0h.01m13.19 0h.01m6.79 0h.01m2.59 0h.01m11.79 0h.01m10.19 0h.01m3.79 0h.01m19.79 0h.01m-123.21 .2h.01m17.99 0h.01m.59 0h.01m1.19 0h.01m2.99 0h.01m9.79 0h.01m.39 0h.01m3.59 0h.01m.39 0h.01m11.19 0h.01m.19 0h.01m1.59 0h.01m6.39 0h.01m9.19 0h.01m39.19 0h.01m-97.21 .2h.01m24.79 0h.01m.79 0h.01m2.39 0h.01m1.99 0h.01m2.19 0h.01m5.59 0h.01m2.99 0h.01m3.79 0h.01m.39 0h.01m.79 0h.01m2.59 0h.01m3.59 0h.01m.39 0h.01m.39 0h.01m.99 0h.01m.99 0h.01m8.99 0h.01m2.19 0h.01m1.79 0h.01m6.19 0h.01m2.99 0h.01m16.59 0h.01m3.19 0h.01m15.99 0h.01m8.19 0h.01m-118.01 .2h.01m9.99 0h.01m2.79 0h.01m.39 0h.01m3.39 0h.01m6.19 0h.01m3.39 0h.01m.79 0h.01m3.19 0h.01m.19 0h.01m2.39 0h.01m1.59 0h.01m.59 0h.01m3.19 0h.01m4.99 0h.01m5.19 0h.01m.19 0h.01m1.39 0h.01m3.39 0h.01m4.99 0h.01m10.39 0h.01m-69.01 .2h.01m3.19 0h.01m13.39 0h.01m.39 0h.01m4.59 0h.01m.79 0h.01m.39 0h.01m1.39 0h.01m7.39 0h.01m.99 0h.01m5.99 0h.01m4.59 0h.01m1.19 0h.01m2.99 0h.01m10.19 0h.01m6.19 0h.01m1.79 0h.01m18.59 0h.01m10.79 0h.01m-100.21 .2h.01m5.19 0h.01m4.99 0h.01m.99 0h.01m1.19 0h.01m.79 0h.01m2.79 0h.01m.99 0h.01m3.79 0h.01m.59 0h.01m3.59 0h.01m.99 0h.01m.39 0h.01m10.39 0h.01m1.99 0h.01m8.99 0h.01m3.19 0h.01m3.39 0h.01m.59 0h.01m3.79 0h.01m9.39 0h.01m10.79 0h.01m3.79 0h.01m5.39 0h.01m1.39 0h.01m-76.01 .2h.01m9.79 0h.01m6.19 0h.01m9.39 0h.01m14.19 0h.01m2.99 0h.01m1.59 0h.01m14.39 0h.01m6.39 0h.01m3.19 0h.01m1.59 0h.01m12.99 0h.01m12.19 0h.01m13.79 0h.01m2.19 0h.01m-117.61 .2h.01m3.59 0h.01m1.79 0h.01m7.59 0h.01m1.19 0h.01m2.99 0h.01m.79 0h.01m10.19 0h.01m19.79 0h.01m38.79 0h.01m7.79 0h.01m-88.61 .2h.01m1.79 0h.01m.99 0h.01m2.79 0h.01m5.99 0h.01m4.79 0h.01m2.99 0h.01m6.99 0h.01m2.99 0h.01m3.79 0h.01m.79 0h.01m1.79 0h.01m1.19 0h.01m9.19 0h.01m6.79 0h.01m2.59 0h.01m.79 0h.01m1.19 0h.01m2.19 0h.01m20.19 0h.01m5.79 0h.01m.99 0h.01m4.19 0h.01m-98.81 .2h.01m8.79 0h.01m.59 0h.01m19.59 0h.01m1.99 0h.01m.19 0h.01m.59 0h.01m1.39 0h.01m.59 0h.01m2.79 0h.01m6.19 0h.01m1.19 0h.01m4.19 0h.01m6.19 0h.01m32.99 0h.01m9.99 0h.01m-85.21 .2h.01m10.59 0h.01m.39 0h.01m.19 0h.01m.99 0h.01m3.79 0h.01m1.79 0h.01m1.39 0h.01m.79 0h.01m.59 0h.01m9.59 0h.01m4.39 0h.01m1.59 0h.01m3.79 0h.01m23.79 0h.01m6.79 0h.01m13.19 0h.01m1.39 0h.01m29.19 0h.01m.59 0h.01m10.19 0h.01m-139.21 .2h.01m5.19 0h.01m6.39 0h.01m7.19 0h.01m.79 0h.01m3.19 0h.01m.19 0h.01m3.39 0h.01m2.19 0h.01m.59 0h.01m.79 0h.01m.19 0h.01m.79 0h.01m1.19 0h.01m4.79 0h.01m6.19 0h.01m1.59 0h.01m1.99 0h.01m5.19 0h.01m3.39 0h.01m8.59 0h.01m11.59 0h.01m1.39 0h.01m.19 0h.01m34.19 0h.01m-101.61 .2h.01m9.99 0h.01m9.19 0h.01m1.19 0h.01m1.59 0h.01m4.19 0h.01m2.39 0h.01m8.99 0h.01m2.79 0h.01m7.39 0h.01m7.59 0h.01m.19 0h.01m1.79 0h.01m16.59 0h.01m29.79 0h.01m30.79 0h.01m-133.21 .2h.01m2.59 0h.01m1.59 0h.01m1.39 0h.01m1.19 0h.01m6.59 0h.01m.19 0h.01m.39 0h.01m2.19 0h.01m1.59 0h.01m1.99 0h.01m4.39 0h.01m1.99 0h.01m1.19 0h.01m2.19 0h.01m.39 0h.01m.79 0h.01m4.39 0h.01m3.79 0h.01m.59 0h.01m.59 0h.01m17.39 0h.01m38.19 0h.01m-94.21 .2h.01m.59 0h.01m1.39 0h.01m1.39 0h.01m1.39 0h.01m1.79 0h.01m.19 0h.01m2.39 0h.01m2.19 0h.01m1.59 0h.01m2.59 0h.01m2.39 0h.01m12.59 0h.01m.19 0h.01m4.99 0h.01m.99 0h.01m2.39 0h.01m4.19 0h.01m.79 0h.01m5.39 0h.01m1.99 0h.01m3.19 0h.01m7.39 0h.01m5.59 0h.01m23.99 0h.01m-106.81 .2h.01m8.19 0h.01m4.19 0h.01m1.59 0h.01m2.59 0h.01m6.39 0h.01m2.39 0h.01m1.59 0h.01m2.79 0h.01m7.19 0h.01m5.19 0h.01m5.19 0h.01m3.59 0h.01m.79 0h.01m5.19 0h.01m1.99 0h.01m8.79 0h.01m.59 0h.01m5.19 0h.01m8.99 0h.01m3.79 0h.01m-92.81 .2h.01m22.19 0h.01m1.39 0h.01m.39 0h.01m4.79 0h.01m4.59 0h.01m1.39 0h.01m6.99 0h.01m4.99 0h.01m.19 0h.01m.59 0h.01m1.79 0h.01m.99 0h.01m2.59 0h.01m1.59 0h.01m3.79 0h.01m3.79 0h.01m16.19 0h.01m80.59 0h.01m2.39 0h.01m-156.21 .2h.01m13.99 0h.01m.19 0h.01m3.99 0h.01m.79 0h.01m10.59 0h.01m3.79 0h.01m1.99 0h.01m2.99 0h.01m4.99 0h.01m3.39 0h.01m.39 0h.01m.39 0h.01m2.59 0h.01m3.39 0h.01m5.59 0h.01m.39 0h.01m9.99 0h.01m.19 0h.01m2.59 0h.01m15.19 0h.01m38.19 0h.01m9.99 0h.01m-131.21 .2h.01m2.79 0h.01m10.39 0h.01m1.79 0h.01m3.79 0h.01m1.59 0h.01m1.79 0h.01m.59 0h.01m3.99 0h.01m6.99 0h.01m7.99 0h.01m.39 0h.01m1.79 0h.01m1.19 0h.01m1.59 0h.01m2.39 0h.01m10.59 0h.01m8.99 0h.01m3.19 0h.01m10.19 0h.01m24.99 0h.01m10.39 0h.01m-127.41 .2h.01m18.19 0h.01m9.59 0h.01m.19 0h.01m.19 0h.01m6.39 0h.01m2.79 0h.01m1.99 0h.01m2.39 0h.01m3.99 0h.01m6.19 0h.01m.79 0h.01m.59 0h.01m2.19 0h.01m2.59 0h.01m3.39 0h.01m.19 0h.01m.59 0h.01m10.19 0h.01m4.19 0h.01m2.59 0h.01m9.39 0h.01m8.99 0h.01m10.19 0h.01m22.39 0h.01m-124.01 .2h.01m14.99 0h.01m2.59 0h.01m4.99 0h.01m4.19 0h.01m.19 0h.01m3.19 0h.01m8.59 0h.01m1.19 0h.01m3.39 0h.01m4.19 0h.01m3.79 0h.01m7.99 0h.01m15.59 0h.01m11.59 0h.01m.99 0h.01m4.59 0h.01m2.59 0h.01m12.79 0h.01m27.99 0h.01m-142.01 .2h.01m5.39 0h.01m7.39 0h.01m3.79 0h.01m4.99 0h.01m.79 0h.01m12.99 0h.01m.59 0h.01m1.39 0h.01m4.79 0h.01m1.99 0h.01m9.19 0h.01m6.99 0h.01m9.59 0h.01m9.99 0h.01m.19 0h.01m16.19 0h.01m14.79 0h.01m20.39 0h.01m10.99 0h.01m-140.61 .2h.01m16.59 0h.01m.79 0h.01m2.79 0h.01m1.39 0h.01m.99 0h.01m7.19 0h.01m2.39 0h.01m4.79 0h.01m1.99 0h.01m.99 0h.01m6.79 0h.01m6.59 0h.01m6.99 0h.01m1.79 0h.01m4.19 0h.01m2.19 0h.01m2.59 0h.01m7.59 0h.01m1.19 0h.01m2.59 0h.01m42.19 0h.01m-111.81 .2h.01m7.99 0h.01m2.59 0h.01m.19 0h.01m6.19 0h.01m.39 0h.01m2.59 0h.01m.19 0h.01m.39 0h.01m.39 0h.01m1.39 0h.01m.79 0h.01m8.59 0h.01m1.59 0h.01m4.39 0h.01m1.19 0h.01m3.79 0h.01m1.39 0h.01m1.39 0h.01m3.79 0h.01m17.39 0h.01m.59 0h.01m5.99 0h.01m4.79 0h.01m2.19 0h.01m-88.21 .2h.01m11.39 0h.01m1.19 0h.01m4.19 0h.01m2.79 0h.01m3.19 0h.01m3.59 0h.01m2.19 0h.01m1.99 0h.01m5.59 0h.01m6.39 0h.01m3.79 0h.01m5.39 0h.01m2.99 0h.01m15.79 0h.01m5.19 0h.01m3.19 0h.01m-70.41 .2h.01m3.19 0h.01m5.19 0h.01m4.79 0h.01m2.39 0h.01m2.19 0h.01m2.59 0h.01m3.59 0h.01m.79 0h.01m.59 0h.01m.79 0h.01m1.39 0h.01m2.19 0h.01m2.19 0h.01m2.99 0h.01m.19 0h.01m3.99 0h.01m2.39 0h.01m42.19 0h.01m.39 0h.01m.99 0h.01m18.19 0h.01m14.19 0h.01m-121.41 .2h.01m6.39 0h.01m8.39 0h.01m3.99 0h.01m1.39 0h.01m6.99 0h.01m3.59 0h.01m1.19 0h.01m.79 0h.01m1.99 0h.01m2.19 0h.01m1.39 0h.01m2.79 0h.01m3.39 0h.01m.19 0h.01m4.19 0h.01m17.19 0h.01m33.39 0h.01m20.39 0h.01m-132.01 .2h.01m10.79 0h.01m9.59 0h.01m.39 0h.01m1.39 0h.01m.99 0h.01m3.99 0h.01m4.19 0h.01m1.19 0h.01m3.19 0h.01m4.19 0h.01m16.99 0h.01m.59 0h.01m14.19 0h.01m9.19 0h.01m2.19 0h.01m10.59 0h.01m67.99 0h.01m-146.01 .2h.01m9.19 0h.01m.79 0h.01m3.79 0h.01m3.79 0h.01m2.59 0h.01m.99 0h.01m.19 0h.01m3.59 0h.01m.39 0h.01m.79 0h.01m1.39 0h.01m1.59 0h.01m.79 0h.01m6.19 0h.01m1.79 0h.01m10.99 0h.01m12.59 0h.01m8.19 0h.01m5.39 0h.01m-68.21 .2h.01m11.39 0h.01m2.59 0h.01m3.79 0h.01m2.59 0h.01m.39 0h.01m8.79 0h.01m3.99 0h.01m.99 0h.01m1.59 0h.01m2.19 0h.01m1.19 0h.01m2.79 0h.01m33.59 0h.01m5.99 0h.01m-82.21 .2h.01m.39 0h.01m3.59 0h.01m.19 0h.01m2.19 0h.01m1.99 0h.01m1.99 0h.01m1.19 0h.01m10.19 0h.01m5.39 0h.01m1.19 0h.01m.19 0h.01m.79 0h.01m7.99 0h.01m2.19 0h.01m17.99 0h.01m8.59 0h.01m-74.41 .2h.01m7.39 0h.01m3.79 0h.01m.79 0h.01m3.99 0h.01m2.59 0h.01m1.99 0h.01m.79 0h.01m2.99 0h.01m1.19 0h.01m-28.61 .2h.01m4.79 0h.01m4.99 0h.01m3.59 0h.01m4.59 0h.01m2.99 0h.01m.99 0h.01m.19 0h.01m1.39 0h.01m2.19 0h.01m10.39 0h.01m.19 0h.01m.19 0h.01m4.99 0h.01m6.99 0h.01m2.39 0h.01m.19 0h.01m3.39 0h.01m42.99 0h.01m10.79 0h.01m-105.61 .2h.01m9.19 0h.01m2.19 0h.01m.79 0h.01m7.59 0h.01m4.99 0h.01m2.79 0h.01m1.39 0h.01m.99 0h.01m.59 0h.01m.19 0h.01m.19 0h.01m.59 0h.01m2.39 0h.01m7.39 0h.01m1.99 0h.01m1.39 0h.01m41.99 0h.01m2.39 0h.01m51.99 0h.01m-144.01 .2h.01m13.39 0h.01m.19 0h.01m5.79 0h.01m1.19 0h.01m1.99 0h.01m6.19 0h.01m2.99 0h.01m6.19 0h.01m2.99 0h.01m.79 0h.01m10.59 0h.01m.99 0h.01m2.99 0h.01m2.39 0h.01m6.79 0h.01m10.99 0h.01m3.79 0h.01m.19 0h.01m-80.01 .2h.01m14.19 0h.01m2.59 0h.01m4.59 0h.01m1.99 0h.01m2.19 0h.01m.99 0h.01m3.39 0h.01m.99 0h.01m1.39 0h.01m.39 0h.01m3.39 0h.01m8.39 0h.01m16.79 0h.01m12.19 0h.01m-85.61 .2h.01m17.19 0h.01m5.79 0h.01m4.59 0h.01m.39 0h.01m2.19 0h.01m4.79 0h.01m4.39 0h.01m.79 0h.01m5.19 0h.01m.99 0h.01m3.39 0h.01m5.19 0h.01m6.99 0h.01m10.79 0h.01m3.19 0h.01m16.39 0h.01m.39 0h.01m16.19 0h.01m14.79 0h.01m-108.01 .2h.01m8.79 0h.01m3.19 0h.01m5.39 0h.01m2.19 0h.01m10.39 0h.01m2.39 0h.01m6.79 0h.01m1.59 0h.01m2.79 0h.01m1.19 0h.01m5.19 0h.01m.59 0h.01m4.79 0h.01m2.59 0h.01m5.79 0h.01m28.39 0h.01m36.79 0h.01m-143.41 .2h.01m12.39 0h.01m6.79 0h.01m4.39 0h.01m21.99 0h.01m1.79 0h.01m2.59 0h.01m1.39 0h.01m.59 0h.01m.99 0h.01m5.99 0h.01m6.19 0h.01m38.79 0h.01m5.19 0h.01m21.79 0h.01m-132.41 .2h.01m34.59 0h.01m7.19 0h.01m1.19 0h.01m1.59 0h.01m4.59 0h.01m37.19 0h.01m54.39 0h.01m-121.61 .2h.01m4.39 0h.01m3.19 0h.01m.19 0h.01m.59 0h.01m8.59 0h.01m10.59 0h.01m2.59 0h.01m6.99 0h.01m1.19 0h.01m24.99 0h.01m16.19 0h.01m6.19 0h.01m-93.61 .2h.01m3.39 0h.01m.19 0h.01m16.39 0h.01m2.39 0h.01m1.59 0h.01m2.79 0h.01m.19 0h.01m1.39 0h.01m.99 0h.01m3.19 0h.01m99.19 0h.01m-132.61 .2h.01m20.79 0h.01m2.79 0h.01m2.19 0h.01m3.19 0h.01m22.99 0h.01m3.19 0h.01m9.39 0h.01m11.39 0h.01m34.79 0h.01m-99.21 .2h.01m1.99 0h.01m6.99 0h.01m1.19 0h.01m6.19 0h.01m10.99 0h.01m12.79 0h.01m34.19 0h.01m36.59 0h.01"/><path class="rl" d="M59.17 498.29L221.33 502.19"/><path class="ax" d="M47.5 395.9V514.1M46.9 513.5H223.1"/><path class="tk" d="M44.2 513.5H47.5M44.2 474.5H47.5M44.2 435.5H47.5M44.2 396.5H47.5M47.5 513.5V517M105.83 513.5V517M164.17 513.5V517M222.5 513.5V517"/><text class="tl" text-anchor="end" transform="translate(42.5 516.65) scale(1.19 1)">0</text><text class="tl" text-anchor="end" transform="translate(42.5 477.65) scale(1.19 1)">10</text><text class="tl" text-anchor="end" transform="translate(42.5 438.65) scale(1.19 1)">20</text><text class="tl" text-anchor="end" transform="translate(42.5 399.65) scale(1.19 1)">30</text><text class="tl" text-anchor="middle" transform="translate(47.7 528.95) scale(1.19 1)">0</text><text class="tl" text-anchor="middle" transform="translate(106.03 528.95) scale(1.19 1)">200</text><text class="tl" text-anchor="middle" transform="translate(164.37 528.95) scale(1.19 1)">400</text><text class="tl" text-anchor="middle" transform="translate(222.7 528.95) scale(1.19 1)">600</text><text class="ti" text-anchor="middle" transform="translate(135.3 544.5) scale(1.23 1)">E2 (pmol/L)</text><text class="ti" text-anchor="middle" transform="translate(22.5 452.5) rotate(-90) scale(1.23 1)">AMH (ng/ml)</text><text class="an" transform="translate(147.5 416) scale(1.2 1)">P = 0.017</text><text class="an" transform="translate(147.5 428.8) scale(1.2 1)">R = -0.052</text><text class="st" transform="translate(192.6 415.3)">*</text></g>
<g><path class="pt" d="M295 423.8h.01m34.99 .4h.01m-8.61 .4h.01m-17.61 11.6h.01m21.99 6.4h.01m-36.01 1h.01m7.79 0h.01m23.19 .2h.01m7.59 0h.01m31.59 .4h.01m-61.01 2.8h.01m3.59 0h.01m37.79 3h.01m-9.01 .6h.01m.79 3.8h.01m91.99 .2h.01m-129.01 .6h.01m-4.61 1.2h.01m27.19 .2h.01m26.59 .8h.01m-43.61 2.6h.01m-7.01 1h.01m28.99 .2h.01m-9.41 .6h.01m.79 0h.01m-18.01 .4h.01m60.59 0h.01m-27.61 .6h.01m-32.61 .2h.01m7.59 .6h.01m4.99 .2h.01m5.59 .6h.01m-20.21 .4h.01m2.79 0h.01m5.79 .4h.01m5.99 .2h.01m11.99 0h.01m.39 0h.01m9.79 0h.01m-27.81 .2h.01m-12.61 .2h.01m14.79 0h.01m23.39 .4h.01m-27.21 .2h.01m-9.21 .6h.01m29.39 .2h.01m-3.81 .4h.01m.99 .6h.01m-23.81 .2h.01m51.99 0h.01m-8.61 .2h.01m23.79 .2h.01m-51.01 .2h.01m23.59 .6h.01m-45.01 .4h.01m63.99 0h.01m-56.01 .8h.01m11.99 0h.01m-19.41 .2h.01m20.79 0h.01m14.19 .4h.01m5.59 0h.01m-26.01 .4h.01m18.39 0h.01m-15.01 .2h.01m-19.61 .2h.01m2.39 0h.01m9.79 0h.01m56.19 .2h.01m-27.01 .2h.01m18.19 .4h.01m-37.01 .2h.01m37.39 0h.01m-55.01 .4h.01m10.39 0h.01m-4.81 .2h.01m8.39 0h.01m5.59 .2h.01m49.39 0h.01m-61.61 .4h.01m7.79 0h.01m3.19 0h.01m44.59 0h.01m-65.61 .4h.01m4.59 0h.01m-7.01 .2h.01m34.79 0h.01m-10.01 .2h.01m61.99 .2h.01m-23.21 .4h.01m-28.21 .2h.01m-7.21 .2h.01m42.59 0h.01m-67.21 .2h.01m10.79 0h.01m3.99 .2h.01m2.99 0h.01m23.99 0h.01m-30.21 .2h.01m14.59 0h.01m-23.61 .4h.01m43.39 0h.01m-38.81 .2h.01m18.39 0h.01m68.19 0h.01m-67.81 .2h.01m-27.41 .2h.01m20.99 0h.01m8.19 0h.01m13.19 0h.01m-14.01 .2h.01m19.99 0h.01m-50.61 .2h.01m58.39 0h.01m-42.21 .2h.01m3.59 0h.01m25.79 0h.01m-24.81 .2h.01m10.79 0h.01m-31.61 .2h.01m3.19 0h.01m24.79 0h.01m132.59 0h.01m-159.01 .2h.01m79.19 0h.01m-68.81 .2h.01m19.99 0h.01m-32.01 .2h.01m9.79 0h.01m-6.61 .2h.01m15.99 0h.01m9.99 0h.01m-13.21 .2h.01m40.19 0h.01m42.99 0h.01m-97.81 .2h.01m48.39 0h.01m25.39 0h.01m5.99 0h.01m-76.81 .2h.01m3.79 0h.01m41.59 0h.01m-23.21 .2h.01m1.99 0h.01m28.19 0h.01m-50.41 .2h.01m38.39 0h.01m-32.81 .2h.01m18.19 0h.01m4.39 0h.01m-24.61 .2h.01m3.99 0h.01m5.59 0h.01m5.79 0h.01m18.59 0h.01m45.39 0h.01m-50.01 .4h.01m8.39 0h.01m4.79 0h.01m57.39 0h.01m-100.01 .2h.01m32.59 0h.01m20.59 0h.01m12.39 0h.01m2.19 0h.01m-73.61 .2h.01m25.79 0h.01m3.79 0h.01m9.79 0h.01m-35.81 .2h.01m13.99 0h.01m7.19 0h.01m71.59 0h.01m-86.01 .2h.01m4.99 0h.01m4.99 0h.01m-23.61 .2h.01m30.59 0h.01m-31.61 .2h.01m21.19 0h.01m20.99 0h.01m-12.81 .2h.01m2.19 0h.01m4.39 0h.01m59.19 0h.01m-8.61 .2h.01m-86.61 .2h.01m9.99 0h.01m7.19 0h.01m25.39 0h.01m9.39 0h.01m10.19 0h.01m-39.01 .2h.01m4.19 0h.01m13.99 0h.01m13.19 0h.01m-49.01 .2h.01m9.99 0h.01m.59 0h.01m21.59 0h.01m7.59 0h.01m9.59 0h.01m-55.01 .2h.01m13.99 0h.01m2.79 0h.01m24.79 0h.01m36.79 0h.01m-74.41 .2h.01m4.99 0h.01m7.59 0h.01m33.19 0h.01m-49.81 .2h.01m1.59 0h.01m46.79 0h.01m.79 0h.01m-47.41 .2h.01m.19 0h.01m10.59 0h.01m8.39 0h.01m10.99 0h.01m16.99 0h.01m-33.01 .2h.01m26.99 0h.01m-25.21 .2h.01m31.99 0h.01m-49.81 .2h.01m3.39 0h.01m48.39 0h.01m56.39 0h.01m-102.61 .2h.01m7.99 0h.01m14.59 0h.01m-28.21 .2h.01m7.39 0h.01m1.19 0h.01m5.39 0h.01m32.59 0h.01m-17.81 .2h.01m1.79 0h.01m-12.41 .2h.01m38.99 0h.01m.19 0h.01m-51.21 .2h.01m-.01 .2h.01m9.59 0h.01m3.59 0h.01m1.59 0h.01m8.79 0h.01m2.39 0h.01m7.79 0h.01m11.99 0h.01m-47.01 .2h.01m21.19 0h.01m38.39 0h.01m27.39 0h.01m-92.01 .2h.01m1.39 0h.01m2.79 0h.01m2.99 0h.01m.39 0h.01m4.19 0h.01m10.39 0h.01m8.39 0h.01m10.79 0h.01m2.59 0h.01m4.79 0h.01m-46.81 .2h.01m5.59 0h.01m24.79 0h.01m42.99 0h.01m-68.41 .2h.01m5.19 0h.01m12.79 0h.01m8.99 0h.01m-17.21 .2h.01m6.39 0h.01m6.99 0h.01m-23.01 .2h.01m1.99 0h.01m3.59 0h.01m5.39 0h.01m11.99 0h.01m3.59 0h.01m10.39 0h.01m14.39 0h.01m5.39 0h.01m70.39 0h.01m-131.01 .2h.01m13.59 0h.01m12.19 0h.01m10.79 0h.01m6.39 0h.01m8.99 0h.01m1.19 0h.01m.99 0h.01m-57.61 .2h.01m3.99 0h.01m2.59 0h.01m5.19 0h.01m41.39 0h.01m-49.21 .2h.01m19.79 0h.01m9.19 0h.01m-31.81 .2h.01m4.79 0h.01m14.59 0h.01m.59 0h.01m-19.01 .2h.01m3.59 0h.01m4.79 0h.01m27.19 0h.01m-37.81 .2h.01m.79 0h.01m.99 0h.01m8.19 0h.01m-7.61 .2h.01m2.39 0h.01m9.79 0h.01m5.39 0h.01m2.79 0h.01m27.99 0h.01m.59 0h.01m60.99 0h.01m-111.41 .2h.01m3.39 0h.01m5.79 0h.01m13.19 0h.01m27.79 0h.01m1.19 0h.01m-52.41 .2h.01m27.79 0h.01m2.79 0h.01m1.59 0h.01m7.59 0h.01m1.99 0h.01m6.79 0h.01m4.99 0h.01m3.39 0h.01m24.99 0h.01m6.79 0h.01m-73.61 .2h.01m12.59 0h.01m.59 0h.01m57.99 0h.01m-76.61 .2h.01m7.19 0h.01m13.19 0h.01m-30.21 .2h.01m11.79 0h.01m1.19 0h.01m5.19 0h.01m1.39 0h.01m14.59 0h.01m1.19 0h.01m5.59 0h.01m7.39 0h.01m-48.41 .2h.01m1.59 0h.01m7.59 0h.01m43.99 0h.01m-53.21 .2h.01m12.39 0h.01m12.59 0h.01m35.59 0h.01m-60.61 .2h.01m1.19 0h.01m1.59 0h.01m24.99 0h.01m25.79 0h.01m4.39 0h.01m13.79 0h.01m-69.61 .2h.01m21.59 0h.01m10.59 0h.01m17.19 0h.01m.79 0h.01m6.39 0h.01m-58.81 .2h.01m1.79 0h.01m8.39 0h.01m2.39 0h.01m1.79 0h.01m12.39 0h.01m.19 0h.01m12.79 0h.01m6.99 0h.01m22.39 0h.01m-69.21 .2h.01m8.59 0h.01m.99 0h.01m3.79 0h.01m7.79 0h.01m.19 0h.01m.99 0h.01m.79 0h.01m16.59 0h.01m13.39 0h.01m-51.21 .2h.01m21.19 0h.01m26.59 0h.01m10.99 0h.01m-60.81 .2h.01m3.19 0h.01m.79 0h.01m1.99 0h.01m.59 0h.01m9.79 0h.01m11.79 0h.01m4.59 0h.01m4.39 0h.01m.79 0h.01m.59 0h.01m5.19 0h.01m3.99 0h.01m14.79 0h.01m-57.61 .2h.01m5.79 0h.01m15.39 0h.01m13.19 0h.01m-27.01 .2h.01m5.99 0h.01m6.59 0h.01m.19 0h.01m.99 0h.01m8.59 0h.01m54.99 0h.01m-89.81 .2h.01m11.19 0h.01m14.59 0h.01m9.19 0h.01m13.39 0h.01m7.19 0h.01m.99 0h.01m-56.01 .2h.01m10.79 0h.01m8.59 0h.01m3.59 0h.01m17.59 0h.01m8.39 0h.01m6.19 0h.01m32.59 0h.01m-85.01 .2h.01m7.79 0h.01m1.39 0h.01m11.39 0h.01m8.19 0h.01m13.99 0h.01m16.99 0h.01m28.59 0h.01m18.39 0h.01m-105.81 .2h.01m28.59 0h.01m1.39 0h.01m4.39 0h.01m12.79 0h.01m5.99 0h.01m62.39 0h.01m-119.61 .2h.01m15.39 0h.01m8.39 0h.01m2.79 0h.01m15.79 0h.01m9.39 0h.01m-52.21 .2h.01m.99 0h.01m21.99 0h.01m9.19 0h.01m-32.01 .2h.01m7.39 0h.01m9.99 0h.01m3.99 0h.01m.59 0h.01m2.19 0h.01m3.59 0h.01m6.59 0h.01m.99 0h.01m.39 0h.01m2.39 0h.01m2.99 0h.01m-41.41 .2h.01m8.99 0h.01m.19 0h.01m7.99 0h.01m3.39 0h.01m3.19 0h.01m1.79 0h.01m1.19 0h.01m3.19 0h.01m3.19 0h.01m4.99 0h.01m-20.61 .2h.01m4.99 0h.01m.19 0h.01m4.39 0h.01m7.99 0h.01m-35.21 .2h.01m3.99 0h.01m1.19 0h.01m.39 0h.01m2.39 0h.01m36.59 0h.01m.19 0h.01m5.19 0h.01m1.99 0h.01m5.79 0h.01m8.59 0h.01m-62.41 .2h.01m.59 0h.01m3.19 0h.01m10.19 0h.01m3.19 0h.01m6.79 0h.01m3.39 0h.01m13.59 0h.01m1.59 0h.01m4.99 0h.01m-37.61 .2h.01m1.19 0h.01m9.99 0h.01m6.99 0h.01m1.99 0h.01m45.79 0h.01m-80.01 .2h.01m4.59 0h.01m6.79 0h.01m1.19 0h.01m4.99 0h.01m2.59 0h.01m1.59 0h.01m.79 0h.01m4.39 0h.01m3.39 0h.01m2.19 0h.01m10.59 0h.01m1.79 0h.01m9.19 0h.01m53.59 0h.01m-107.81 .2h.01m1.59 0h.01m6.79 0h.01m1.59 0h.01m4.79 0h.01m6.59 0h.01m3.19 0h.01m62.39 0h.01m-87.01 .2h.01m8.79 0h.01m4.79 0h.01m2.99 0h.01m16.79 0h.01m2.79 0h.01m34.99 0h.01m-70.41 .2h.01m4.19 0h.01m8.39 0h.01m3.19 0h.01m27.99 0h.01m31.59 0h.01m-75.21 .2h.01m4.39 0h.01m.79 0h.01m8.79 0h.01m6.59 0h.01m13.39 0h.01m9.39 0h.01m3.59 0h.01m-39.41 .2h.01m5.39 0h.01m6.59 0h.01m5.79 0h.01m1.39 0h.01m22.39 0h.01m.19 0h.01m6.19 0h.01m14.79 0h.01m25.59 0h.01m-97.01 .2h.01m1.39 0h.01m8.99 0h.01m2.79 0h.01m4.59 0h.01m3.39 0h.01m22.19 0h.01m.19 0h.01m3.39 0h.01m11.19 0h.01m-51.81 .2h.01m1.39 0h.01m7.19 0h.01m10.59 0h.01m12.59 0h.01m.19 0h.01m4.99 0h.01m7.19 0h.01m-50.61 .2h.01m.99 0h.01m3.59 0h.01m.39 0h.01m13.19 0h.01m1.19 0h.01m.79 0h.01m3.79 0h.01m4.99 0h.01m2.79 0h.01m12.79 0h.01m3.99 0h.01m13.39 0h.01m-58.81 .2h.01m2.59 0h.01m9.59 0h.01m.39 0h.01m4.19 0h.01m5.59 0h.01m1.19 0h.01m1.39 0h.01m.39 0h.01m3.79 0h.01m14.39 0h.01m7.59 0h.01m5.39 0h.01m4.99 0h.01m-64.81 .2h.01m3.39 0h.01m7.39 0h.01m8.39 0h.01m18.59 0h.01m15.79 0h.01m13.59 0h.01m-64.61 .2h.01m1.39 0h.01m12.99 0h.01m3.39 0h.01m4.99 0h.01m2.39 0h.01m3.99 0h.01m2.19 0h.01m7.19 0h.01m4.19 0h.01m1.39 0h.01m18.59 0h.01m-54.41 .2h.01m10.79 0h.01m68.19 0h.01m-90.01 .2h.01m1.99 0h.01m3.39 0h.01m.19 0h.01m2.99 0h.01m2.19 0h.01m9.39 0h.01m6.79 0h.01m.59 0h.01m1.39 0h.01m1.39 0h.01m17.59 0h.01m6.59 0h.01m9.59 0h.01m-64.21 .2h.01m6.19 0h.01m3.39 0h.01m3.19 0h.01m1.39 0h.01m8.59 0h.01m8.59 0h.01m.59 0h.01m12.59 0h.01m4.59 0h.01m5.99 0h.01m11.39 0h.01m-66.61 .2h.01m5.19 0h.01m.19 0h.01m.39 0h.01m3.19 0h.01m5.79 0h.01m.39 0h.01m17.39 0h.01m1.79 0h.01m17.39 0h.01m6.79 0h.01m7.59 0h.01m2.59 0h.01m-66.61 .2h.01m17.79 0h.01m.39 0h.01m1.79 0h.01m1.59 0h.01m2.39 0h.01m2.59 0h.01m.99 0h.01m7.99 0h.01m4.99 0h.01m2.79 0h.01m8.59 0h.01m3.19 0h.01m-57.41 .2h.01m.99 0h.01m1.19 0h.01m6.99 0h.01m5.79 0h.01m.59 0h.01m4.79 0h.01m6.99 0h.01m.59 0h.01m1.79 0h.01m5.19 0h.01m3.19 0h.01m.59 0h.01m2.59 0h.01m14.19 0h.01m.19 0h.01m47.19 0h.01m-102.61 .2h.01m4.59 0h.01m2.39 0h.01m5.79 0h.01m.79 0h.01m.19 0h.01m2.19 0h.01m8.99 0h.01m15.39 0h.01m13.79 0h.01m.39 0h.01m4.59 0h.01m-59.61 .2h.01m2.79 0h.01m8.19 0h.01m7.99 0h.01m8.59 0h.01m3.19 0h.01m7.59 0h.01m5.39 0h.01m10.79 0h.01m7.39 0h.01m24.99 0h.01m35.19 0h.01m-118.81 .2h.01m9.39 0h.01m.39 0h.01m1.79 0h.01m8.59 0h.01m10.19 0h.01m2.39 0h.01m2.99 0h.01m7.59 0h.01m1.59 0h.01m71.79 0h.01m-120.21 .2h.01m1.79 0h.01m.39 0h.01m4.79 0h.01m.99 0h.01m9.99 0h.01m.39 0h.01m6.79 0h.01m.59 0h.01m.79 0h.01m7.99 0h.01m15.79 0h.01m3.39 0h.01m1.39 0h.01m2.39 0h.01m-49.61 .2h.01m2.79 0h.01m5.99 0h.01m4.99 0h.01m3.99 0h.01m4.79 0h.01m3.19 0h.01m2.99 0h.01m.79 0h.01m11.39 0h.01m.59 0h.01m.99 0h.01m1.99 0h.01m7.99 0h.01m2.59 0h.01m6.99 0h.01m-70.21 .2h.01m1.19 0h.01m.19 0h.01m2.39 0h.01m12.99 0h.01m4.19 0h.01m1.79 0h.01m3.39 0h.01m3.59 0h.01m2.99 0h.01m5.39 0h.01m10.79 0h.01m2.39 0h.01m.19 0h.01m-46.01 .2h.01m1.99 0h.01m1.99 0h.01m2.19 0h.01m2.99 0h.01m1.99 0h.01m5.39 0h.01m2.79 0h.01m1.39 0h.01m5.99 0h.01m2.19 0h.01m.99 0h.01m3.99 0h.01m.19 0h.01m.19 0h.01m2.39 0h.01m4.19 0h.01m4.19 0h.01m2.39 0h.01m11.59 0h.01m39.99 0h.01m-104.81 .2h.01m2.59 0h.01m.39 0h.01m1.99 0h.01m2.79 0h.01m3.79 0h.01m15.59 0h.01m27.39 0h.01m3.99 0h.01m7.59 0h.01m5.39 0h.01m51.79 0h.01m-123.41 .2h.01m6.99 0h.01m1.59 0h.01m.59 0h.01m.59 0h.01m1.39 0h.01m5.19 0h.01m.39 0h.01m11.19 0h.01m1.79 0h.01m5.59 0h.01m19.99 0h.01m-49.41 .2h.01m1.39 0h.01m1.59 0h.01m3.59 0h.01m2.99 0h.01m2.59 0h.01m3.39 0h.01m.99 0h.01m1.39 0h.01m3.39 0h.01m2.99 0h.01m6.39 0h.01m2.59 0h.01m8.59 0h.01m13.39 0h.01m-61.41 .2h.01m4.59 0h.01m2.79 0h.01m.19 0h.01m.79 0h.01m.39 0h.01m2.19 0h.01m2.39 0h.01m6.39 0h.01m4.59 0h.01m.19 0h.01m2.19 0h.01m3.39 0h.01m2.19 0h.01m19.99 0h.01m95.19 0h.01m-146.61 .2h.01m11.39 0h.01m6.39 0h.01m1.39 0h.01m4.79 0h.01m6.39 0h.01m.79 0h.01m19.19 0h.01m2.59 0h.01m.79 0h.01m.99 0h.01m27.79 0h.01m44.99 0h.01m-128.61 .2h.01m3.39 0h.01m2.19 0h.01m1.99 0h.01m4.99 0h.01m2.39 0h.01m10.79 0h.01m3.79 0h.01m20.59 0h.01m6.59 0h.01m20.39 0h.01m-77.21 .2h.01m4.99 0h.01m2.19 0h.01m.99 0h.01m4.99 0h.01m3.59 0h.01m.99 0h.01m7.59 0h.01m.59 0h.01m.39 0h.01m1.79 0h.01m9.39 0h.01m2.79 0h.01m1.79 0h.01m5.19 0h.01m16.99 0h.01m5.99 0h.01m-70.41 .2h.01m.39 0h.01m.19 0h.01m5.39 0h.01m11.19 0h.01m.39 0h.01m3.19 0h.01m1.39 0h.01m4.99 0h.01m6.59 0h.01m10.99 0h.01m78.99 0h.01m-122.01 .2h.01m.59 0h.01m.39 0h.01m.99 0h.01m3.19 0h.01m1.39 0h.01m1.79 0h.01m.19 0h.01m6.39 0h.01m2.19 0h.01m3.79 0h.01m.59 0h.01m11.19 0h.01m5.19 0h.01m4.19 0h.01m3.99 0h.01m13.99 0h.01m5.39 0h.01m-66.41 .2h.01m11.19 0h.01m.19 0h.01m.19 0h.01m.59 0h.01m7.39 0h.01m3.19 0h.01m1.19 0h.01m.39 0h.01m1.39 0h.01m1.19 0h.01m4.39 0h.01m9.39 0h.01m1.99 0h.01m1.39 0h.01m5.39 0h.01m2.19 0h.01m.39 0h.01m5.39 0h.01m1.59 0h.01m14.79 0h.01m35.99 0h.01m-111.01 .2h.01m3.79 0h.01m.79 0h.01m.19 0h.01m.19 0h.01m1.79 0h.01m1.79 0h.01m3.19 0h.01m.19 0h.01m8.19 0h.01m.99 0h.01m1.99 0h.01m.79 0h.01m10.99 0h.01m.59 0h.01m4.79 0h.01m3.79 0h.01m16.39 0h.01m49.59 0h.01m-108.61 .2h.01m.79 0h.01m6.79 0h.01m.79 0h.01m3.39 0h.01m.39 0h.01m1.19 0h.01m3.99 0h.01m11.59 0h.01m8.39 0h.01m10.79 0h.01m9.79 0h.01m-59.41 .2h.01m8.59 0h.01m20.19 0h.01m3.19 0h.01m15.59 0h.01m-47.81 .2h.01m.19 0h.01m.99 0h.01m4.59 0h.01m3.19 0h.01m1.99 0h.01m5.19 0h.01m.79 0h.01m7.99 0h.01m.39 0h.01m7.39 0h.01m2.79 0h.01m.99 0h.01m5.79 0h.01m2.39 0h.01m1.79 0h.01m6.39 0h.01m1.39 0h.01m18.99 0h.01m-72.41 .2h.01m.79 0h.01m.59 0h.01m.39 0h.01m1.59 0h.01m2.59 0h.01m.79 0h.01m24.59 0h.01m1.39 0h.01m4.19 0h.01m-38.01 .2h.01m1.59 0h.01m4.59 0h.01m.19 0h.01m3.59 0h.01m.39 0h.01m.99 0h.01m1.79 0h.01m1.59 0h.01m8.19 0h.01m.19 0h.01m.79 0h.01m3.19 0h.01m4.39 0h.01m5.19 0h.01m2.99 0h.01m12.79 0h.01m5.79 0h.01m12.59 0h.01m6.39 0h.01m-71.41 .2h.01m.19 0h.01m1.79 0h.01m.79 0h.01m.79 0h.01m.39 0h.01m5.99 0h.01m3.39 0h.01m1.39 0h.01m3.79 0h.01m.59 0h.01m2.99 0h.01m2.59 0h.01m4.79 0h.01m.39 0h.01m8.19 0h.01m1.79 0h.01m3.59 0h.01m-49.61 .2h.01m1.59 0h.01m1.19 0h.01m1.59 0h.01m3.19 0h.01m1.39 0h.01m11.99 0h.01m16.99 0h.01m.79 0h.01m1.59 0h.01m1.79 0h.01m5.79 0h.01m6.19 0h.01m13.39 0h.01m5.99 0h.01m-73.61 .2h.01m1.79 0h.01m5.59 0h.01m.99 0h.01m.19 0h.01m2.19 0h.01m5.59 0h.01m.99 0h.01m.79 0h.01m5.99 0h.01m2.19 0h.01m11.39 0h.01m.39 0h.01m3.19 0h.01m5.59 0h.01m7.99 0h.01m7.59 0h.01m4.79 0h.01m.39 0h.01m46.19 0h.01m-114.01 .2h.01m1.59 0h.01m6.19 0h.01m1.99 0h.01m2.59 0h.01m1.39 0h.01m.59 0h.01m.19 0h.01m3.59 0h.01m5.19 0h.01m2.99 0h.01m12.39 0h.01m5.79 0h.01m9.59 0h.01m-54.01 .2h.01m.79 0h.01m1.39 0h.01m2.79 0h.01m.39 0h.01m3.19 0h.01m.79 0h.01m3.79 0h.01m5.39 0h.01m2.39 0h.01m8.19 0h.01m7.59 0h.01m16.79 0h.01m-53.81 .2h.01m1.39 0h.01m.19 0h.01m3.99 0h.01m2.59 0h.01m8.19 0h.01m.19 0h.01m1.79 0h.01m1.39 0h.01m1.79 0h.01m1.59 0h.01m.59 0h.01m.39 0h.01m.19 0h.01m5.39 0h.01m.19 0h.01m20.59 0h.01m15.59 0h.01m-63.61 .2h.01m15.19 0h.01m2.79 0h.01m.79 0h.01m3.19 0h.01m1.39 0h.01m.79 0h.01m9.99 0h.01m5.99 0h.01m.79 0h.01m.79 0h.01m4.79 0h.01m32.99 0h.01m8.59 0h.01m-79.61 .2h.01m.19 0h.01m.99 0h.01m4.99 0h.01m1.79 0h.01m.59 0h.01m3.79 0h.01m1.19 0h.01m.19 0h.01m.19 0h.01m6.99 0h.01m3.19 0h.01m3.99 0h.01m6.39 0h.01m.59 0h.01m.59 0h.01m3.19 0h.01m2.99 0h.01m3.79 0h.01m2.99 0h.01m31.79 0h.01m-91.81 .2h.01m2.19 0h.01m1.19 0h.01m13.99 0h.01m9.59 0h.01m.59 0h.01m5.99 0h.01m2.59 0h.01m10.59 0h.01m9.99 0h.01m18.59 0h.01m13.39 0h.01m-88.81 .2h.01m.99 0h.01m1.19 0h.01m.79 0h.01m8.19 0h.01m.39 0h.01m2.19 0h.01m.79 0h.01m3.39 0h.01m9.99 0h.01m.19 0h.01m.39 0h.01m14.19 0h.01m7.19 0h.01m-49.01 .2h.01m.59 0h.01m1.59 0h.01m1.19 0h.01m5.59 0h.01m21.79 0h.01m2.39 0h.01m4.59 0h.01m5.59 0h.01m47.99 0h.01m44.59 0h.01m-134.61 .2h.01m2.39 0h.01m1.99 0h.01m7.19 0h.01m3.19 0h.01m6.39 0h.01m1.19 0h.01m1.19 0h.01m10.19 0h.01m2.19 0h.01m.59 0h.01m5.59 0h.01m.39 0h.01m5.59 0h.01m2.19 0h.01m3.99 0h.01m.39 0h.01m2.59 0h.01m3.99 0h.01m3.39 0h.01m-64.61 .2h.01m7.59 0h.01m4.19 0h.01m.99 0h.01m.59 0h.01m1.99 0h.01m.79 0h.01m2.19 0h.01m5.59 0h.01m2.19 0h.01m5.19 0h.01m7.39 0h.01m9.39 0h.01m2.99 0h.01m6.19 0h.01m-57.61 .2h.01m1.19 0h.01m.19 0h.01m.59 0h.01m.19 0h.01m.39 0h.01m2.59 0h.01m8.39 0h.01m.79 0h.01m2.39 0h.01m.39 0h.01m15.99 0h.01m11.39 0h.01m11.59 0h.01m21.19 0h.01m29.99 0h.01m-109.81 .2h.01m.79 0h.01m9.79 0h.01m1.59 0h.01m9.99 0h.01m1.39 0h.01m1.59 0h.01m1.99 0h.01m2.79 0h.01m2.19 0h.01m1.19 0h.01m.99 0h.01m1.79 0h.01m65.79 0h.01m8.39 0h.01m-106.01 .2h.01m1.99 0h.01m.19 0h.01m.39 0h.01m2.79 0h.01m.59 0h.01m1.19 0h.01m.19 0h.01m4.19 0h.01m.79 0h.01m6.79 0h.01m5.39 0h.01m3.39 0h.01m1.79 0h.01m12.99 0h.01m2.59 0h.01m-49.81 .2h.01m.99 0h.01m.19 0h.01m2.39 0h.01m5.59 0h.01m4.19 0h.01m.39 0h.01m.59 0h.01m.39 0h.01m1.79 0h.01m10.79 0h.01m3.79 0h.01m.59 0h.01m.39 0h.01m8.19 0h.01m6.19 0h.01m13.79 0h.01m-60.41 .2h.01m4.59 0h.01m.59 0h.01m.39 0h.01m1.19 0h.01m.39 0h.01m.79 0h.01m2.39 0h.01m.19 0h.01m4.39 0h.01m3.39 0h.01m.19 0h.01m3.59 0h.01m.19 0h.01m.99 0h.01m3.19 0h.01m1.79 0h.01m.99 0h.01m.99 0h.01m.79 0h.01m4.59 0h.01m2.19 0h.01m3.19 0h.01m12.39 0h.01m5.79 0h.01m-58.61 .2h.01m.99 0h.01m1.79 0h.01m.19 0h.01m.79 0h.01m.99 0h.01m.79 0h.01m.99 0h.01m2.39 0h.01m1.19 0h.01m2.39 0h.01m.39 0h.01m.79 0h.01m3.19 0h.01m4.19 0h.01m1.99 0h.01m2.19 0h.01m.79 0h.01m6.19 0h.01m6.19 0h.01m1.99 0h.01m13.19 0h.01m22.19 0h.01m82.59 0h.01m-159.41 .2h.01m2.19 0h.01m1.59 0h.01m1.19 0h.01m1.19 0h.01m.19 0h.01m.39 0h.01m.79 0h.01m6.79 0h.01m5.79 0h.01m.99 0h.01m.19 0h.01m.39 0h.01m1.79 0h.01m7.19 0h.01m3.39 0h.01m.59 0h.01m2.79 0h.01m3.59 0h.01m5.59 0h.01m.79 0h.01m.59 0h.01m4.79 0h.01m10.19 0h.01m.99 0h.01m-64.21 .2h.01m2.79 0h.01m1.19 0h.01m2.79 0h.01m3.99 0h.01m.39 0h.01m.99 0h.01m2.79 0h.01m.59 0h.01m7.99 0h.01m1.19 0h.01m.19 0h.01m.19 0h.01m2.19 0h.01m2.79 0h.01m.39 0h.01m11.79 0h.01m9.19 0h.01m.79 0h.01m4.59 0h.01m18.19 0h.01m15.79 0h.01m21.39 0h.01m-111.81 .2h.01m1.19 0h.01m.59 0h.01m3.19 0h.01m3.39 0h.01m18.19 0h.01m2.79 0h.01m1.39 0h.01m5.79 0h.01m3.19 0h.01m2.99 0h.01m6.39 0h.01m.39 0h.01m27.99 0h.01m-77.61 .2h.01m3.99 0h.01m.99 0h.01m.59 0h.01m.39 0h.01m.39 0h.01m.79 0h.01m1.39 0h.01m2.79 0h.01m1.59 0h.01m.19 0h.01m.39 0h.01m7.79 0h.01m.19 0h.01m.59 0h.01m2.19 0h.01m2.79 0h.01m6.59 0h.01m6.19 0h.01m4.39 0h.01m4.79 0h.01m3.99 0h.01m35.59 0h.01m-89.41 .2h.01m.59 0h.01m.99 0h.01m.79 0h.01m.19 0h.01m.59 0h.01m2.79 0h.01m2.99 0h.01m4.39 0h.01m.59 0h.01m7.79 0h.01m1.99 0h.01m19.99 0h.01m2.99 0h.01m7.59 0h.01m9.99 0h.01m10.99 0h.01m5.79 0h.01m16.39 0h.01m-92.61 .2h.01m.59 0h.01m.39 0h.01m4.19 0h.01m.79 0h.01m.79 0h.01m9.19 0h.01m4.39 0h.01m3.79 0h.01m.39 0h.01m.59 0h.01m1.59 0h.01m.59 0h.01m1.39 0h.01m3.79 0h.01m3.39 0h.01m21.39 0h.01m5.99 0h.01m-68.01 .2h.01m1.19 0h.01m.39 0h.01m3.59 0h.01m.99 0h.01m.59 0h.01m2.59 0h.01m.39 0h.01m1.19 0h.01m.19 0h.01m.39 0h.01m2.59 0h.01m.39 0h.01m2.39 0h.01m1.99 0h.01m1.99 0h.01m.99 0h.01m1.79 0h.01m2.39 0h.01m10.59 0h.01m5.19 0h.01m8.39 0h.01m5.99 0h.01m16.99 0h.01m-67.41 .2h.01m2.39 0h.01m1.39 0h.01m1.59 0h.01m.99 0h.01m.79 0h.01m.99 0h.01m4.59 0h.01m3.39 0h.01m1.59 0h.01m2.59 0h.01m2.99 0h.01m1.99 0h.01m.79 0h.01m4.79 0h.01m3.19 0h.01m2.79 0h.01m2.19 0h.01m10.59 0h.01m4.19 0h.01m21.99 0h.01m15.79 0h.01m-98.21 .2h.01m3.19 0h.01m1.79 0h.01m.79 0h.01m1.59 0h.01m.79 0h.01m2.39 0h.01m.79 0h.01m.99 0h.01m.99 0h.01m.59 0h.01m.39 0h.01m.79 0h.01m1.39 0h.01m4.79 0h.01m10.99 0h.01m1.39 0h.01m.59 0h.01m1.99 0h.01m.19 0h.01m1.99 0h.01m12.39 0h.01m.19 0h.01m25.79 0h.01m29.99 0h.01m-107.01 .2h.01m.79 0h.01m1.59 0h.01m.79 0h.01m3.99 0h.01m1.99 0h.01m2.19 0h.01m.39 0h.01m.19 0h.01m1.19 0h.01m.79 0h.01m.59 0h.01m7.79 0h.01m6.59 0h.01m.59 0h.01m1.59 0h.01m1.79 0h.01m9.59 0h.01m.59 0h.01m.39 0h.01m14.19 0h.01m.99 0h.01m23.39 0h.01m-82.21 .2h.01m2.59 0h.01m3.39 0h.01m4.59 0h.01m.19 0h.01m1.39 0h.01m.99 0h.01m.59 0h.01m2.19 0h.01m.19 0h.01m5.39 0h.01m.99 0h.01m.59 0h.01m.19 0h.01m2.39 0h.01m.19 0h.01m2.39 0h.01m.19 0h.01m3.99 0h.01m3.59 0h.01m.59 0h.01m4.79 0h.01m4.19 0h.01m6.59 0h.01m.99 0h.01m6.39 0h.01m.79 0h.01m22.99 0h.01m4.59 0h.01m-86.41 .2h.01m2.39 0h.01m.79 0h.01m2.19 0h.01m.59 0h.01m.19 0h.01m.79 0h.01m1.99 0h.01m.99 0h.01m3.39 0h.01m.79 0h.01m.19 0h.01m1.79 0h.01m4.59 0h.01m1.39 0h.01m3.99 0h.01m.59 0h.01m.79 0h.01m1.79 0h.01m16.79 0h.01m1.79 0h.01m9.99 0h.01m18.59 0h.01m-78.41 .2h.01m1.59 0h.01m1.79 0h.01m.79 0h.01m1.19 0h.01m.99 0h.01m.19 0h.01m.19 0h.01m1.99 0h.01m.19 0h.01m.99 0h.01m.59 0h.01m1.99 0h.01m.39 0h.01m7.59 0h.01m.39 0h.01m5.99 0h.01m3.19 0h.01m15.19 0h.01m1.99 0h.01m12.19 0h.01m2.99 0h.01m3.19 0h.01m1.19 0h.01m-67.01 .2h.01m.99 0h.01m.59 0h.01m2.99 0h.01m1.79 0h.01m3.39 0h.01m3.59 0h.01m.99 0h.01m.79 0h.01m.19 0h.01m13.59 0h.01m.39 0h.01m.19 0h.01m12.19 0h.01m4.19 0h.01m1.79 0h.01m1.99 0h.01m.79 0h.01m4.39 0h.01m28.79 0h.01m12.39 0h.01m3.99 0h.01m-100.21 .2h.01m1.39 0h.01m4.59 0h.01m.19 0h.01m1.39 0h.01m1.39 0h.01m1.39 0h.01m3.39 0h.01m1.59 0h.01m.59 0h.01m3.99 0h.01m1.79 0h.01m5.39 0h.01m4.59 0h.01m4.59 0h.01m4.19 0h.01m.79 0h.01m9.79 0h.01m1.59 0h.01m3.19 0h.01m2.79 0h.01m6.99 0h.01m26.19 0h.01m-91.21 .2h.01m.39 0h.01m3.59 0h.01m.79 0h.01m1.59 0h.01m4.79 0h.01m.59 0h.01m6.59 0h.01m3.59 0h.01m.99 0h.01m1.59 0h.01m.19 0h.01m.19 0h.01m.59 0h.01m.79 0h.01m3.99 0h.01m1.39 0h.01m.39 0h.01m9.99 0h.01m8.99 0h.01m4.99 0h.01m2.39 0h.01m6.59 0h.01m11.19 0h.01m-77.21 .2h.01m5.19 0h.01m.99 0h.01m1.79 0h.01m12.79 0h.01m.79 0h.01m1.79 0h.01m.39 0h.01m.39 0h.01m2.59 0h.01m.19 0h.01m.39 0h.01m.79 0h.01m3.99 0h.01m3.39 0h.01m15.59 0h.01m1.79 0h.01m.39 0h.01m1.59 0h.01m21.39 0h.01m6.79 0h.01m-83.21 .2h.01m4.19 0h.01m1.19 0h.01m3.99 0h.01m4.79 0h.01m1.59 0h.01m.39 0h.01m.19 0h.01m.59 0h.01m13.79 0h.01m9.59 0h.01m8.99 0h.01m1.59 0h.01m.19 0h.01m.99 0h.01m12.19 0h.01m-53.81 .2h.01m.39 0h.01m.19 0h.01m1.59 0h.01m.19 0h.01m4.99 0h.01m.79 0h.01m9.59 0h.01m1.99 0h.01m9.79 0h.01m4.79 0h.01m3.39 0h.01m7.39 0h.01m.39 0h.01m3.19 0h.01m2.99 0h.01m-62.41 .2h.01m2.59 0h.01m3.39 0h.01m.99 0h.01m4.79 0h.01m.19 0h.01m4.79 0h.01m.19 0h.01m9.39 0h.01m2.99 0h.01m1.59 0h.01m2.79 0h.01m2.59 0h.01m11.59 0h.01m.19 0h.01m1.19 0h.01m5.39 0h.01m22.19 0h.01m-77.01 .2h.01m.19 0h.01m.99 0h.01m.19 0h.01m7.99 0h.01m10.39 0h.01m1.59 0h.01m.59 0h.01m4.79 0h.01m.59 0h.01m4.79 0h.01m.99 0h.01m1.99 0h.01m3.39 0h.01m8.59 0h.01m1.39 0h.01m6.99 0h.01m3.19 0h.01m-58.21 .2h.01m.59 0h.01m3.99 0h.01m3.99 0h.01m5.99 0h.01m1.19 0h.01m.39 0h.01m5.99 0h.01m.99 0h.01m3.59 0h.01m2.79 0h.01m6.39 0h.01m2.59 0h.01m.59 0h.01m3.59 0h.01m6.99 0h.01m.79 0h.01m4.59 0h.01m-55.81 .2h.01m.99 0h.01m1.79 0h.01m2.79 0h.01m.39 0h.01m2.39 0h.01m1.79 0h.01m6.99 0h.01m1.59 0h.01m1.59 0h.01m2.59 0h.01m3.39 0h.01m1.59 0h.01m1.79 0h.01m11.19 0h.01m3.79 0h.01m1.79 0h.01m.79 0h.01m7.59 0h.01m5.59 0h.01m1.59 0h.01m9.79 0h.01m44.39 0h.01m-116.41 .2h.01m.59 0h.01m4.79 0h.01m.39 0h.01m2.59 0h.01m2.39 0h.01m.59 0h.01m1.99 0h.01m.79 0h.01m1.99 0h.01m.39 0h.01m.99 0h.01m1.79 0h.01m1.59 0h.01m3.79 0h.01m.99 0h.01m1.59 0h.01m6.99 0h.01m3.79 0h.01m11.99 0h.01m2.79 0h.01m3.39 0h.01m15.19 0h.01m3.59 0h.01m80.59 0h.01m-155.81 .2h.01m1.39 0h.01m.79 0h.01m3.59 0h.01m.59 0h.01m11.99 0h.01m4.99 0h.01m2.99 0h.01m1.99 0h.01m6.79 0h.01m1.79 0h.01m1.39 0h.01m.99 0h.01m4.79 0h.01m10.19 0h.01m2.99 0h.01m5.39 0h.01m33.19 0h.01m-96.01 .2h.01m.59 0h.01m4.99 0h.01m2.39 0h.01m4.79 0h.01m3.39 0h.01m.19 0h.01m14.99 0h.01m.19 0h.01m1.99 0h.01m1.79 0h.01m2.19 0h.01m5.19 0h.01m.79 0h.01m2.39 0h.01m10.59 0h.01m1.59 0h.01m9.19 0h.01m-67.41 .2h.01m.59 0h.01m1.19 0h.01m2.19 0h.01m2.39 0h.01m.99 0h.01m3.39 0h.01m.19 0h.01m.99 0h.01m7.99 0h.01m5.99 0h.01m6.39 0h.01m12.79 0h.01m1.19 0h.01m5.19 0h.01m.99 0h.01m27.99 0h.01m64.59 0h.01m-144.61 .2h.01m2.99 0h.01m1.99 0h.01m3.39 0h.01m3.99 0h.01m3.59 0h.01m7.79 0h.01m4.59 0h.01m2.79 0h.01m5.79 0h.01m20.59 0h.01m84.59 0h.01m-142.81 .2h.01m.79 0h.01m2.19 0h.01m3.39 0h.01m.39 0h.01m1.59 0h.01m.19 0h.01m7.39 0h.01m.59 0h.01m.39 0h.01m.39 0h.01m1.39 0h.01m4.79 0h.01m.99 0h.01m3.99 0h.01m1.99 0h.01m.19 0h.01m1.99 0h.01m20.39 0h.01m28.99 0h.01m28.39 0h.01m-110.61 .2h.01m.19 0h.01m9.59 0h.01m3.59 0h.01m1.39 0h.01m10.79 0h.01m17.99 0h.01m-43.61 .2h.01m2.19 0h.01m6.79 0h.01m4.79 0h.01m10.39 0h.01m12.99 0h.01m1.99 0h.01m3.39 0h.01m7.59 0h.01m14.39 0h.01m-64.01 .2h.01m.19 0h.01m1.19 0h.01m10.59 0h.01m10.19 0h.01m3.19 0h.01m1.79 0h.01m.59 0h.01m4.79 0h.01m.19 0h.01m9.79 0h.01m21.19 0h.01m25.19 0h.01m-89.61 .2h.01m.19 0h.01m.19 0h.01m.99 0h.01m.79 0h.01m15.19 0h.01m.99 0h.01m31.59 0h.01m13.99 0h.01m-60.61 .2h.01m7.99 0h.01m6.59 0h.01m.79 0h.01m1.39 0h.01m4.99 0h.01m3.79 0h.01m15.79 0h.01m-42.61 .2h.01m7.39 0h.01m3.79 0h.01m9.59 0h.01m5.59 0h.01m21.79 0h.01m3.19 0h.01m10.99 0h.01m7.79 0h.01m-58.81 .2h.01m2.19 0h.01m44.59 0h.01"/><path class="rl" d="M289.36 499.15L448.31 497.82"/><path class="ax" d="M275.35 395.9V514.1M274.75 513.5H451.1"/><path class="tk" d="M272.05 513.5H275.35M272.05 474.5H275.35M272.05 435.5H275.35M272.05 396.5H275.35M275.35 513.5V517M319.14 513.5V517M362.93 513.5V517M406.71 513.5V517M450.5 513.5V517"/><text class="tl" text-anchor="end" transform="translate(270.35 516.65) scale(1.19 1)">0</text><text class="tl" text-anchor="end" transform="translate(270.35 477.65) scale(1.19 1)">10</text><text class="tl" text-anchor="end" transform="translate(270.35 438.65) scale(1.19 1)">20</text><text class="tl" text-anchor="end" transform="translate(270.35 399.65) scale(1.19 1)">30</text><text class="tl" text-anchor="middle" transform="translate(275.55 528.95) scale(1.19 1)">0</text><text class="tl" text-anchor="middle" transform="translate(319.34 528.95) scale(1.19 1)">2</text><text class="tl" text-anchor="middle" transform="translate(363.12 528.95) scale(1.19 1)">4</text><text class="tl" text-anchor="middle" transform="translate(406.91 528.95) scale(1.19 1)">6</text><text class="tl" text-anchor="middle" transform="translate(450.7 528.95) scale(1.19 1)">8</text><text class="ti" text-anchor="middle" transform="translate(363.23 544.5) scale(1.23 1)">P (nmol/L)</text><text class="ti" text-anchor="middle" transform="translate(250.35 452.5) rotate(-90) scale(1.23 1)">AMH (ng/ml)</text><text class="an" transform="translate(374 415.7) scale(1.2 1)">P = 0.143</text><text class="an" transform="translate(374 426.9) scale(1.2 1)">R = 0.032</text></g>
<g><path class="pt" d="M541.4 423.8h.01m16.39 0h.01m-15.21 .4h.01m19.99 .4h.01m-12.81 11.6h.01m11.59 6.4h.01m-28.81 .6h.01m21.19 2.2h.01m4.59 2.2h.01m-12.21 1.8h.01m30.99 2.4h.01m-32.41 2.8h.01m38.19 0h.01m-29.81 .4h.01m9.79 1.6h.01m-16.61 .4h.01m28.99 0h.01m-39.21 .2h.01m-5.01 .4h.01m10.99 0h.01m9.59 .8h.01m-15.61 1h.01m-2.41 .4h.01m17.59 .6h.01m-.21 .2h.01m-9.21 .2h.01m28.19 .2h.01m-31.81 1.8h.01m12.19 .4h.01m42.39 0h.01m-59.41 .4h.01m-7.61 .6h.01m15.59 .2h.01m4.59 0h.01m3.59 .2h.01m16.99 .4h.01m-34.21 .2h.01m.79 0h.01m17.39 0h.01m11.99 .2h.01m-24.61 .2h.01m-15.41 .2h.01m37.79 0h.01m-9.61 .6h.01m3.99 .2h.01m2.59 .6h.01m10.39 0h.01m-38.41 .4h.01m8.99 .4h.01m43.59 0h.01m-12.41 .4h.01m-40.21 .2h.01m5.79 0h.01m7.59 0h.01m-18.21 .4h.01m16.39 0h.01m8.39 0h.01m.19 .2h.01m-11.21 .8h.01m-21.01 .4h.01m26.39 0h.01m7.59 0h.01m11.79 0h.01m-22.41 .2h.01m7.99 0h.01m-7.61 .2h.01m-9.61 .2h.01m9.39 .4h.01m5.79 .2h.01m-6.81 .4h.01m2.39 0h.01m6.19 0h.01m-28.81 .4h.01m20.39 0h.01m16.19 .4h.01m2.79 0h.01m-.21 .2h.01m-31.41 .6h.01m4.59 .2h.01m.19 0h.01m42.79 .2h.01m-49.21 .6h.01m11.59 0h.01m-10.61 .2h.01m16.79 0h.01m13.99 0h.01m-21.21 .4h.01m.39 0h.01m4.39 .2h.01m-4.21 .2h.01m-2.41 .4h.01m11.79 0h.01m36.99 0h.01m-47.01 .2h.01m.19 .2h.01m32.59 .4h.01m-16.21 .2h.01m-27.41 .2h.01m2.19 0h.01m17.19 0h.01m-9.21 .4h.01m7.19 0h.01m39.99 0h.01m-46.61 .2h.01m-19.41 .6h.01m11.99 0h.01m-12.81 .2h.01m22.59 0h.01m7.59 0h.01m-2.41 .2h.01m-12.41 .2h.01m6.79 .2h.01m11.79 0h.01m-1.61 .2h.01m-2.61 .2h.01m13.99 0h.01m-25.21 .2h.01m2.79 0h.01m3.39 0h.01m3.79 0h.01m5.39 0h.01m-23.21 .2h.01m6.79 0h.01m6.79 0h.01m.39 0h.01m4.59 0h.01m16.59 0h.01m-15.41 .2h.01m-31.81 .2h.01m17.79 .2h.01m26.59 0h.01m-40.61 .2h.01m19.79 0h.01m2.39 0h.01m-7.41 .2h.01m9.79 0h.01m-18.41 .2h.01m6.99 0h.01m.19 .2h.01m9.99 0h.01m16.39 0h.01m-31.41 .2h.01m4.99 0h.01m18.19 0h.01m-22.21 .2h.01m48.59 0h.01m-48.21 .4h.01m20.39 0h.01m-20.01 .2h.01m5.19 0h.01m.79 0h.01m-.61 .2h.01m.99 0h.01m-7.01 .2h.01m.99 0h.01m2.99 .2h.01m2.39 0h.01m.39 0h.01m4.19 0h.01m5.19 0h.01m4.19 0h.01m-30.01 .2h.01m31.39 0h.01m-12.41 .2h.01m1.59 .2h.01m23.39 0h.01m-41.01 .2h.01m16.99 0h.01m-8.21 .2h.01m22.19 0h.01m-33.21 .2h.01m15.19 0h.01m11.99 0h.01m45.79 0h.01m-69.61 .2h.01m12.19 0h.01m10.79 0h.01m-25.21 .2h.01m9.19 0h.01m5.99 0h.01m.99 0h.01m-11.21 .2h.01m.79 0h.01m4.79 0h.01m2.59 0h.01m11.59 0h.01m10.79 0h.01m-35.21 .2h.01m3.19 0h.01m7.79 0h.01m3.79 0h.01m-16.21 .2h.01m6.99 0h.01m2.79 0h.01m8.19 0h.01m-.01 .2h.01m11.19 0h.01m4.19 0h.01m4.59 0h.01m-7.01 .2h.01m-20.41 .2h.01m45.39 0h.01m-50.61 .2h.01m3.39 0h.01m5.79 0h.01m9.19 0h.01m4.39 0h.01m-28.01 .2h.01m5.59 0h.01m1.19 .2h.01m8.99 0h.01m17.19 0h.01m-15.61 .2h.01m9.39 0h.01m5.99 0h.01m9.19 0h.01m-40.41 .2h.01m.39 0h.01m5.39 0h.01m.39 0h.01m7.99 0h.01m4.59 0h.01m1.19 0h.01m3.99 0h.01m6.79 0h.01m29.19 0h.01m-46.81 .2h.01m9.99 0h.01m1.19 0h.01m8.19 0h.01m-37.81 .2h.01m9.19 0h.01m1.99 0h.01m8.79 0h.01m2.19 0h.01m3.99 0h.01m-3.61 .2h.01m.19 0h.01m1.39 0h.01m-12.61 .2h.01m2.99 0h.01m3.39 0h.01m.99 0h.01m4.99 0h.01m.39 0h.01m.19 0h.01m3.99 0h.01m.79 0h.01m14.99 0h.01m-34.41 .2h.01m6.79 0h.01m1.59 0h.01m4.59 0h.01m3.79 0h.01m.59 0h.01m10.59 0h.01m-33.61 .2h.01m22.19 0h.01m11.19 0h.01m-30.41 .2h.01m6.99 0h.01m-8.81 .2h.01m6.19 0h.01m3.79 0h.01m7.39 0h.01m6.39 0h.01m-18.61 .2h.01m3.99 0h.01m4.79 0h.01m4.19 0h.01m-2.41 .2h.01m2.99 0h.01m.39 0h.01m-12.41 .2h.01m1.79 0h.01m.39 0h.01m.59 0h.01m3.99 0h.01m1.39 0h.01m-5.01 .2h.01m14.79 0h.01m4.19 0h.01m-29.41 .2h.01m8.59 0h.01m14.79 0h.01m2.19 0h.01m12.79 0h.01m-33.21 .2h.01m1.19 0h.01m1.19 0h.01m4.59 0h.01m4.59 0h.01m4.39 0h.01m5.19 0h.01m1.59 0h.01m4.19 0h.01m-32.41 .2h.01m4.39 0h.01m16.19 0h.01m1.99 0h.01m.39 0h.01m-31.81 .2h.01m6.59 0h.01m.19 0h.01m4.59 0h.01m7.59 0h.01m8.39 0h.01m.39 0h.01m15.19 0h.01m.59 0h.01m-37.41 .2h.01m2.99 0h.01m4.79 0h.01m4.99 0h.01m1.79 0h.01m6.79 0h.01m1.59 0h.01m-20.21 .2h.01m.79 0h.01m3.19 0h.01m2.79 0h.01m.99 0h.01m6.39 0h.01m1.39 0h.01m15.79 0h.01m2.39 0h.01m-33.21 .2h.01m.79 0h.01m.19 0h.01m.59 0h.01m4.39 0h.01m.79 0h.01m1.19 0h.01m2.59 0h.01m4.59 0h.01m2.99 0h.01m-19.41 .2h.01m5.39 0h.01m1.79 0h.01m1.39 0h.01m2.19 0h.01m2.59 0h.01m-2.21 .2h.01m6.79 0h.01m10.59 0h.01m-39.01 .2h.01m17.59 0h.01m5.59 0h.01m1.19 0h.01m-24.41 .2h.01m22.79 0h.01m8.79 0h.01m3.19 0h.01m20.79 0h.01m-48.61 .2h.01m11.39 0h.01m13.19 0h.01m-22.21 .2h.01m4.79 0h.01m3.79 0h.01m1.79 0h.01m.59 0h.01m2.59 0h.01m1.39 0h.01m30.19 0h.01m-50.21 .2h.01m16.79 0h.01m.39 0h.01m4.19 0h.01m3.99 0h.01m-19.81 .2h.01m7.39 0h.01m6.39 0h.01m.79 0h.01m7.19 0h.01m.19 0h.01m7.99 0h.01m1.79 0h.01m35.19 0h.01m-67.21 .2h.01m3.19 0h.01m3.39 0h.01m4.59 0h.01m-11.21 .2h.01m7.79 0h.01m1.99 0h.01m2.39 0h.01m.79 0h.01m7.59 0h.01m.39 0h.01m9.99 0h.01m-30.01 .2h.01m2.99 0h.01m12.79 0h.01m1.59 0h.01m2.19 0h.01m1.19 0h.01m3.19 0h.01m1.79 0h.01m4.99 0h.01m-28.81 .2h.01m6.99 0h.01m3.39 0h.01m1.79 0h.01m6.19 0h.01m-20.81 .2h.01m2.99 0h.01m2.59 0h.01m3.39 0h.01m4.39 0h.01m9.19 0h.01m10.39 0h.01m-42.21 .2h.01m6.59 0h.01m3.39 0h.01m5.79 0h.01m.79 0h.01m.79 0h.01m2.59 0h.01m3.59 0h.01m9.39 0h.01m4.79 0h.01m3.59 0h.01m-41.81 .2h.01m13.79 0h.01m2.39 0h.01m4.99 0h.01m.99 0h.01m1.39 0h.01m6.59 0h.01m4.79 0h.01m3.79 0h.01m-39.61 .2h.01m10.59 0h.01m4.79 0h.01m3.39 0h.01m2.99 0h.01m2.99 0h.01m3.99 0h.01m1.79 0h.01m4.59 0h.01m4.19 0h.01m-31.61 .2h.01m2.79 0h.01m12.99 0h.01m1.79 0h.01m5.79 0h.01m-26.61 .2h.01m3.19 0h.01m3.39 0h.01m10.79 0h.01m2.39 0h.01m3.59 0h.01m-23.41 .2h.01m12.39 0h.01m2.39 0h.01m.39 0h.01m3.79 0h.01m3.99 0h.01m2.99 0h.01m9.59 0h.01m-16.41 .2h.01m.19 0h.01m.99 0h.01m1.19 0h.01m2.59 0h.01m3.39 0h.01m6.99 0h.01m9.59 0h.01m-44.81 .2h.01m3.19 0h.01m.99 0h.01m1.79 0h.01m9.59 0h.01m.79 0h.01m.19 0h.01m.59 0h.01m2.59 0h.01m2.19 0h.01m1.99 0h.01m6.59 0h.01m-21.81 .2h.01m4.99 0h.01m5.99 0h.01m1.39 0h.01m1.39 0h.01m1.19 0h.01m-23.01 .2h.01m14.59 0h.01m3.39 0h.01m1.79 0h.01m3.39 0h.01m4.79 0h.01m16.39 0h.01m-31.81 .2h.01m1.39 0h.01m2.39 0h.01m2.39 0h.01m7.99 0h.01m8.59 0h.01m-39.01 .2h.01m.59 0h.01m2.39 0h.01m4.39 0h.01m.79 0h.01m.19 0h.01m.19 0h.01m1.99 0h.01m2.19 0h.01m.79 0h.01m4.39 0h.01m.19 0h.01m.59 0h.01m.19 0h.01m2.79 0h.01m3.79 0h.01m2.99 0h.01m2.99 0h.01m-28.21 .2h.01m4.79 0h.01m8.99 0h.01m2.59 0h.01m15.39 0h.01m-34.41 .2h.01m3.79 0h.01m2.99 0h.01m.59 0h.01m21.19 0h.01m12.99 0h.01m7.79 0h.01m9.19 0h.01m-53.81 .2h.01m1.59 0h.01m3.79 0h.01m3.99 0h.01m1.19 0h.01m2.19 0h.01m2.19 0h.01m4.19 0h.01m.79 0h.01m.79 0h.01m15.59 0h.01m24.99 0h.01m-65.41 .2h.01m5.59 0h.01m2.39 0h.01m.39 0h.01m4.59 0h.01m5.59 0h.01m4.99 0h.01m.19 0h.01m2.39 0h.01m1.99 0h.01m.59 0h.01m2.19 0h.01m-27.01 .2h.01m4.79 0h.01m1.79 0h.01m.79 0h.01m.99 0h.01m2.99 0h.01m1.39 0h.01m.99 0h.01m.59 0h.01m3.39 0h.01m10.79 0h.01m.99 0h.01m.39 0h.01m3.39 0h.01m8.39 0h.01m17.39 0h.01m-66.01 .2h.01m8.19 0h.01m7.79 0h.01m3.79 0h.01m.39 0h.01m1.39 0h.01m5.59 0h.01m.59 0h.01m3.39 0h.01m46.79 0h.01m-75.21 .2h.01m3.79 0h.01m1.39 0h.01m7.59 0h.01m.59 0h.01m.19 0h.01m.99 0h.01m.39 0h.01m1.99 0h.01m7.39 0h.01m.79 0h.01m1.19 0h.01m1.59 0h.01m25.59 0h.01m-53.41 .2h.01m1.19 0h.01m3.99 0h.01m6.59 0h.01m5.19 0h.01m1.59 0h.01m.79 0h.01m1.39 0h.01m1.99 0h.01m1.39 0h.01m6.59 0h.01m10.19 0h.01m30.79 0h.01m-64.81 .2h.01m1.79 0h.01m.79 0h.01m4.79 0h.01m10.19 0h.01m.19 0h.01m6.39 0h.01m18.19 0h.01m-38.01 .2h.01m2.19 0h.01m4.19 0h.01m4.99 0h.01m8.39 0h.01m6.59 0h.01m-38.81 .2h.01m.59 0h.01m7.59 0h.01m.39 0h.01m.19 0h.01m.19 0h.01m3.59 0h.01m2.99 0h.01m5.59 0h.01m.79 0h.01m.79 0h.01m.59 0h.01m1.59 0h.01m5.59 0h.01m4.79 0h.01m2.39 0h.01m-35.21 .2h.01m6.19 0h.01m2.79 0h.01m1.99 0h.01m2.39 0h.01m.59 0h.01m2.19 0h.01m.99 0h.01m1.99 0h.01m1.99 0h.01m5.99 0h.01m5.59 0h.01m-36.21 .2h.01m4.79 0h.01m2.79 0h.01m.39 0h.01m1.39 0h.01m2.39 0h.01m.39 0h.01m.39 0h.01m2.99 0h.01m1.79 0h.01m.19 0h.01m2.79 0h.01m6.59 0h.01m6.99 0h.01m4.39 0h.01m.19 0h.01m-35.41 .2h.01m5.39 0h.01m11.59 0h.01m.19 0h.01m.59 0h.01m6.59 0h.01m1.59 0h.01m2.39 0h.01m.59 0h.01m2.99 0h.01m2.79 0h.01m-38.41 .2h.01m.59 0h.01m5.19 0h.01m1.79 0h.01m.79 0h.01m.59 0h.01m2.19 0h.01m.99 0h.01m1.79 0h.01m4.99 0h.01m.99 0h.01m.19 0h.01m.39 0h.01m.39 0h.01m3.79 0h.01m1.79 0h.01m1.79 0h.01m40.99 0h.01m-70.21 .2h.01m14.39 0h.01m.59 0h.01m2.59 0h.01m6.19 0h.01m.99 0h.01m4.99 0h.01m1.19 0h.01m4.19 0h.01m-29.21 .2h.01m2.79 0h.01m4.39 0h.01m2.79 0h.01m.99 0h.01m.39 0h.01m4.99 0h.01m4.79 0h.01m.19 0h.01m3.19 0h.01m2.19 0h.01m1.79 0h.01m-27.21 .2h.01m3.39 0h.01m1.19 0h.01m1.59 0h.01m5.99 0h.01m5.59 0h.01m.39 0h.01m-16.21 .2h.01m3.99 0h.01m.79 0h.01m.79 0h.01m5.79 0h.01m1.39 0h.01m.39 0h.01m3.39 0h.01m.39 0h.01m8.99 0h.01m-29.21 .2h.01m6.79 0h.01m4.19 0h.01m.59 0h.01m.79 0h.01m2.19 0h.01m.59 0h.01m.79 0h.01m5.79 0h.01m2.19 0h.01m.39 0h.01m.19 0h.01m1.79 0h.01m1.79 0h.01m5.59 0h.01m4.59 0h.01m-44.61 .2h.01m3.79 0h.01m.19 0h.01m6.59 0h.01m1.79 0h.01m.79 0h.01m1.19 0h.01m8.39 0h.01m1.79 0h.01m.79 0h.01m10.59 0h.01m3.19 0h.01m-31.01 .2h.01m1.39 0h.01m4.99 0h.01m2.59 0h.01m.99 0h.01m11.19 0h.01m6.79 0h.01m-34.21 .2h.01m.99 0h.01m.79 0h.01m.19 0h.01m1.39 0h.01m2.19 0h.01m3.19 0h.01m.59 0h.01m1.19 0h.01m1.39 0h.01m8.99 0h.01m2.39 0h.01m.39 0h.01m2.19 0h.01m1.19 0h.01m5.79 0h.01m.59 0h.01m.79 0h.01m.39 0h.01m-23.41 .2h.01m1.99 0h.01m1.79 0h.01m.39 0h.01m1.19 0h.01m2.19 0h.01m.79 0h.01m2.19 0h.01m1.59 0h.01m2.19 0h.01m1.79 0h.01m-23.61 .2h.01m3.19 0h.01m3.19 0h.01m.99 0h.01m.19 0h.01m.39 0h.01m1.19 0h.01m1.39 0h.01m.79 0h.01m1.19 0h.01m1.99 0h.01m3.59 0h.01m.39 0h.01m2.99 0h.01m4.59 0h.01m1.99 0h.01m.39 0h.01m.19 0h.01m-29.81 .2h.01m1.19 0h.01m4.99 0h.01m3.39 0h.01m.79 0h.01m1.79 0h.01m6.19 0h.01m9.39 0h.01m7.99 0h.01m-40.81 .2h.01m2.39 0h.01m1.99 0h.01m.59 0h.01m.39 0h.01m2.19 0h.01m5.19 0h.01m1.19 0h.01m.19 0h.01m2.79 0h.01m1.39 0h.01m.59 0h.01m.39 0h.01m3.99 0h.01m3.39 0h.01m2.59 0h.01m.19 0h.01m-26.61 .2h.01m.39 0h.01m2.79 0h.01m3.19 0h.01m.79 0h.01m.59 0h.01m.39 0h.01m1.19 0h.01m9.39 0h.01m.39 0h.01m6.19 0h.01m2.99 0h.01m.39 0h.01m.59 0h.01m7.59 0h.01m-37.61 .2h.01m6.79 0h.01m.79 0h.01m2.39 0h.01m2.59 0h.01m1.79 0h.01m.39 0h.01m.79 0h.01m3.99 0h.01m4.19 0h.01m.39 0h.01m16.59 0h.01m2.99 0h.01m-46.21 .2h.01m2.39 0h.01m4.99 0h.01m6.99 0h.01m.59 0h.01m.39 0h.01m1.79 0h.01m1.59 0h.01m.99 0h.01m.19 0h.01m.59 0h.01m2.99 0h.01m1.59 0h.01m5.19 0h.01m3.59 0h.01m-29.81 .2h.01m1.79 0h.01m.79 0h.01m2.99 0h.01m5.19 0h.01m1.59 0h.01m4.79 0h.01m4.59 0h.01m.99 0h.01m2.99 0h.01m1.79 0h.01m27.79 0h.01m3.79 0h.01m-59.81 .2h.01m2.39 0h.01m.19 0h.01m1.39 0h.01m1.19 0h.01m3.59 0h.01m1.59 0h.01m1.39 0h.01m2.19 0h.01m.39 0h.01m2.79 0h.01m1.39 0h.01m6.19 0h.01m.39 0h.01m1.19 0h.01m20.99 0h.01m4.79 0h.01m-55.21 .2h.01m4.19 0h.01m.59 0h.01m5.99 0h.01m.59 0h.01m.59 0h.01m1.59 0h.01m.99 0h.01m.79 0h.01m1.19 0h.01m.19 0h.01m.19 0h.01m.99 0h.01m.59 0h.01m.19 0h.01m1.39 0h.01m.59 0h.01m.59 0h.01m7.59 0h.01m9.79 0h.01m7.99 0h.01m14.59 0h.01m-62.01 .2h.01m3.19 0h.01m2.19 0h.01m2.59 0h.01m1.19 0h.01m1.99 0h.01m.19 0h.01m3.59 0h.01m1.59 0h.01m.99 0h.01m.79 0h.01m.19 0h.01m3.39 0h.01m.79 0h.01m.79 0h.01m19.99 0h.01m30.59 0h.01m-74.21 .2h.01m6.79 0h.01m1.59 0h.01m1.19 0h.01m.59 0h.01m1.79 0h.01m1.79 0h.01m4.79 0h.01m.59 0h.01m1.99 0h.01m.59 0h.01m3.79 0h.01m1.79 0h.01m7.39 0h.01m1.39 0h.01m9.59 0h.01m-45.81 .2h.01m.59 0h.01m7.59 0h.01m2.39 0h.01m2.99 0h.01m1.19 0h.01m.99 0h.01m1.79 0h.01m3.79 0h.01m2.39 0h.01m1.19 0h.01m3.79 0h.01m.39 0h.01m2.99 0h.01m9.39 0h.01m-41.61 .2h.01m3.19 0h.01m.39 0h.01m1.79 0h.01m1.39 0h.01m.19 0h.01m4.59 0h.01m1.59 0h.01m.79 0h.01m2.79 0h.01m.79 0h.01m1.19 0h.01m.79 0h.01m.59 0h.01m2.59 0h.01m.39 0h.01m4.59 0h.01m5.59 0h.01m.79 0h.01m.79 0h.01m4.99 0h.01m-37.41 .2h.01m.79 0h.01m2.59 0h.01m.99 0h.01m1.19 0h.01m.79 0h.01m1.79 0h.01m.59 0h.01m.59 0h.01m.59 0h.01m.99 0h.01m1.59 0h.01m1.99 0h.01m.39 0h.01m.39 0h.01m.19 0h.01m.19 0h.01m1.39 0h.01m2.79 0h.01m1.79 0h.01m2.59 0h.01m1.39 0h.01m2.39 0h.01m.39 0h.01m1.99 0h.01m-33.21 .2h.01m1.39 0h.01m5.39 0h.01m4.59 0h.01m.59 0h.01m3.79 0h.01m.99 0h.01m1.39 0h.01m1.39 0h.01m3.19 0h.01m9.79 0h.01m2.19 0h.01m8.79 0h.01m-43.61 .2h.01m.19 0h.01m3.59 0h.01m1.39 0h.01m9.79 0h.01m.39 0h.01m.79 0h.01m.39 0h.01m2.19 0h.01m1.19 0h.01m1.59 0h.01m2.99 0h.01m1.59 0h.01m1.99 0h.01m.19 0h.01m.19 0h.01m.99 0h.01m2.79 0h.01m28.99 0h.01m-59.41 .2h.01m.59 0h.01m6.99 0h.01m1.79 0h.01m1.59 0h.01m.39 0h.01m.99 0h.01m.79 0h.01m.19 0h.01m.19 0h.01m1.19 0h.01m7.99 0h.01m.99 0h.01m2.39 0h.01m2.59 0h.01m2.19 0h.01m3.39 0h.01m-36.41 .2h.01m5.79 0h.01m7.59 0h.01m.79 0h.01m.99 0h.01m.99 0h.01m1.39 0h.01m.39 0h.01m.39 0h.01m.39 0h.01m6.79 0h.01m.39 0h.01m2.19 0h.01m1.19 0h.01m.59 0h.01m10.59 0h.01m-40.61 .2h.01m2.99 0h.01m2.79 0h.01m2.99 0h.01m.19 0h.01m2.39 0h.01m2.39 0h.01m1.99 0h.01m2.39 0h.01m1.19 0h.01m.99 0h.01m.19 0h.01m.19 0h.01m1.39 0h.01m.19 0h.01m3.99 0h.01m1.59 0h.01m1.39 0h.01m9.99 0h.01m-39.41 .2h.01m1.99 0h.01m.19 0h.01m1.99 0h.01m4.19 0h.01m1.19 0h.01m1.59 0h.01m1.19 0h.01m.39 0h.01m.99 0h.01m.19 0h.01m.59 0h.01m3.79 0h.01m1.79 0h.01m1.79 0h.01m.99 0h.01m3.19 0h.01m.19 0h.01m1.99 0h.01m3.59 0h.01m19.99 0h.01m-52.01 .2h.01m1.79 0h.01m1.79 0h.01m1.39 0h.01m1.79 0h.01m.39 0h.01m1.39 0h.01m.59 0h.01m.99 0h.01m.79 0h.01m3.59 0h.01m1.79 0h.01m3.99 0h.01m1.99 0h.01m4.59 0h.01m1.39 0h.01m5.39 0h.01m22.59 0h.01m-53.81 .2h.01m.79 0h.01m2.39 0h.01m.79 0h.01m3.79 0h.01m.99 0h.01m.39 0h.01m.19 0h.01m.59 0h.01m2.39 0h.01m.19 0h.01m.99 0h.01m2.59 0h.01m.39 0h.01m.99 0h.01m.79 0h.01m.79 0h.01m5.79 0h.01m3.59 0h.01m15.99 0h.01m17.99 0h.01m-64.81 .2h.01m.19 0h.01m.59 0h.01m.99 0h.01m1.99 0h.01m1.19 0h.01m1.39 0h.01m.79 0h.01m1.99 0h.01m1.19 0h.01m1.99 0h.01m1.39 0h.01m.39 0h.01m5.19 0h.01m.19 0h.01m1.59 0h.01m.59 0h.01m4.19 0h.01m3.19 0h.01m1.59 0h.01m1.99 0h.01m-33.21 .2h.01m1.59 0h.01m.99 0h.01m1.79 0h.01m2.99 0h.01m3.59 0h.01m.59 0h.01m5.19 0h.01m1.99 0h.01m1.99 0h.01m3.79 0h.01m.59 0h.01m2.59 0h.01m.39 0h.01m.19 0h.01m1.59 0h.01m-30.01 .2h.01m.39 0h.01m2.19 0h.01m.19 0h.01m1.79 0h.01m.59 0h.01m1.59 0h.01m2.59 0h.01m.19 0h.01m.99 0h.01m1.39 0h.01m.19 0h.01m.79 0h.01m1.99 0h.01m.59 0h.01m2.39 0h.01m1.59 0h.01m1.39 0h.01m.19 0h.01m.19 0h.01m3.99 0h.01m5.19 0h.01m3.99 0h.01m1.79 0h.01m1.59 0h.01m31.99 0h.01m-65.81 .2h.01m.39 0h.01m2.19 0h.01m2.59 0h.01m2.99 0h.01m.19 0h.01m.19 0h.01m.19 0h.01m.19 0h.01m.79 0h.01m3.19 0h.01m.19 0h.01m1.39 0h.01m2.19 0h.01m1.59 0h.01m1.39 0h.01m5.39 0h.01m1.79 0h.01m.39 0h.01m3.19 0h.01m3.19 0h.01m1.79 0h.01m.19 0h.01m7.19 0h.01m99.39 0h.01m-144.01 .2h.01m1.79 0h.01m.79 0h.01m2.99 0h.01m3.39 0h.01m1.39 0h.01m1.99 0h.01m.59 0h.01m3.39 0h.01m.59 0h.01m.79 0h.01m.39 0h.01m2.39 0h.01m4.79 0h.01m9.59 0h.01m1.59 0h.01m2.19 0h.01m6.59 0h.01m-41.61 .2h.01m2.99 0h.01m.19 0h.01m2.79 0h.01m.59 0h.01m.79 0h.01m.19 0h.01m.19 0h.01m1.79 0h.01m.39 0h.01m1.19 0h.01m1.19 0h.01m2.39 0h.01m8.99 0h.01m2.59 0h.01m1.59 0h.01m4.19 0h.01m-38.61 .2h.01m3.59 0h.01m1.19 0h.01m.99 0h.01m3.99 0h.01m.79 0h.01m.79 0h.01m.79 0h.01m.19 0h.01m.19 0h.01m1.39 0h.01m.19 0h.01m.59 0h.01m.59 0h.01m3.19 0h.01m1.39 0h.01m1.79 0h.01m2.59 0h.01m1.59 0h.01m.99 0h.01m.39 0h.01m2.19 0h.01m.59 0h.01m2.19 0h.01m.99 0h.01m2.59 0h.01m1.79 0h.01m1.19 0h.01m-39.01 .2h.01m1.79 0h.01m1.79 0h.01m.39 0h.01m2.39 0h.01m.59 0h.01m1.59 0h.01m1.39 0h.01m.99 0h.01m.79 0h.01m.19 0h.01m.99 0h.01m1.39 0h.01m.59 0h.01m.59 0h.01m1.99 0h.01m.79 0h.01m3.19 0h.01m2.59 0h.01m.59 0h.01m2.79 0h.01m.19 0h.01m14.19 0h.01m15.19 0h.01m32.39 0h.01m-89.61 .2h.01m3.59 0h.01m1.99 0h.01m2.39 0h.01m6.39 0h.01m.39 0h.01m.79 0h.01m1.39 0h.01m.59 0h.01m1.99 0h.01m1.39 0h.01m.39 0h.01m1.19 0h.01m6.39 0h.01m.19 0h.01m.99 0h.01m2.59 0h.01m.19 0h.01m.59 0h.01m.39 0h.01m3.59 0h.01m5.59 0h.01m-43.21 .2h.01m3.19 0h.01m2.79 0h.01m1.99 0h.01m1.39 0h.01m.79 0h.01m1.19 0h.01m1.79 0h.01m.79 0h.01m.19 0h.01m1.19 0h.01m2.59 0h.01m.59 0h.01m1.99 0h.01m.99 0h.01m5.79 0h.01m1.19 0h.01m.19 0h.01m4.19 0h.01m2.79 0h.01m24.19 0h.01m-55.01 .2h.01m2.39 0h.01m.59 0h.01m1.19 0h.01m.39 0h.01m.59 0h.01m1.59 0h.01m1.39 0h.01m.99 0h.01m1.79 0h.01m.39 0h.01m.99 0h.01m3.19 0h.01m3.39 0h.01m.39 0h.01m.59 0h.01m4.99 0h.01m13.59 0h.01m-43.81 .2h.01m.19 0h.01m2.99 0h.01m1.19 0h.01m1.19 0h.01m2.59 0h.01m.79 0h.01m1.19 0h.01m2.59 0h.01m1.39 0h.01m.19 0h.01m.39 0h.01m2.99 0h.01m4.79 0h.01m1.79 0h.01m2.39 0h.01m3.59 0h.01m2.59 0h.01m-32.81 .2h.01m3.19 0h.01m.79 0h.01m.79 0h.01m.59 0h.01m2.39 0h.01m.39 0h.01m.59 0h.01m1.19 0h.01m1.79 0h.01m1.39 0h.01m1.19 0h.01m1.79 0h.01m1.19 0h.01m2.39 0h.01m2.39 0h.01m.39 0h.01m1.19 0h.01m3.79 0h.01m.59 0h.01m3.79 0h.01m.19 0h.01m9.79 0h.01m-42.21 .2h.01m.19 0h.01m.99 0h.01m.19 0h.01m3.39 0h.01m2.99 0h.01m.99 0h.01m2.99 0h.01m1.19 0h.01m.79 0h.01m.99 0h.01m.19 0h.01m5.39 0h.01m.79 0h.01m.19 0h.01m.19 0h.01m3.59 0h.01m1.59 0h.01m.79 0h.01m2.39 0h.01m6.39 0h.01m6.39 0h.01m-42.61 .2h.01m1.39 0h.01m2.79 0h.01m.79 0h.01m1.99 0h.01m.39 0h.01m.59 0h.01m1.79 0h.01m.79 0h.01m1.39 0h.01m1.19 0h.01m5.19 0h.01m.79 0h.01m3.99 0h.01m1.19 0h.01m4.39 0h.01m6.79 0h.01m3.79 0h.01m16.39 0h.01m-55.81 .2h.01m3.59 0h.01m1.39 0h.01m2.79 0h.01m1.19 0h.01m1.39 0h.01m.19 0h.01m3.99 0h.01m.99 0h.01m1.99 0h.01m.59 0h.01m2.79 0h.01m1.19 0h.01m2.19 0h.01m.19 0h.01m.59 0h.01m.79 0h.01m4.39 0h.01m1.19 0h.01m7.99 0h.01m17.39 0h.01m6.19 0h.01m-62.81 .2h.01m3.79 0h.01m1.19 0h.01m.99 0h.01m.79 0h.01m1.19 0h.01m1.79 0h.01m.19 0h.01m2.39 0h.01m.19 0h.01m4.79 0h.01m.19 0h.01m.39 0h.01m3.59 0h.01m1.39 0h.01m2.59 0h.01m.19 0h.01m2.59 0h.01m2.99 0h.01m.19 0h.01m3.19 0h.01m.59 0h.01m-35.81 .2h.01m3.79 0h.01m1.99 0h.01m.99 0h.01m1.99 0h.01m2.59 0h.01m1.19 0h.01m.19 0h.01m.39 0h.01m.39 0h.01m1.79 0h.01m1.79 0h.01m.59 0h.01m.19 0h.01m.19 0h.01m.39 0h.01m1.19 0h.01m.79 0h.01m4.59 0h.01m.19 0h.01m1.79 0h.01m.59 0h.01m.99 0h.01m.39 0h.01m2.99 0h.01m8.79 0h.01m-41.01 .2h.01m.99 0h.01m2.79 0h.01m1.79 0h.01m.19 0h.01m.39 0h.01m.19 0h.01m.79 0h.01m1.59 0h.01m.19 0h.01m2.39 0h.01m.99 0h.01m.19 0h.01m.39 0h.01m2.99 0h.01m2.59 0h.01m1.59 0h.01m.79 0h.01m1.19 0h.01m.99 0h.01m3.79 0h.01m.19 0h.01m12.19 0h.01m-39.41 .2h.01m.19 0h.01m.39 0h.01m4.79 0h.01m.99 0h.01m.39 0h.01m4.19 0h.01m1.79 0h.01m1.19 0h.01m2.19 0h.01m1.39 0h.01m.79 0h.01m.39 0h.01m.59 0h.01m.59 0h.01m.59 0h.01m.39 0h.01m1.99 0h.01m8.19 0h.01m3.39 0h.01m2.19 0h.01m6.79 0h.01m11.99 0h.01m-52.81 .2h.01m3.99 0h.01m1.99 0h.01m1.19 0h.01m1.39 0h.01m1.39 0h.01m1.59 0h.01m.39 0h.01m.19 0h.01m.19 0h.01m4.19 0h.01m7.19 0h.01m.19 0h.01m2.19 0h.01m3.39 0h.01m.39 0h.01m.79 0h.01m9.59 0h.01m8.59 0h.01m-51.81 .2h.01m1.19 0h.01m1.39 0h.01m2.99 0h.01m.79 0h.01m.39 0h.01m1.79 0h.01m.99 0h.01m.19 0h.01m.99 0h.01m1.99 0h.01m1.79 0h.01m.19 0h.01m1.59 0h.01m2.79 0h.01m.19 0h.01m1.39 0h.01m.59 0h.01m.59 0h.01m3.79 0h.01m3.39 0h.01m.99 0h.01m.19 0h.01m.99 0h.01m-30.81 .2h.01m.19 0h.01m1.59 0h.01m.59 0h.01m.19 0h.01m.79 0h.01m.99 0h.01m.79 0h.01m.39 0h.01m.59 0h.01m1.99 0h.01m.79 0h.01m.99 0h.01m.39 0h.01m.59 0h.01m8.79 0h.01m2.79 0h.01m.99 0h.01m1.39 0h.01m.99 0h.01m.39 0h.01m.79 0h.01m1.19 0h.01m11.19 0h.01m41.79 0h.01m-82.01 .2h.01m4.59 0h.01m.79 0h.01m1.99 0h.01m1.79 0h.01m1.39 0h.01m1.59 0h.01m1.19 0h.01m.19 0h.01m.39 0h.01m.19 0h.01m.79 0h.01m1.19 0h.01m1.39 0h.01m1.79 0h.01m.79 0h.01m.79 0h.01m.99 0h.01m2.59 0h.01m4.59 0h.01m.39 0h.01m3.19 0h.01m.19 0h.01m.79 0h.01m1.59 0h.01m-35.41 .2h.01m1.39 0h.01m1.19 0h.01m.19 0h.01m4.59 0h.01m.59 0h.01m2.59 0h.01m1.39 0h.01m.19 0h.01m.39 0h.01m.79 0h.01m3.79 0h.01m.39 0h.01m2.19 0h.01m.99 0h.01m.39 0h.01m4.99 0h.01m.79 0h.01m1.19 0h.01m9.79 0h.01m.59 0h.01m-38.61 .2h.01m2.39 0h.01m1.19 0h.01m2.19 0h.01m1.39 0h.01m1.19 0h.01m.19 0h.01m.59 0h.01m.59 0h.01m3.79 0h.01m.39 0h.01m1.39 0h.01m.99 0h.01m2.19 0h.01m1.99 0h.01m.19 0h.01m1.39 0h.01m1.19 0h.01m.79 0h.01m.59 0h.01m2.79 0h.01m7.59 0h.01m-35.21 .2h.01m1.59 0h.01m1.19 0h.01m1.19 0h.01m.59 0h.01m.99 0h.01m.79 0h.01m3.39 0h.01m.39 0h.01m.19 0h.01m1.39 0h.01m.99 0h.01m3.79 0h.01m3.59 0h.01m2.19 0h.01m3.39 0h.01m3.99 0h.01m2.99 0h.01m-32.81 .2h.01m.39 0h.01m2.59 0h.01m.99 0h.01m1.19 0h.01m9.79 0h.01m.99 0h.01m.39 0h.01m.79 0h.01m.19 0h.01m1.99 0h.01m1.79 0h.01m2.99 0h.01m2.19 0h.01m.59 0h.01m11.39 0h.01m4.19 0h.01m-42.61 .2h.01m3.99 0h.01m.19 0h.01m.59 0h.01m4.19 0h.01m1.19 0h.01m.59 0h.01m.79 0h.01m.19 0h.01m.39 0h.01m1.79 0h.01m2.39 0h.01m.79 0h.01m.59 0h.01m.39 0h.01m.79 0h.01m1.59 0h.01m1.39 0h.01m.99 0h.01m.59 0h.01m.99 0h.01m2.59 0h.01m.79 0h.01m2.59 0h.01m8.99 0h.01m16.39 0h.01m-56.01 .2h.01m1.39 0h.01m1.59 0h.01m1.39 0h.01m.19 0h.01m.19 0h.01m4.19 0h.01m1.59 0h.01m2.79 0h.01m4.39 0h.01m.19 0h.01m4.79 0h.01m4.99 0h.01m.59 0h.01m1.79 0h.01m7.79 0h.01m-38.01 .2h.01m1.99 0h.01m5.99 0h.01m.99 0h.01m2.59 0h.01m2.79 0h.01m.59 0h.01m1.59 0h.01m1.39 0h.01m2.99 0h.01m3.59 0h.01m3.59 0h.01m.79 0h.01m1.19 0h.01m.39 0h.01m6.99 0h.01m.99 0h.01m-38.61 .2h.01m2.99 0h.01m1.99 0h.01m.79 0h.01m.59 0h.01m1.79 0h.01m.79 0h.01m1.19 0h.01m1.79 0h.01m.59 0h.01m.99 0h.01m1.99 0h.01m.79 0h.01m4.19 0h.01m3.19 0h.01m1.79 0h.01m1.19 0h.01m4.59 0h.01m5.99 0h.01m18.39 0h.01m-55.81 .2h.01m3.99 0h.01m2.59 0h.01m.59 0h.01m1.59 0h.01m2.39 0h.01m.59 0h.01m2.19 0h.01m1.79 0h.01m1.19 0h.01m.19 0h.01m.19 0h.01m4.39 0h.01m.39 0h.01m1.99 0h.01m1.79 0h.01m8.99 0h.01m2.39 0h.01m.59 0h.01m7.59 0h.01m-45.61 .2h.01m.19 0h.01m2.99 0h.01m.39 0h.01m2.19 0h.01m.99 0h.01m.99 0h.01m3.39 0h.01m.99 0h.01m.19 0h.01m.19 0h.01m1.59 0h.01m.39 0h.01m2.99 0h.01m6.99 0h.01m1.59 0h.01m.39 0h.01m1.79 0h.01m.79 0h.01m7.99 0h.01m-37.01 .2h.01m.39 0h.01m1.19 0h.01m.79 0h.01m.59 0h.01m.79 0h.01m.59 0h.01m.39 0h.01m.19 0h.01m.19 0h.01m.59 0h.01m2.99 0h.01m1.19 0h.01m.99 0h.01m2.79 0h.01m1.19 0h.01m2.39 0h.01m3.79 0h.01m2.39 0h.01m2.59 0h.01m1.59 0h.01m3.59 0h.01m-31.61 .2h.01m6.79 0h.01m3.19 0h.01m1.19 0h.01m.99 0h.01m.19 0h.01m.99 0h.01m6.59 0h.01m6.79 0h.01m.39 0h.01m.19 0h.01m15.79 0h.01m23.39 0h.01m-66.61 .2h.01m5.79 0h.01m.79 0h.01m.59 0h.01m2.99 0h.01m.59 0h.01m.59 0h.01m.59 0h.01m.99 0h.01m1.79 0h.01m.59 0h.01m2.79 0h.01m.59 0h.01m1.19 0h.01m.59 0h.01m2.59 0h.01m4.99 0h.01m-28.21 .2h.01m.99 0h.01m2.79 0h.01m1.19 0h.01m4.59 0h.01m3.59 0h.01m1.99 0h.01m1.79 0h.01m2.59 0h.01m.99 0h.01m8.19 0h.01m-28.81 .2h.01m2.99 0h.01m1.99 0h.01m3.59 0h.01m.79 0h.01m7.19 0h.01m.99 0h.01m.59 0h.01m1.19 0h.01m2.59 0h.01m.19 0h.01m-22.21 .2h.01m11.39 0h.01m.59 0h.01m.79 0h.01m.19 0h.01m4.59 0h.01m.39 0h.01m.59 0h.01m.99 0h.01m4.39 0h.01m1.59 0h.01m1.99 0h.01m3.19 0h.01m15.79 0h.01m-40.81 .2h.01m6.19 0h.01m5.99 0h.01m-6.61 .2h.01m2.79 0h.01m7.39 0h.01m-18.61 .2h.01"/><path class="rl" d="M510.72 506.95L657.14 455.39"/><path class="ax" d="M503.05 395.9V514.1M502.45 513.5H679"/><path class="tk" d="M499.75 513.5H503.05M499.75 474.5H503.05M499.75 435.5H503.05M499.75 396.5H503.05M503.05 513.5V517M546.89 513.5V517M590.73 513.5V517M634.56 513.5V517M678.4 513.5V517"/><text class="tl" text-anchor="end" transform="translate(498.05 516.65) scale(1.19 1)">0</text><text class="tl" text-anchor="end" transform="translate(498.05 477.65) scale(1.19 1)">10</text><text class="tl" text-anchor="end" transform="translate(498.05 438.65) scale(1.19 1)">20</text><text class="tl" text-anchor="end" transform="translate(498.05 399.65) scale(1.19 1)">30</text><text class="tl" text-anchor="middle" transform="translate(503.25 528.95) scale(1.19 1)">0</text><text class="tl" text-anchor="middle" transform="translate(547.09 528.95) scale(1.19 1)">2</text><text class="tl" text-anchor="middle" transform="translate(590.93 528.95) scale(1.19 1)">4</text><text class="tl" text-anchor="middle" transform="translate(634.76 528.95) scale(1.19 1)">6</text><text class="tl" text-anchor="middle" transform="translate(678.6 528.95) scale(1.19 1)">8</text><text class="ti" text-anchor="middle" transform="translate(591.02 544.5) scale(1.23 1)">T (nmol/L)</text><text class="ti" text-anchor="middle" transform="translate(478.05 452.5) rotate(-90) scale(1.23 1)">AMH (ng/ml)</text><text class="an" transform="translate(600.9 415.6) scale(1.2 1)">P = 0.000</text><text class="an" transform="translate(600.9 428.5) scale(1.2 1)">R = 0.346</text><text class="st" transform="translate(646 414.9)">*</text></g>
<text class="lt" transform="translate(1.72 12.15) scale(1.07 1)">A</text>
<text class="lt" transform="translate(226.53 12.15) scale(1.08 1)">B</text>
<text class="lt" transform="translate(460.5 12.15) scale(1.06 1)">C</text>
<text class="lt" transform="translate(0.83 197.25) scale(1.07 1)">D</text>
<text class="lt" transform="translate(225.94 197.25) scale(1.045 1)">E</text>
<text class="lt" transform="translate(460.25 197.25)">F</text>
<text class="lt" transform="translate(1.75 387.6) scale(1.055 1)">G</text>
<text class="lt" transform="translate(226.72 387.6) scale(1.14 1)">H</text>
<text class="lt" transform="translate(461.12 387.6) scale(1.14 1)">I</text>
</svg>
</body></html>
